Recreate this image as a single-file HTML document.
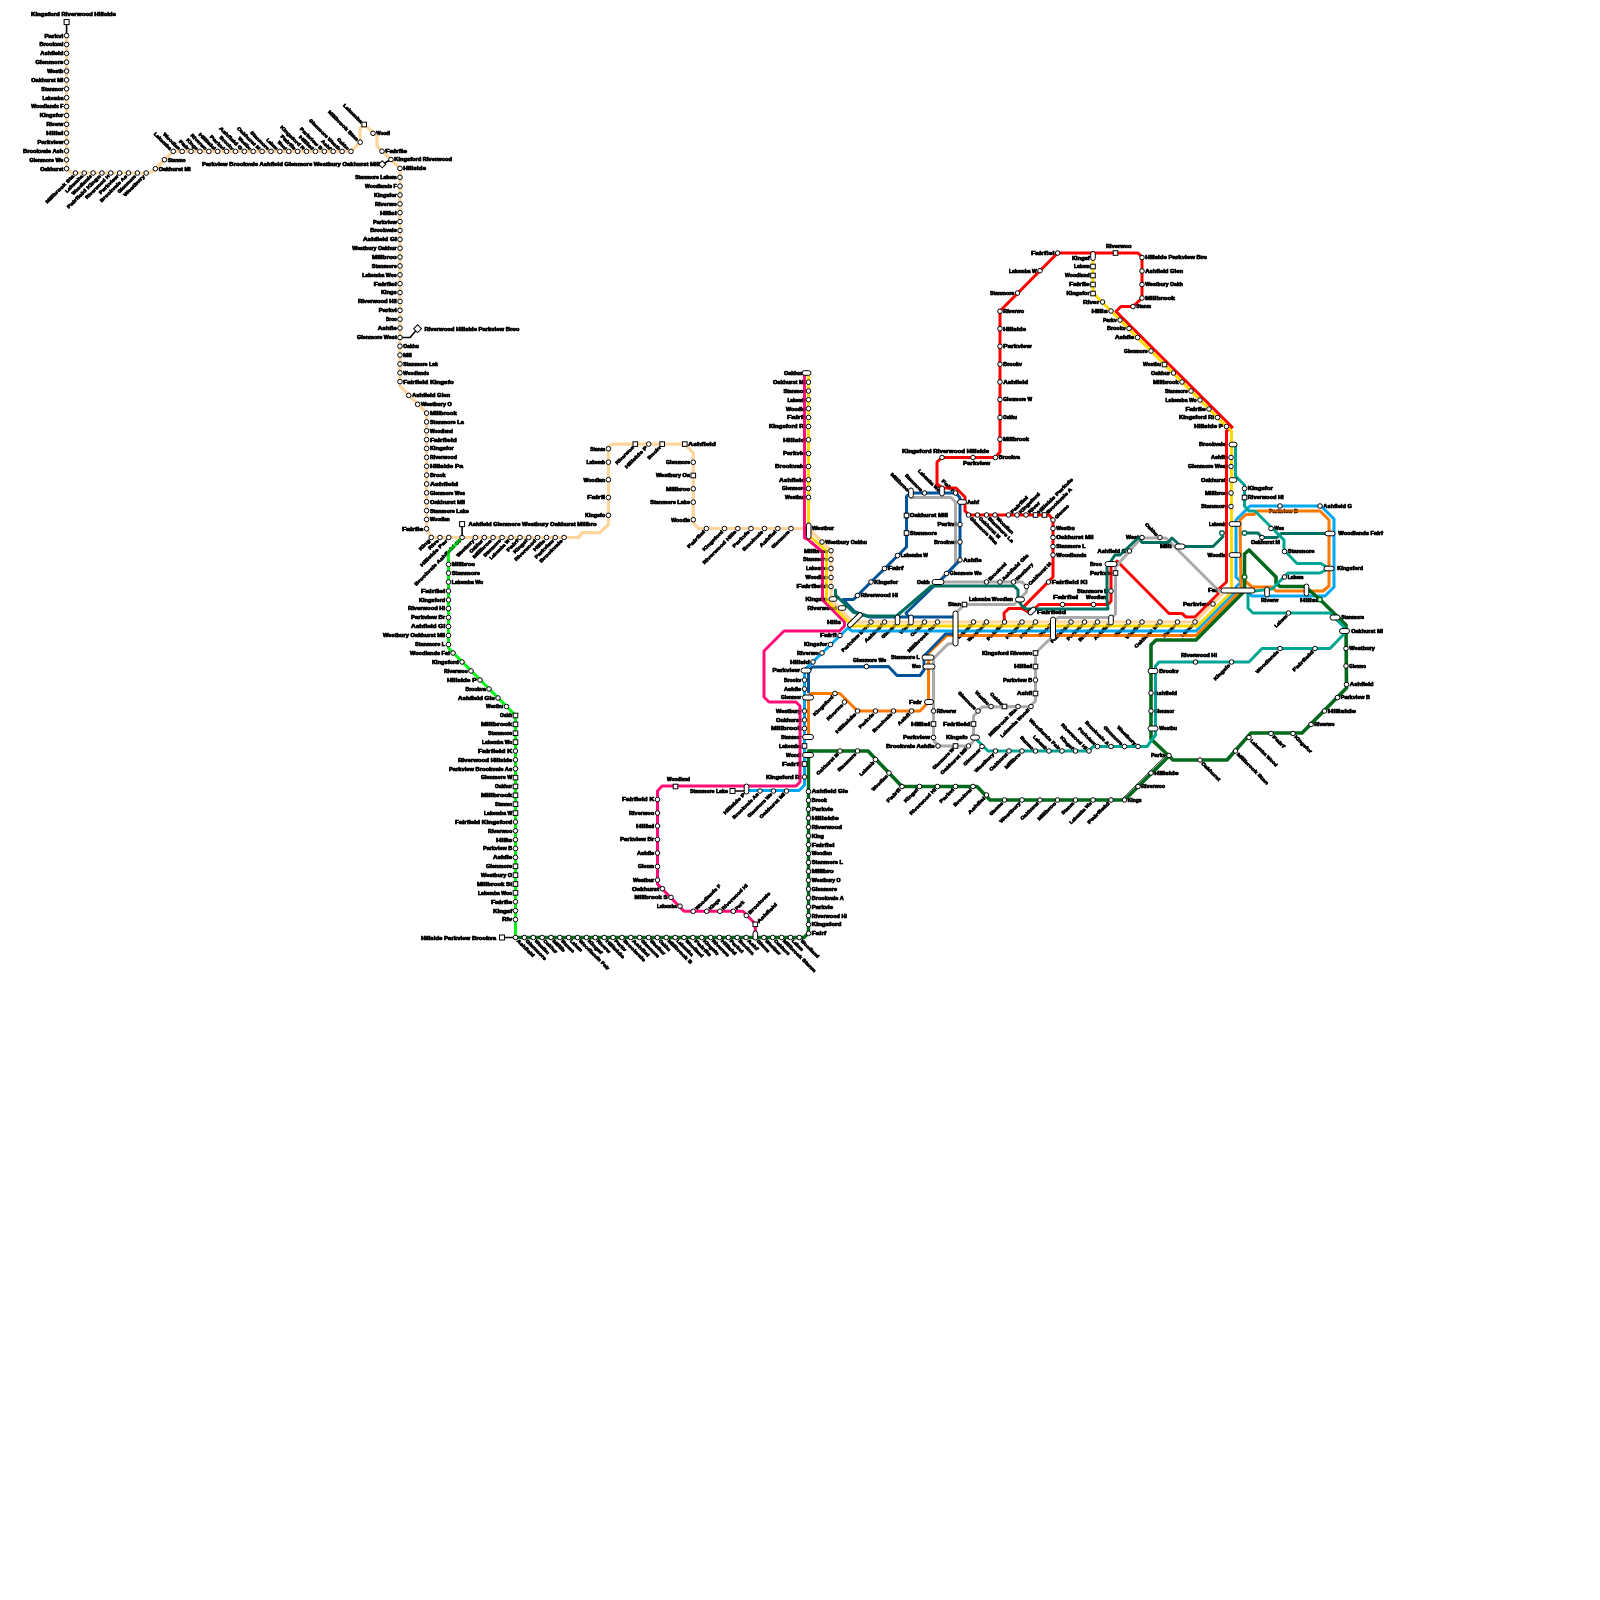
<!DOCTYPE html>
<html><head><meta charset="utf-8"><style>
html,body{margin:0;padding:0;background:#fff;width:1600px;height:1600px;overflow:hidden}
svg{display:block;will-change:transform}
text{font-family:"Liberation Sans",sans-serif;font-weight:bold;font-size:4.6px;fill:#000;stroke:#000;stroke-width:0.6px;stroke-linejoin:round}
.s{fill:#fff;stroke:#000;stroke-width:1.0}
</style></head><body>
<svg width="1600" height="1600" viewBox="0 0 1600 1600">
<text x="31.00" y="16.00" text-anchor="start" textLength="85.0" lengthAdjust="spacingAndGlyphs">Kingsford Riverwood Hillside</text>
<text x="63.30" y="37.50" text-anchor="end" textLength="18.9" lengthAdjust="spacingAndGlyphs">Parkvi</text>
<text x="63.30" y="46.37" text-anchor="end" textLength="23.9" lengthAdjust="spacingAndGlyphs">Brookval</text>
<text x="63.30" y="55.24" text-anchor="end" textLength="23.0" lengthAdjust="spacingAndGlyphs">Ashfield</text>
<text x="63.30" y="64.11" text-anchor="end" textLength="27.9" lengthAdjust="spacingAndGlyphs">Glenmore</text>
<text x="63.30" y="72.98" text-anchor="end" textLength="16.0" lengthAdjust="spacingAndGlyphs">Westb</text>
<text x="63.30" y="81.85" text-anchor="end" textLength="32.0" lengthAdjust="spacingAndGlyphs">Oakhurst Mi</text>
<text x="63.30" y="90.72" text-anchor="end" textLength="22.0" lengthAdjust="spacingAndGlyphs">Stanmor</text>
<text x="63.30" y="99.59" text-anchor="end" textLength="20.8" lengthAdjust="spacingAndGlyphs">Lakemba</text>
<text x="63.30" y="108.46" text-anchor="end" textLength="32.0" lengthAdjust="spacingAndGlyphs">Woodlands F</text>
<text x="63.30" y="117.33" text-anchor="end" textLength="23.5" lengthAdjust="spacingAndGlyphs">Kingsfor</text>
<text x="63.30" y="126.20" text-anchor="end" textLength="16.8" lengthAdjust="spacingAndGlyphs">Riverw</text>
<text x="63.30" y="135.07" text-anchor="end" textLength="17.0" lengthAdjust="spacingAndGlyphs">Hillsi</text>
<text x="63.30" y="143.94" text-anchor="end" textLength="25.8" lengthAdjust="spacingAndGlyphs">Parkview</text>
<text x="63.30" y="152.81" text-anchor="end" textLength="40.2" lengthAdjust="spacingAndGlyphs">Brookvale Ash</text>
<text x="63.30" y="161.68" text-anchor="end" textLength="33.9" lengthAdjust="spacingAndGlyphs">Glenmore We</text>
<text x="63.30" y="170.55" text-anchor="end" textLength="23.0" lengthAdjust="spacingAndGlyphs">Oakhurst</text>
<text transform="translate(75.40,173.00) rotate(-45)" x="-3.3" y="1.9" text-anchor="end" textLength="38.4" lengthAdjust="spacingAndGlyphs">Millbrook Sta</text>
<text transform="translate(84.25,173.00) rotate(-45)" x="-3.3" y="1.9" text-anchor="end" textLength="23.1" lengthAdjust="spacingAndGlyphs">Lakemba</text>
<text transform="translate(93.10,173.00) rotate(-45)" x="-3.3" y="1.9" text-anchor="end" textLength="26.3" lengthAdjust="spacingAndGlyphs">Woodlands</text>
<text transform="translate(101.95,173.00) rotate(-45)" x="-3.3" y="1.9" text-anchor="end" textLength="45.4" lengthAdjust="spacingAndGlyphs">Fairfield Kings</text>
<text transform="translate(110.80,173.00) rotate(-45)" x="-3.3" y="1.9" text-anchor="end" textLength="32.1" lengthAdjust="spacingAndGlyphs">Riverwood H</text>
<text transform="translate(119.65,173.00) rotate(-45)" x="-3.3" y="1.9" text-anchor="end" textLength="25.3" lengthAdjust="spacingAndGlyphs">Parkview</text>
<text transform="translate(128.50,173.00) rotate(-45)" x="-3.3" y="1.9" text-anchor="end" textLength="36.6" lengthAdjust="spacingAndGlyphs">Brookvale As</text>
<text transform="translate(137.35,173.00) rotate(-45)" x="-3.3" y="1.9" text-anchor="end" textLength="23.9" lengthAdjust="spacingAndGlyphs">Glenmore</text>
<text transform="translate(146.20,173.00) rotate(-45)" x="-3.3" y="1.9" text-anchor="end" textLength="28.4" lengthAdjust="spacingAndGlyphs">Westbury</text>
<text x="158.70" y="170.65" textLength="31.9" lengthAdjust="spacingAndGlyphs">Oakhurst Mi</text>
<text x="167.70" y="161.65" textLength="17.9" lengthAdjust="spacingAndGlyphs">Stanmo</text>
<text transform="translate(173.25,151.40) rotate(45)" x="-3.3" y="1.9" text-anchor="end" textLength="22.9" lengthAdjust="spacingAndGlyphs">Lakemba</text>
<text transform="translate(182.14,151.40) rotate(45)" x="-3.3" y="1.9" text-anchor="end" textLength="22.4" lengthAdjust="spacingAndGlyphs">Woodlan</text>
<text transform="translate(191.02,151.40) rotate(45)" x="-3.3" y="1.9" text-anchor="end" textLength="12.4" lengthAdjust="spacingAndGlyphs">Fair</text>
<text transform="translate(199.91,151.40) rotate(45)" x="-3.3" y="1.9" text-anchor="end" textLength="14.4" lengthAdjust="spacingAndGlyphs">Kings</text>
<text transform="translate(208.80,151.40) rotate(45)" x="-3.3" y="1.9" text-anchor="end" textLength="20.9" lengthAdjust="spacingAndGlyphs">Riverwo</text>
<text transform="translate(217.69,151.40) rotate(45)" x="-3.3" y="1.9" text-anchor="end" textLength="22.2" lengthAdjust="spacingAndGlyphs">Hillsid</text>
<text transform="translate(226.57,151.40) rotate(45)" x="-3.3" y="1.9" text-anchor="end" textLength="18.9" lengthAdjust="spacingAndGlyphs">Parkvi</text>
<text transform="translate(235.46,151.40) rotate(45)" x="-3.3" y="1.9" text-anchor="end" textLength="17.9" lengthAdjust="spacingAndGlyphs">Brookv</text>
<text transform="translate(244.35,151.40) rotate(45)" x="-3.3" y="1.9" text-anchor="end" textLength="30.5" lengthAdjust="spacingAndGlyphs">Ashfield G</text>
<text transform="translate(253.23,151.40) rotate(45)" x="-3.3" y="1.9" text-anchor="end" textLength="16.6" lengthAdjust="spacingAndGlyphs">Westbu</text>
<text transform="translate(262.12,151.40) rotate(45)" x="-3.3" y="1.9" text-anchor="end" textLength="30.8" lengthAdjust="spacingAndGlyphs">Oakhurst M</text>
<text transform="translate(271.01,151.40) rotate(45)" x="-3.3" y="1.9" text-anchor="end" textLength="24.5" lengthAdjust="spacingAndGlyphs">Stanmore</text>
<text transform="translate(279.89,151.40) rotate(45)" x="-3.3" y="1.9" text-anchor="end" textLength="14.5" lengthAdjust="spacingAndGlyphs">Lakem</text>
<text transform="translate(288.78,151.40) rotate(45)" x="-3.3" y="1.9" text-anchor="end" textLength="11.1" lengthAdjust="spacingAndGlyphs">Wood</text>
<text transform="translate(297.67,151.40) rotate(45)" x="-3.3" y="1.9" text-anchor="end" textLength="19.5" lengthAdjust="spacingAndGlyphs">Fairfie</text>
<text transform="translate(306.56,151.40) rotate(45)" x="-3.3" y="1.9" text-anchor="end" textLength="32.4" lengthAdjust="spacingAndGlyphs">Kingsford R</text>
<text transform="translate(315.44,151.40) rotate(45)" x="-3.3" y="1.9" text-anchor="end" textLength="18.6" lengthAdjust="spacingAndGlyphs">Hillsi</text>
<text transform="translate(324.33,151.40) rotate(45)" x="-3.3" y="1.9" text-anchor="end" textLength="29.9" lengthAdjust="spacingAndGlyphs">Parkview B</text>
<text transform="translate(333.22,151.40) rotate(45)" x="-3.3" y="1.9" text-anchor="end" textLength="12.5" lengthAdjust="spacingAndGlyphs">Ashf</text>
<text transform="translate(342.10,151.40) rotate(45)" x="-3.3" y="1.9" text-anchor="end" textLength="41.9" lengthAdjust="spacingAndGlyphs">Glenmore Westb</text>
<text transform="translate(350.99,151.40) rotate(45)" x="-3.3" y="1.9" text-anchor="end" textLength="15.1" lengthAdjust="spacingAndGlyphs">Oakhu</text>
<text transform="translate(360.20,142.20) rotate(45)" x="-3.3" y="1.9" text-anchor="end" textLength="40.8" lengthAdjust="spacingAndGlyphs">Millbrook Stan</text>
<text transform="translate(364.20,124.50) rotate(45)" x="-3.3" y="1.9" text-anchor="end" textLength="25.3" lengthAdjust="spacingAndGlyphs">Lakemba</text>
<text x="376.30" y="135.20" textLength="13.7" lengthAdjust="spacingAndGlyphs">Woodl</text>
<text x="385.30" y="153.10" textLength="21.7" lengthAdjust="spacingAndGlyphs">Fairfie</text>
<text x="394.30" y="161.40" textLength="57.7" lengthAdjust="spacingAndGlyphs">Kingsford Riverwood</text>
<text x="403.30" y="170.30" textLength="22.7" lengthAdjust="spacingAndGlyphs">Hillside</text>
<text x="202.00" y="166.00" text-anchor="start" textLength="178.0" lengthAdjust="spacingAndGlyphs">Parkview Brookvale Ashfield Glenmore Westbury Oakhurst Mill</text>
<text x="396.70" y="179.17" text-anchor="end" textLength="41.5" lengthAdjust="spacingAndGlyphs">Stanmore Lakem</text>
<text x="396.70" y="188.04" text-anchor="end" textLength="31.7" lengthAdjust="spacingAndGlyphs">Woodlands F</text>
<text x="396.70" y="196.91" text-anchor="end" textLength="22.6" lengthAdjust="spacingAndGlyphs">Kingsfor</text>
<text x="396.70" y="205.78" text-anchor="end" textLength="21.8" lengthAdjust="spacingAndGlyphs">Riverwo</text>
<text x="396.70" y="214.65" text-anchor="end" textLength="16.7" lengthAdjust="spacingAndGlyphs">Hillsi</text>
<text x="396.70" y="223.52" text-anchor="end" textLength="23.7" lengthAdjust="spacingAndGlyphs">Parkview</text>
<text x="396.70" y="232.39" text-anchor="end" textLength="26.5" lengthAdjust="spacingAndGlyphs">Brookvale</text>
<text x="396.70" y="241.26" text-anchor="end" textLength="33.7" lengthAdjust="spacingAndGlyphs">Ashfield Gl</text>
<text x="396.70" y="250.13" text-anchor="end" textLength="44.5" lengthAdjust="spacingAndGlyphs">Westbury Oakhur</text>
<text x="396.70" y="259.00" text-anchor="end" textLength="24.7" lengthAdjust="spacingAndGlyphs">Millbroo</text>
<text x="396.70" y="267.87" text-anchor="end" textLength="24.9" lengthAdjust="spacingAndGlyphs">Stanmore</text>
<text x="396.70" y="276.74" text-anchor="end" textLength="34.4" lengthAdjust="spacingAndGlyphs">Lakemba Woo</text>
<text x="396.70" y="285.61" text-anchor="end" textLength="22.9" lengthAdjust="spacingAndGlyphs">Fairfiel</text>
<text x="396.70" y="294.48" text-anchor="end" textLength="15.7" lengthAdjust="spacingAndGlyphs">Kings</text>
<text x="396.70" y="303.35" text-anchor="end" textLength="38.7" lengthAdjust="spacingAndGlyphs">Riverwood Hil</text>
<text x="396.70" y="312.22" text-anchor="end" textLength="17.9" lengthAdjust="spacingAndGlyphs">Parkvi</text>
<text x="396.70" y="321.09" text-anchor="end" textLength="10.6" lengthAdjust="spacingAndGlyphs">Broo</text>
<text x="396.70" y="329.96" text-anchor="end" textLength="19.0" lengthAdjust="spacingAndGlyphs">Ashfie</text>
<text x="396.70" y="339.40" text-anchor="end" textLength="39.7" lengthAdjust="spacingAndGlyphs">Glenmore West</text>
<text x="403.30" y="348.10" textLength="15.4" lengthAdjust="spacingAndGlyphs">Oakhu</text>
<text x="403.30" y="356.97" textLength="8.4" lengthAdjust="spacingAndGlyphs">Mil</text>
<text x="403.30" y="365.84" textLength="34.7" lengthAdjust="spacingAndGlyphs">Stanmore Lak</text>
<text x="403.30" y="374.71" textLength="25.5" lengthAdjust="spacingAndGlyphs">Woodlands</text>
<text x="403.30" y="383.58" textLength="50.4" lengthAdjust="spacingAndGlyphs">Fairfield Kingsfo</text>
<text x="424.40" y="330.60" text-anchor="start" textLength="95.0" lengthAdjust="spacingAndGlyphs">Riverwood Hillside Parkview Broo</text>
<text x="412.00" y="397.30" textLength="38.2" lengthAdjust="spacingAndGlyphs">Ashfield Glen</text>
<text x="420.90" y="406.20" textLength="30.9" lengthAdjust="spacingAndGlyphs">Westbury O</text>
<text x="429.90" y="415.00" textLength="26.9" lengthAdjust="spacingAndGlyphs">Millbrook</text>
<text x="429.90" y="423.80" textLength="33.9" lengthAdjust="spacingAndGlyphs">Stanmore La</text>
<text x="429.90" y="432.67" textLength="23.0" lengthAdjust="spacingAndGlyphs">Woodland</text>
<text x="429.90" y="441.54" textLength="26.9" lengthAdjust="spacingAndGlyphs">Fairfield</text>
<text x="429.90" y="450.41" textLength="23.8" lengthAdjust="spacingAndGlyphs">Kingsfor</text>
<text x="429.90" y="459.28" textLength="27.0" lengthAdjust="spacingAndGlyphs">Riverwood</text>
<text x="429.90" y="468.15" textLength="33.2" lengthAdjust="spacingAndGlyphs">Hillside Pa</text>
<text x="429.90" y="477.02" textLength="15.7" lengthAdjust="spacingAndGlyphs">Brook</text>
<text x="429.90" y="485.89" textLength="28.2" lengthAdjust="spacingAndGlyphs">Ashfield</text>
<text x="429.90" y="494.76" textLength="35.1" lengthAdjust="spacingAndGlyphs">Glenmore Wes</text>
<text x="429.90" y="503.63" textLength="35.1" lengthAdjust="spacingAndGlyphs">Oakhurst Mil</text>
<text x="429.90" y="512.50" textLength="38.8" lengthAdjust="spacingAndGlyphs">Stanmore Lake</text>
<text x="429.90" y="521.37" textLength="19.8" lengthAdjust="spacingAndGlyphs">Woodlan</text>
<text x="423.30" y="530.65" text-anchor="end" textLength="21.4" lengthAdjust="spacingAndGlyphs">Fairfie</text>
<text transform="translate(431.25,537.50) rotate(-45)" x="-3.3" y="1.9" text-anchor="end" textLength="13.5" lengthAdjust="spacingAndGlyphs">King</text>
<text transform="translate(440.00,537.50) rotate(-45)" x="-3.3" y="1.9" text-anchor="end" textLength="12.6" lengthAdjust="spacingAndGlyphs">Rive</text>
<text transform="translate(448.75,537.50) rotate(-45)" x="-3.3" y="1.9" text-anchor="end" textLength="36.5" lengthAdjust="spacingAndGlyphs">Hillside Par</text>
<text transform="translate(462.10,537.50) rotate(-45)" x="-3.3" y="1.9" text-anchor="end" textLength="63.3" lengthAdjust="spacingAndGlyphs">Brookvale Ashfield Gl</text>
<text transform="translate(475.40,537.50) rotate(-45)" x="-3.3" y="1.9" text-anchor="end" textLength="22.9" lengthAdjust="spacingAndGlyphs">Westbury</text>
<text transform="translate(484.40,537.50) rotate(-45)" x="-3.3" y="1.9" text-anchor="end" textLength="17.1" lengthAdjust="spacingAndGlyphs">Oakhur</text>
<text transform="translate(493.10,537.50) rotate(-45)" x="-3.3" y="1.9" text-anchor="end" textLength="25.0" lengthAdjust="spacingAndGlyphs">Millbroo</text>
<text transform="translate(502.10,537.50) rotate(-45)" x="-3.3" y="1.9" text-anchor="end" textLength="22.6" lengthAdjust="spacingAndGlyphs">Stanmore</text>
<text transform="translate(511.00,537.50) rotate(-45)" x="-3.3" y="1.9" text-anchor="end" textLength="26.4" lengthAdjust="spacingAndGlyphs">Lakemba W</text>
<text transform="translate(520.00,537.50) rotate(-45)" x="-3.3" y="1.9" text-anchor="end" textLength="15.2" lengthAdjust="spacingAndGlyphs">Fairf</text>
<text transform="translate(528.75,537.50) rotate(-45)" x="-3.3" y="1.9" text-anchor="end" textLength="17.9" lengthAdjust="spacingAndGlyphs">Kingsf</text>
<text transform="translate(537.50,537.50) rotate(-45)" x="-3.3" y="1.9" text-anchor="end" textLength="28.5" lengthAdjust="spacingAndGlyphs">Riverwood</text>
<text transform="translate(546.50,537.50) rotate(-45)" x="-3.3" y="1.9" text-anchor="end" textLength="14.7" lengthAdjust="spacingAndGlyphs">Hills</text>
<text transform="translate(555.25,537.50) rotate(-45)" x="-3.3" y="1.9" text-anchor="end" textLength="25.3" lengthAdjust="spacingAndGlyphs">Parkview</text>
<text transform="translate(564.10,537.50) rotate(-45)" x="-3.3" y="1.9" text-anchor="end" textLength="30.8" lengthAdjust="spacingAndGlyphs">Brookvale</text>
<text x="468.50" y="526.00" text-anchor="start" textLength="128.0" lengthAdjust="spacingAndGlyphs">Ashfield Glenmore Westbury Oakhurst Millbro</text>
<text x="605.10" y="450.65" text-anchor="end" textLength="14.9" lengthAdjust="spacingAndGlyphs">Stanm</text>
<text x="605.10" y="464.10" text-anchor="end" textLength="18.7" lengthAdjust="spacingAndGlyphs">Lakemb</text>
<text x="605.10" y="481.60" text-anchor="end" textLength="21.7" lengthAdjust="spacingAndGlyphs">Woodlan</text>
<text x="605.10" y="499.40" text-anchor="end" textLength="17.8" lengthAdjust="spacingAndGlyphs">Fairfi</text>
<text x="605.10" y="517.20" text-anchor="end" textLength="20.1" lengthAdjust="spacingAndGlyphs">Kingsfo</text>
<text transform="translate(635.30,444.10) rotate(-45)" x="-3.3" y="1.9" text-anchor="end" textLength="24.1" lengthAdjust="spacingAndGlyphs">Riverwoo</text>
<text transform="translate(648.70,444.10) rotate(-45)" x="-3.3" y="1.9" text-anchor="end" textLength="29.8" lengthAdjust="spacingAndGlyphs">Hillside P</text>
<text transform="translate(662.20,444.10) rotate(-45)" x="-3.3" y="1.9" text-anchor="end" textLength="17.1" lengthAdjust="spacingAndGlyphs">Brookv</text>
<text x="688.10" y="446.00" textLength="27.7" lengthAdjust="spacingAndGlyphs">Ashfield</text>
<text x="690.00" y="464.20" text-anchor="end" textLength="23.9" lengthAdjust="spacingAndGlyphs">Glenmore</text>
<text x="690.00" y="477.40" text-anchor="end" textLength="34.0" lengthAdjust="spacingAndGlyphs">Westbury Oa</text>
<text x="690.00" y="490.70" text-anchor="end" textLength="23.9" lengthAdjust="spacingAndGlyphs">Millbroo</text>
<text x="690.00" y="504.10" text-anchor="end" textLength="39.8" lengthAdjust="spacingAndGlyphs">Stanmore Lake</text>
<text x="690.00" y="521.60" text-anchor="end" textLength="18.7" lengthAdjust="spacingAndGlyphs">Woodla</text>
<text transform="translate(706.40,528.50) rotate(-45)" x="-3.3" y="1.9" text-anchor="end" textLength="23.1" lengthAdjust="spacingAndGlyphs">Fairfiel</text>
<text transform="translate(724.50,528.50) rotate(-45)" x="-3.3" y="1.9" text-anchor="end" textLength="27.1" lengthAdjust="spacingAndGlyphs">Kingsford</text>
<text transform="translate(737.75,528.50) rotate(-45)" x="-3.3" y="1.9" text-anchor="end" textLength="45.8" lengthAdjust="spacingAndGlyphs">Riverwood Hills</text>
<text transform="translate(751.00,528.50) rotate(-45)" x="-3.3" y="1.9" text-anchor="end" textLength="22.2" lengthAdjust="spacingAndGlyphs">Parkvie</text>
<text transform="translate(764.50,528.50) rotate(-45)" x="-3.3" y="1.9" text-anchor="end" textLength="27.1" lengthAdjust="spacingAndGlyphs">Brookvale</text>
<text transform="translate(777.75,528.50) rotate(-45)" x="-3.3" y="1.9" text-anchor="end" textLength="21.8" lengthAdjust="spacingAndGlyphs">Ashfiel</text>
<text transform="translate(791.00,528.50) rotate(-45)" x="-3.3" y="1.9" text-anchor="end" textLength="23.6" lengthAdjust="spacingAndGlyphs">Glenmore</text>
<text x="812.00" y="530.40" text-anchor="start" textLength="22.0" lengthAdjust="spacingAndGlyphs">Westbur</text>
<text x="805.20" y="384.10" text-anchor="end" textLength="32.2" lengthAdjust="spacingAndGlyphs">Oakhurst Mi</text>
<text x="805.20" y="392.90" text-anchor="end" textLength="21.7" lengthAdjust="spacingAndGlyphs">Stanmor</text>
<text x="805.20" y="401.65" text-anchor="end" textLength="17.7" lengthAdjust="spacingAndGlyphs">Lakemb</text>
<text x="805.20" y="410.50" text-anchor="end" textLength="19.2" lengthAdjust="spacingAndGlyphs">Woodla</text>
<text x="805.20" y="419.40" text-anchor="end" textLength="18.2" lengthAdjust="spacingAndGlyphs">Fairfi</text>
<text x="805.20" y="428.40" text-anchor="end" textLength="36.2" lengthAdjust="spacingAndGlyphs">Kingsford Ri</text>
<text x="805.20" y="441.65" text-anchor="end" textLength="22.2" lengthAdjust="spacingAndGlyphs">Hillsid</text>
<text x="805.20" y="455.40" text-anchor="end" textLength="22.2" lengthAdjust="spacingAndGlyphs">Parkvie</text>
<text x="805.20" y="468.40" text-anchor="end" textLength="30.2" lengthAdjust="spacingAndGlyphs">Brookvale</text>
<text x="805.20" y="481.65" text-anchor="end" textLength="26.2" lengthAdjust="spacingAndGlyphs">Ashfield</text>
<text x="805.20" y="490.40" text-anchor="end" textLength="23.2" lengthAdjust="spacingAndGlyphs">Glenmore</text>
<text x="805.20" y="499.20" text-anchor="end" textLength="20.2" lengthAdjust="spacingAndGlyphs">Westbur</text>
<text x="784.00" y="375.00" text-anchor="start" textLength="19.0" lengthAdjust="spacingAndGlyphs">Oakhur</text>
<text x="451.80" y="566.30" textLength="23.2" lengthAdjust="spacingAndGlyphs">Millbroo</text>
<text x="451.80" y="575.00" textLength="28.2" lengthAdjust="spacingAndGlyphs">Stanmore</text>
<text x="451.80" y="583.90" textLength="31.2" lengthAdjust="spacingAndGlyphs">Lakemba Wo</text>
<text x="445.20" y="592.90" text-anchor="end" textLength="24.2" lengthAdjust="spacingAndGlyphs">Fairfiel</text>
<text x="445.20" y="601.90" text-anchor="end" textLength="26.2" lengthAdjust="spacingAndGlyphs">Kingsford</text>
<text x="445.20" y="610.40" text-anchor="end" textLength="37.2" lengthAdjust="spacingAndGlyphs">Riverwood Hi</text>
<text x="445.20" y="619.40" text-anchor="end" textLength="34.2" lengthAdjust="spacingAndGlyphs">Parkview Br</text>
<text x="445.20" y="628.40" text-anchor="end" textLength="34.2" lengthAdjust="spacingAndGlyphs">Ashfield Gl</text>
<text x="445.20" y="637.40" text-anchor="end" textLength="62.2" lengthAdjust="spacingAndGlyphs">Westbury Oakhurst Mil</text>
<text x="445.20" y="646.40" text-anchor="end" textLength="30.2" lengthAdjust="spacingAndGlyphs">Stanmore L</text>
<text x="449.70" y="654.90" text-anchor="end" textLength="39.7" lengthAdjust="spacingAndGlyphs">Woodlands Fai</text>
<text x="458.70" y="663.90" text-anchor="end" textLength="26.7" lengthAdjust="spacingAndGlyphs">Kingsford</text>
<text x="467.70" y="672.90" text-anchor="end" textLength="23.7" lengthAdjust="spacingAndGlyphs">Riverwoo</text>
<text x="476.70" y="681.90" text-anchor="end" textLength="29.7" lengthAdjust="spacingAndGlyphs">Hillside P</text>
<text x="485.70" y="690.90" text-anchor="end" textLength="20.2" lengthAdjust="spacingAndGlyphs">Brookva</text>
<text x="494.70" y="699.90" text-anchor="end" textLength="36.7" lengthAdjust="spacingAndGlyphs">Ashfield Gle</text>
<text x="503.20" y="708.40" text-anchor="end" textLength="17.2" lengthAdjust="spacingAndGlyphs">Westbu</text>
<text x="512.20" y="717.40" text-anchor="end" textLength="12.2" lengthAdjust="spacingAndGlyphs">Oakh</text>
<text x="512.20" y="726.27" text-anchor="end" textLength="31.2" lengthAdjust="spacingAndGlyphs">Millbrook</text>
<text x="512.20" y="735.14" text-anchor="end" textLength="24.2" lengthAdjust="spacingAndGlyphs">Stanmore</text>
<text x="512.20" y="744.01" text-anchor="end" textLength="30.2" lengthAdjust="spacingAndGlyphs">Lakemba Wo</text>
<text x="512.20" y="752.88" text-anchor="end" textLength="34.2" lengthAdjust="spacingAndGlyphs">Fairfield K</text>
<text x="512.20" y="761.75" text-anchor="end" textLength="54.2" lengthAdjust="spacingAndGlyphs">Riverwood Hillside</text>
<text x="512.20" y="770.62" text-anchor="end" textLength="63.2" lengthAdjust="spacingAndGlyphs">Parkview Brookvale As</text>
<text x="512.20" y="779.49" text-anchor="end" textLength="31.2" lengthAdjust="spacingAndGlyphs">Glenmore W</text>
<text x="512.20" y="788.36" text-anchor="end" textLength="17.2" lengthAdjust="spacingAndGlyphs">Oakhur</text>
<text x="512.20" y="797.23" text-anchor="end" textLength="31.2" lengthAdjust="spacingAndGlyphs">Millbrook</text>
<text x="512.20" y="806.10" text-anchor="end" textLength="17.2" lengthAdjust="spacingAndGlyphs">Stanmo</text>
<text x="512.20" y="814.97" text-anchor="end" textLength="28.2" lengthAdjust="spacingAndGlyphs">Lakemba W</text>
<text x="512.20" y="823.84" text-anchor="end" textLength="57.2" lengthAdjust="spacingAndGlyphs">Fairfield Kingsford</text>
<text x="512.20" y="832.71" text-anchor="end" textLength="24.2" lengthAdjust="spacingAndGlyphs">Riverwoo</text>
<text x="512.20" y="841.58" text-anchor="end" textLength="16.2" lengthAdjust="spacingAndGlyphs">Hills</text>
<text x="512.20" y="850.45" text-anchor="end" textLength="29.2" lengthAdjust="spacingAndGlyphs">Parkview B</text>
<text x="512.20" y="859.32" text-anchor="end" textLength="19.2" lengthAdjust="spacingAndGlyphs">Ashfie</text>
<text x="512.20" y="868.19" text-anchor="end" textLength="26.2" lengthAdjust="spacingAndGlyphs">Glenmore</text>
<text x="512.20" y="877.06" text-anchor="end" textLength="31.2" lengthAdjust="spacingAndGlyphs">Westbury O</text>
<text x="512.20" y="885.93" text-anchor="end" textLength="35.2" lengthAdjust="spacingAndGlyphs">Millbrook St</text>
<text x="512.20" y="894.80" text-anchor="end" textLength="34.2" lengthAdjust="spacingAndGlyphs">Lakemba Woo</text>
<text x="512.20" y="903.67" text-anchor="end" textLength="21.2" lengthAdjust="spacingAndGlyphs">Fairfie</text>
<text x="512.20" y="912.54" text-anchor="end" textLength="19.2" lengthAdjust="spacingAndGlyphs">Kingsf</text>
<text x="512.20" y="921.41" text-anchor="end" textLength="10.2" lengthAdjust="spacingAndGlyphs">Riv</text>
<text x="496.00" y="939.50" text-anchor="end" textLength="75.0" lengthAdjust="spacingAndGlyphs">Hillside Parkview Brookva</text>
<text transform="translate(515.50,937.50) rotate(45)" x="3.3" y="1.9" textLength="22.9" lengthAdjust="spacingAndGlyphs">Ashfield</text>
<text transform="translate(524.37,937.50) rotate(45)" x="3.3" y="1.9" textLength="27.3" lengthAdjust="spacingAndGlyphs">Glenmore</text>
<text transform="translate(533.24,937.50) rotate(45)" x="3.3" y="1.9" textLength="19.0" lengthAdjust="spacingAndGlyphs">Westbu</text>
<text transform="translate(542.11,937.50) rotate(45)" x="3.3" y="1.9" textLength="17.8" lengthAdjust="spacingAndGlyphs">Oakhur</text>
<text transform="translate(550.98,937.50) rotate(45)" x="3.3" y="1.9" textLength="15.8" lengthAdjust="spacingAndGlyphs">Millb</text>
<text transform="translate(559.85,937.50) rotate(45)" x="3.3" y="1.9" textLength="16.7" lengthAdjust="spacingAndGlyphs">Stanmo</text>
<text transform="translate(568.72,937.50) rotate(45)" x="3.3" y="1.9" textLength="15.5" lengthAdjust="spacingAndGlyphs">Lakem</text>
<text transform="translate(577.59,937.50) rotate(45)" x="3.3" y="1.9" textLength="41.1" lengthAdjust="spacingAndGlyphs">Woodlands Fair</text>
<text transform="translate(586.46,937.50) rotate(45)" x="3.3" y="1.9" textLength="18.7" lengthAdjust="spacingAndGlyphs">Kingsf</text>
<text transform="translate(595.33,937.50) rotate(45)" x="3.3" y="1.9" textLength="17.4" lengthAdjust="spacingAndGlyphs">Riverw</text>
<text transform="translate(604.20,937.50) rotate(45)" x="3.3" y="1.9" textLength="24.7" lengthAdjust="spacingAndGlyphs">Hillside</text>
<text transform="translate(613.07,937.50) rotate(45)" x="3.3" y="1.9" textLength="15.0" lengthAdjust="spacingAndGlyphs">Parkv</text>
<text transform="translate(621.94,937.50) rotate(45)" x="3.3" y="1.9" textLength="29.3" lengthAdjust="spacingAndGlyphs">Brookvale</text>
<text transform="translate(630.81,937.50) rotate(45)" x="3.3" y="1.9" textLength="22.4" lengthAdjust="spacingAndGlyphs">Ashfiel</text>
<text transform="translate(639.68,937.50) rotate(45)" x="3.3" y="1.9" textLength="24.0" lengthAdjust="spacingAndGlyphs">Glenmore</text>
<text transform="translate(648.55,937.50) rotate(45)" x="3.3" y="1.9" textLength="20.0" lengthAdjust="spacingAndGlyphs">Westbur</text>
<text transform="translate(657.42,937.50) rotate(45)" x="3.3" y="1.9" textLength="14.8" lengthAdjust="spacingAndGlyphs">Oakhu</text>
<text transform="translate(666.29,937.50) rotate(45)" x="3.3" y="1.9" textLength="32.5" lengthAdjust="spacingAndGlyphs">Millbrook S</text>
<text transform="translate(675.16,937.50) rotate(45)" x="3.3" y="1.9" textLength="21.5" lengthAdjust="spacingAndGlyphs">Lakemba</text>
<text transform="translate(684.03,937.50) rotate(45)" x="3.3" y="1.9" textLength="23.4" lengthAdjust="spacingAndGlyphs">Woodland</text>
<text transform="translate(692.90,937.50) rotate(45)" x="3.3" y="1.9" textLength="21.9" lengthAdjust="spacingAndGlyphs">Fairfie</text>
<text transform="translate(701.77,937.50) rotate(45)" x="3.3" y="1.9" textLength="20.5" lengthAdjust="spacingAndGlyphs">Kingsfo</text>
<text transform="translate(710.64,937.50) rotate(45)" x="3.3" y="1.9" textLength="22.4" lengthAdjust="spacingAndGlyphs">Riverwo</text>
<text transform="translate(719.51,937.50) rotate(45)" x="3.3" y="1.9" textLength="20.0" lengthAdjust="spacingAndGlyphs">Hillsid</text>
<text transform="translate(728.38,937.50) rotate(45)" x="3.3" y="1.9" textLength="17.4" lengthAdjust="spacingAndGlyphs">Parkvi</text>
<text transform="translate(737.25,937.50) rotate(45)" x="3.3" y="1.9" textLength="19.7" lengthAdjust="spacingAndGlyphs">Brookva</text>
<text transform="translate(746.12,937.50) rotate(45)" x="3.3" y="1.9" textLength="13.5" lengthAdjust="spacingAndGlyphs">Ashf</text>
<text transform="translate(755.30,937.50) rotate(45)" x="3.3" y="1.9" textLength="16.4" lengthAdjust="spacingAndGlyphs">Glenm</text>
<text transform="translate(763.86,937.50) rotate(45)" x="3.3" y="1.9" textLength="20.2" lengthAdjust="spacingAndGlyphs">Westbur</text>
<text transform="translate(772.73,937.50) rotate(45)" x="3.3" y="1.9" textLength="20.4" lengthAdjust="spacingAndGlyphs">Oakhurs</text>
<text transform="translate(781.60,937.50) rotate(45)" x="3.3" y="1.9" textLength="44.5" lengthAdjust="spacingAndGlyphs">Millbrook Stanm</text>
<text transform="translate(790.47,937.50) rotate(45)" x="3.3" y="1.9" textLength="14.4" lengthAdjust="spacingAndGlyphs">Lakem</text>
<text transform="translate(799.34,937.50) rotate(45)" x="3.3" y="1.9" textLength="24.2" lengthAdjust="spacingAndGlyphs">Woodland</text>
<text x="811.80" y="935.30" textLength="14.4" lengthAdjust="spacingAndGlyphs">Fairf</text>
<text x="811.80" y="926.43" textLength="29.4" lengthAdjust="spacingAndGlyphs">Kingsford</text>
<text x="811.80" y="917.56" textLength="35.1" lengthAdjust="spacingAndGlyphs">Riverwood Hi</text>
<text x="811.80" y="908.69" textLength="21.3" lengthAdjust="spacingAndGlyphs">Parkvie</text>
<text x="811.80" y="899.82" textLength="31.9" lengthAdjust="spacingAndGlyphs">Brookvale A</text>
<text x="811.80" y="890.95" textLength="25.1" lengthAdjust="spacingAndGlyphs">Glenmore</text>
<text x="811.80" y="882.08" textLength="28.8" lengthAdjust="spacingAndGlyphs">Westbury O</text>
<text x="811.80" y="873.21" textLength="21.9" lengthAdjust="spacingAndGlyphs">Millbro</text>
<text x="811.80" y="864.34" textLength="31.3" lengthAdjust="spacingAndGlyphs">Stanmore L</text>
<text x="811.80" y="855.47" textLength="20.1" lengthAdjust="spacingAndGlyphs">Woodlan</text>
<text x="811.80" y="846.60" textLength="22.6" lengthAdjust="spacingAndGlyphs">Fairfiel</text>
<text x="811.80" y="837.73" textLength="11.9" lengthAdjust="spacingAndGlyphs">King</text>
<text x="811.80" y="828.86" textLength="30.1" lengthAdjust="spacingAndGlyphs">Riverwood</text>
<text x="811.80" y="819.99" textLength="26.9" lengthAdjust="spacingAndGlyphs">Hillside</text>
<text x="811.80" y="811.12" textLength="21.3" lengthAdjust="spacingAndGlyphs">Parkvie</text>
<text x="811.80" y="802.25" textLength="15.1" lengthAdjust="spacingAndGlyphs">Brook</text>
<text x="811.80" y="793.38" textLength="36.2" lengthAdjust="spacingAndGlyphs">Ashfield Gle</text>
<text x="825.30" y="543.90" textLength="41.7" lengthAdjust="spacingAndGlyphs">Westbury Oakhu</text>
<text x="827.70" y="552.60" text-anchor="end" textLength="23.7" lengthAdjust="spacingAndGlyphs">Millbroo</text>
<text x="827.70" y="561.40" text-anchor="end" textLength="24.7" lengthAdjust="spacingAndGlyphs">Stanmore</text>
<text x="827.70" y="570.40" text-anchor="end" textLength="21.7" lengthAdjust="spacingAndGlyphs">Lakemba</text>
<text x="827.70" y="579.40" text-anchor="end" textLength="22.2" lengthAdjust="spacingAndGlyphs">Woodlan</text>
<text x="827.70" y="588.40" text-anchor="end" textLength="31.2" lengthAdjust="spacingAndGlyphs">Fairfield</text>
<text x="827.70" y="600.90" text-anchor="end" textLength="22.2" lengthAdjust="spacingAndGlyphs">Kingsfo</text>
<text x="836.70" y="609.90" text-anchor="end" textLength="29.2" lengthAdjust="spacingAndGlyphs">Riverwood</text>
<text x="841.00" y="624.00" text-anchor="end" textLength="14.0" lengthAdjust="spacingAndGlyphs">Hills</text>
<text transform="translate(871.00,622.00) rotate(-45)" x="-3.3" y="1.9" text-anchor="end" textLength="37.7" lengthAdjust="spacingAndGlyphs">Parkview Broo</text>
<text transform="translate(884.50,622.00) rotate(-45)" x="-3.3" y="1.9" text-anchor="end" textLength="24.3" lengthAdjust="spacingAndGlyphs">Ashfield</text>
<text transform="translate(897.50,622.00) rotate(-45)" x="-3.3" y="1.9" text-anchor="end" textLength="18.6" lengthAdjust="spacingAndGlyphs">Glenmo</text>
<text transform="translate(911.00,622.00) rotate(-45)" x="-3.3" y="1.9" text-anchor="end" textLength="12.3" lengthAdjust="spacingAndGlyphs">West</text>
<text transform="translate(924.50,622.00) rotate(-45)" x="-3.3" y="1.9" text-anchor="end" textLength="15.8" lengthAdjust="spacingAndGlyphs">Oakhu</text>
<text transform="translate(937.50,622.00) rotate(-45)" x="-3.3" y="1.9" text-anchor="end" textLength="38.4" lengthAdjust="spacingAndGlyphs">Millbrook Sta</text>
<text transform="translate(973.50,622.00) rotate(-45)" x="-3.3" y="1.9" text-anchor="end" textLength="18.6" lengthAdjust="spacingAndGlyphs">Lakemb</text>
<text transform="translate(986.50,622.00) rotate(-45)" x="-3.3" y="1.9" text-anchor="end" textLength="22.9" lengthAdjust="spacingAndGlyphs">Woodland</text>
<text transform="translate(1004.50,622.00) rotate(-45)" x="-3.3" y="1.9" text-anchor="end" textLength="21.4" lengthAdjust="spacingAndGlyphs">Fairfie</text>
<text transform="translate(1022.00,622.00) rotate(-45)" x="-3.3" y="1.9" text-anchor="end" textLength="19.3" lengthAdjust="spacingAndGlyphs">Kingsf</text>
<text transform="translate(1035.50,622.00) rotate(-45)" x="-3.3" y="1.9" text-anchor="end" textLength="18.6" lengthAdjust="spacingAndGlyphs">Riverw</text>
<text transform="translate(1071.00,622.00) rotate(-45)" x="-3.3" y="1.9" text-anchor="end" textLength="25.0" lengthAdjust="spacingAndGlyphs">Hillside</text>
<text transform="translate(1084.50,622.00) rotate(-45)" x="-3.3" y="1.9" text-anchor="end" textLength="21.4" lengthAdjust="spacingAndGlyphs">Parkvie</text>
<text transform="translate(1097.50,622.00) rotate(-45)" x="-3.3" y="1.9" text-anchor="end" textLength="22.9" lengthAdjust="spacingAndGlyphs">Brookval</text>
<text transform="translate(1111.00,622.00) rotate(-45)" x="-3.3" y="1.9" text-anchor="end" textLength="20.7" lengthAdjust="spacingAndGlyphs">Ashfiel</text>
<text transform="translate(1128.50,622.00) rotate(-45)" x="-3.3" y="1.9" text-anchor="end" textLength="15.8" lengthAdjust="spacingAndGlyphs">Glenm</text>
<text transform="translate(1142.00,622.00) rotate(-45)" x="-3.3" y="1.9" text-anchor="end" textLength="19.3" lengthAdjust="spacingAndGlyphs">Westbu</text>
<text transform="translate(1160.00,622.00) rotate(-45)" x="-3.3" y="1.9" text-anchor="end" textLength="32.1" lengthAdjust="spacingAndGlyphs">Oakhurst Mi</text>
<text transform="translate(1177.50,622.00) rotate(-45)" x="-3.3" y="1.9" text-anchor="end" textLength="17.2" lengthAdjust="spacingAndGlyphs">Stanmo</text>
<text transform="translate(1195.00,622.00) rotate(-45)" x="-3.3" y="1.9" text-anchor="end" textLength="16.5" lengthAdjust="spacingAndGlyphs">Lakem</text>
<text transform="translate(1053.00,622.00) rotate(-45)" x="-3.3" y="1.9" text-anchor="end" textLength="16.5" lengthAdjust="spacingAndGlyphs">Woodl</text>
<text x="836.70" y="637.40" text-anchor="end" textLength="16.7" lengthAdjust="spacingAndGlyphs">Fairfi</text>
<text x="827.20" y="646.40" text-anchor="end" textLength="23.2" lengthAdjust="spacingAndGlyphs">Kingsfor</text>
<text x="818.70" y="654.90" text-anchor="end" textLength="21.7" lengthAdjust="spacingAndGlyphs">Riverwo</text>
<text x="809.70" y="663.90" text-anchor="end" textLength="19.7" lengthAdjust="spacingAndGlyphs">Hillsid</text>
<text x="799.70" y="672.40" text-anchor="end" textLength="27.2" lengthAdjust="spacingAndGlyphs">Parkview</text>
<text x="801.20" y="681.90" text-anchor="end" textLength="17.2" lengthAdjust="spacingAndGlyphs">Brookv</text>
<text x="801.20" y="690.90" text-anchor="end" textLength="17.2" lengthAdjust="spacingAndGlyphs">Ashfie</text>
<text x="801.20" y="699.40" text-anchor="end" textLength="20.2" lengthAdjust="spacingAndGlyphs">Glenmor</text>
<text x="801.20" y="712.90" text-anchor="end" textLength="25.2" lengthAdjust="spacingAndGlyphs">Westbury</text>
<text x="801.20" y="721.90" text-anchor="end" textLength="25.2" lengthAdjust="spacingAndGlyphs">Oakhurst</text>
<text x="801.20" y="730.40" text-anchor="end" textLength="30.2" lengthAdjust="spacingAndGlyphs">Millbrook</text>
<text x="801.20" y="738.90" text-anchor="end" textLength="20.2" lengthAdjust="spacingAndGlyphs">Stanmor</text>
<text x="801.20" y="747.90" text-anchor="end" textLength="22.2" lengthAdjust="spacingAndGlyphs">Lakemba</text>
<text x="801.20" y="756.90" text-anchor="end" textLength="15.2" lengthAdjust="spacingAndGlyphs">Woodl</text>
<text x="801.20" y="765.90" text-anchor="end" textLength="19.2" lengthAdjust="spacingAndGlyphs">Fairfi</text>
<text x="801.20" y="778.90" text-anchor="end" textLength="35.2" lengthAdjust="spacingAndGlyphs">Kingsford Ri</text>
<text transform="translate(746.50,791.00) rotate(-45)" x="-3.3" y="1.9" text-anchor="end" textLength="28.5" lengthAdjust="spacingAndGlyphs">Hillside P</text>
<text transform="translate(760.00,791.00) rotate(-45)" x="-3.3" y="1.9" text-anchor="end" textLength="34.9" lengthAdjust="spacingAndGlyphs">Brookvale As</text>
<text transform="translate(773.50,791.00) rotate(-45)" x="-3.3" y="1.9" text-anchor="end" textLength="32.8" lengthAdjust="spacingAndGlyphs">Glenmore We</text>
<text transform="translate(786.50,791.00) rotate(-45)" x="-3.3" y="1.9" text-anchor="end" textLength="34.2" lengthAdjust="spacingAndGlyphs">Oakhurst Mi</text>
<text x="728.00" y="793.00" text-anchor="end" textLength="38.0" lengthAdjust="spacingAndGlyphs">Stanmore Lake</text>
<text x="667.00" y="781.00" text-anchor="start" textLength="23.0" lengthAdjust="spacingAndGlyphs">Woodland</text>
<text x="654.20" y="801.40" text-anchor="end" textLength="32.2" lengthAdjust="spacingAndGlyphs">Fairfield K</text>
<text x="654.20" y="814.90" text-anchor="end" textLength="25.2" lengthAdjust="spacingAndGlyphs">Riverwoo</text>
<text x="654.20" y="827.90" text-anchor="end" textLength="18.2" lengthAdjust="spacingAndGlyphs">Hillsi</text>
<text x="654.20" y="841.40" text-anchor="end" textLength="34.2" lengthAdjust="spacingAndGlyphs">Parkview Br</text>
<text x="654.20" y="854.90" text-anchor="end" textLength="17.2" lengthAdjust="spacingAndGlyphs">Ashfie</text>
<text x="654.20" y="868.40" text-anchor="end" textLength="16.2" lengthAdjust="spacingAndGlyphs">Glenm</text>
<text x="654.20" y="881.90" text-anchor="end" textLength="21.2" lengthAdjust="spacingAndGlyphs">Westbur</text>
<text x="659.10" y="890.60" text-anchor="end" textLength="27.1" lengthAdjust="spacingAndGlyphs">Oakhurst</text>
<text x="667.70" y="899.30" text-anchor="end" textLength="33.1" lengthAdjust="spacingAndGlyphs">Millbrook S</text>
<text x="676.70" y="908.10" text-anchor="end" textLength="19.7" lengthAdjust="spacingAndGlyphs">Lakemba</text>
<text transform="translate(693.20,911.30) rotate(-45)" x="3.3" y="1.9" textLength="34.2" lengthAdjust="spacingAndGlyphs">Woodlands F</text>
<text transform="translate(706.70,911.30) rotate(-45)" x="3.3" y="1.9" textLength="14.4" lengthAdjust="spacingAndGlyphs">Kings</text>
<text transform="translate(719.90,911.30) rotate(-45)" x="3.3" y="1.9" textLength="34.6" lengthAdjust="spacingAndGlyphs">Riverwood Hi</text>
<text transform="translate(733.30,911.30) rotate(-45)" x="3.3" y="1.9" textLength="11.0" lengthAdjust="spacingAndGlyphs">Park</text>
<text transform="translate(746.30,915.50) rotate(-45)" x="3.3" y="1.9" textLength="29.1" lengthAdjust="spacingAndGlyphs">Brookvale</text>
<text transform="translate(755.30,924.30) rotate(-45)" x="3.3" y="1.9" textLength="26.0" lengthAdjust="spacingAndGlyphs">Ashfield</text>
<text x="853.00" y="662.00" text-anchor="start" textLength="33.0" lengthAdjust="spacingAndGlyphs">Glenmore We</text>
<text x="909.80" y="517.40" textLength="38.2" lengthAdjust="spacingAndGlyphs">Oakhurst Mill</text>
<text x="909.80" y="534.90" textLength="27.2" lengthAdjust="spacingAndGlyphs">Stanmore</text>
<text x="900.80" y="557.40" textLength="27.2" lengthAdjust="spacingAndGlyphs">Lakemba W</text>
<text x="887.80" y="570.40" textLength="15.7" lengthAdjust="spacingAndGlyphs">Fairf</text>
<text x="874.30" y="583.90" textLength="23.7" lengthAdjust="spacingAndGlyphs">Kingsfor</text>
<text x="860.80" y="597.40" textLength="37.2" lengthAdjust="spacingAndGlyphs">Riverwood Hi</text>
<text x="956.70" y="526.40" text-anchor="end" textLength="19.2" lengthAdjust="spacingAndGlyphs">Parkvi</text>
<text x="956.70" y="543.90" text-anchor="end" textLength="22.7" lengthAdjust="spacingAndGlyphs">Brookval</text>
<text x="963.30" y="561.90" textLength="18.2" lengthAdjust="spacingAndGlyphs">Ashfie</text>
<text x="949.80" y="575.40" textLength="31.7" lengthAdjust="spacingAndGlyphs">Glenmore We</text>
<text x="929.70" y="583.90" text-anchor="end" textLength="12.7" lengthAdjust="spacingAndGlyphs">Oakh</text>
<text transform="translate(911.00,493.00) rotate(45)" x="-3.3" y="1.9" text-anchor="end" textLength="24.3" lengthAdjust="spacingAndGlyphs">Millbroo</text>
<text transform="translate(924.50,493.00) rotate(45)" x="-3.3" y="1.9" text-anchor="end" textLength="22.9" lengthAdjust="spacingAndGlyphs">Stanmore</text>
<text transform="translate(942.00,493.00) rotate(45)" x="-3.3" y="1.9" text-anchor="end" textLength="29.2" lengthAdjust="spacingAndGlyphs">Lakemba Wo</text>
<text transform="translate(955.50,493.00) rotate(45)" x="-3.3" y="1.9" text-anchor="end" textLength="15.1" lengthAdjust="spacingAndGlyphs">Fairf</text>
<text x="902.00" y="453.00" text-anchor="start" textLength="87.0" lengthAdjust="spacingAndGlyphs">Kingsford Riverwood Hillside</text>
<text x="963.00" y="465.00" text-anchor="start" textLength="27.0" lengthAdjust="spacingAndGlyphs">Parkview</text>
<text x="998.80" y="459.40" textLength="21.2" lengthAdjust="spacingAndGlyphs">Brookva</text>
<text x="967.30" y="503.90" textLength="11.7" lengthAdjust="spacingAndGlyphs">Ashf</text>
<text transform="translate(968.50,515.00) rotate(45)" x="3.3" y="1.9" textLength="37.0" lengthAdjust="spacingAndGlyphs">Glenmore Wes</text>
<text transform="translate(977.50,515.00) rotate(45)" x="3.3" y="1.9" textLength="28.5" lengthAdjust="spacingAndGlyphs">Oakhurst M</text>
<text transform="translate(986.50,515.00) rotate(45)" x="3.3" y="1.9" textLength="34.2" lengthAdjust="spacingAndGlyphs">Stanmore La</text>
<text transform="translate(995.00,515.00) rotate(45)" x="3.3" y="1.9" textLength="22.2" lengthAdjust="spacingAndGlyphs">Woodlan</text>
<text transform="translate(1008.50,515.00) rotate(-45)" x="3.3" y="1.9" textLength="22.9" lengthAdjust="spacingAndGlyphs">Fairfiel</text>
<text transform="translate(1017.00,515.00) rotate(-45)" x="3.3" y="1.9" textLength="27.8" lengthAdjust="spacingAndGlyphs">Kingsford</text>
<text transform="translate(1026.00,515.00) rotate(-45)" x="3.3" y="1.9" textLength="15.1" lengthAdjust="spacingAndGlyphs">River</text>
<text transform="translate(1035.50,515.00) rotate(-45)" x="3.3" y="1.9" textLength="48.3" lengthAdjust="spacingAndGlyphs">Hillside Parkvie</text>
<text transform="translate(1044.50,515.00) rotate(-45)" x="3.3" y="1.9" textLength="34.2" lengthAdjust="spacingAndGlyphs">Brookvale A</text>
<text transform="translate(1053.00,520.00) rotate(-45)" x="3.3" y="1.9" textLength="17.9" lengthAdjust="spacingAndGlyphs">Glenmo</text>
<text x="1056.30" y="530.40" textLength="18.2" lengthAdjust="spacingAndGlyphs">Westbu</text>
<text x="1056.30" y="539.40" textLength="37.2" lengthAdjust="spacingAndGlyphs">Oakhurst Mil</text>
<text x="1056.30" y="548.40" textLength="29.2" lengthAdjust="spacingAndGlyphs">Stanmore L</text>
<text x="1056.30" y="556.90" textLength="30.2" lengthAdjust="spacingAndGlyphs">Woodlands</text>
<text x="1051.80" y="583.90" textLength="35.7" lengthAdjust="spacingAndGlyphs">Fairfield Ki</text>
<text x="1003.30" y="313.15" textLength="20.7" lengthAdjust="spacingAndGlyphs">Riverwo</text>
<text x="1003.30" y="330.65" textLength="22.7" lengthAdjust="spacingAndGlyphs">Hillside</text>
<text x="1003.30" y="348.15" textLength="28.2" lengthAdjust="spacingAndGlyphs">Parkview</text>
<text x="1003.30" y="366.15" textLength="18.7" lengthAdjust="spacingAndGlyphs">Brookv</text>
<text x="1003.30" y="383.90" textLength="24.7" lengthAdjust="spacingAndGlyphs">Ashfield</text>
<text x="1003.30" y="401.40" textLength="28.7" lengthAdjust="spacingAndGlyphs">Glenmore W</text>
<text x="1003.30" y="419.40" textLength="13.7" lengthAdjust="spacingAndGlyphs">Oakhu</text>
<text x="1003.30" y="441.15" textLength="25.7" lengthAdjust="spacingAndGlyphs">Millbrook</text>
<text x="1014.20" y="294.90" text-anchor="end" textLength="24.2" lengthAdjust="spacingAndGlyphs">Stanmore</text>
<text x="1036.70" y="272.60" text-anchor="end" textLength="27.7" lengthAdjust="spacingAndGlyphs">Lakemba W</text>
<text x="1054.40" y="254.90" text-anchor="end" textLength="23.4" lengthAdjust="spacingAndGlyphs">Fairfiel</text>
<text x="1089.70" y="259.90" text-anchor="end" textLength="17.7" lengthAdjust="spacingAndGlyphs">Kingsf</text>
<text x="1106.00" y="248.00" text-anchor="start" textLength="25.5" lengthAdjust="spacingAndGlyphs">Riverwoo</text>
<text x="1145.30" y="259.40" textLength="61.7" lengthAdjust="spacingAndGlyphs">Hillside Parkview Bro</text>
<text x="1145.30" y="272.90" textLength="37.7" lengthAdjust="spacingAndGlyphs">Ashfield Glen</text>
<text x="1145.30" y="286.40" textLength="37.7" lengthAdjust="spacingAndGlyphs">Westbury Oakh</text>
<text x="1145.30" y="299.90" textLength="29.7" lengthAdjust="spacingAndGlyphs">Millbrook</text>
<text x="1136.30" y="308.40" textLength="14.7" lengthAdjust="spacingAndGlyphs">Stanm</text>
<text x="1089.70" y="268.40" text-anchor="end" textLength="15.7" lengthAdjust="spacingAndGlyphs">Lakem</text>
<text x="1089.70" y="277.40" text-anchor="end" textLength="24.7" lengthAdjust="spacingAndGlyphs">Woodland</text>
<text x="1089.70" y="286.40" text-anchor="end" textLength="20.7" lengthAdjust="spacingAndGlyphs">Fairfie</text>
<text x="1089.70" y="295.40" text-anchor="end" textLength="23.2" lengthAdjust="spacingAndGlyphs">Kingsfor</text>
<text x="1099.20" y="303.90" text-anchor="end" textLength="16.2" lengthAdjust="spacingAndGlyphs">River</text>
<text x="1107.70" y="312.90" text-anchor="end" textLength="16.2" lengthAdjust="spacingAndGlyphs">Hills</text>
<text x="1116.70" y="321.90" text-anchor="end" textLength="13.7" lengthAdjust="spacingAndGlyphs">Parkv</text>
<text x="1125.70" y="330.40" text-anchor="end" textLength="18.7" lengthAdjust="spacingAndGlyphs">Brookv</text>
<text x="1134.20" y="339.40" text-anchor="end" textLength="19.2" lengthAdjust="spacingAndGlyphs">Ashfie</text>
<text x="1147.70" y="352.90" text-anchor="end" textLength="23.7" lengthAdjust="spacingAndGlyphs">Glenmore</text>
<text x="1161.20" y="366.40" text-anchor="end" textLength="18.2" lengthAdjust="spacingAndGlyphs">Westbu</text>
<text x="1170.20" y="374.90" text-anchor="end" textLength="19.2" lengthAdjust="spacingAndGlyphs">Oakhur</text>
<text x="1178.70" y="383.90" text-anchor="end" textLength="25.7" lengthAdjust="spacingAndGlyphs">Millbrook</text>
<text x="1187.70" y="392.90" text-anchor="end" textLength="22.7" lengthAdjust="spacingAndGlyphs">Stanmore</text>
<text x="1196.70" y="401.90" text-anchor="end" textLength="31.2" lengthAdjust="spacingAndGlyphs">Lakemba Wo</text>
<text x="1205.70" y="410.90" text-anchor="end" textLength="20.2" lengthAdjust="spacingAndGlyphs">Fairfie</text>
<text x="1214.20" y="419.40" text-anchor="end" textLength="35.2" lengthAdjust="spacingAndGlyphs">Kingsford Ri</text>
<text x="1223.20" y="428.40" text-anchor="end" textLength="29.2" lengthAdjust="spacingAndGlyphs">Hillside P</text>
<text x="1225.70" y="446.40" text-anchor="end" textLength="26.7" lengthAdjust="spacingAndGlyphs">Brookvale</text>
<text x="1227.70" y="459.40" text-anchor="end" textLength="16.7" lengthAdjust="spacingAndGlyphs">Ashfie</text>
<text x="1227.70" y="468.40" text-anchor="end" textLength="39.7" lengthAdjust="spacingAndGlyphs">Glenmore West</text>
<text x="1225.70" y="481.90" text-anchor="end" textLength="24.7" lengthAdjust="spacingAndGlyphs">Oakhurst</text>
<text x="1227.70" y="494.90" text-anchor="end" textLength="22.7" lengthAdjust="spacingAndGlyphs">Millbroo</text>
<text x="1227.70" y="508.40" text-anchor="end" textLength="26.7" lengthAdjust="spacingAndGlyphs">Stanmore</text>
<text x="1225.70" y="525.90" text-anchor="end" textLength="16.7" lengthAdjust="spacingAndGlyphs">Lakemb</text>
<text x="1225.70" y="556.90" text-anchor="end" textLength="18.2" lengthAdjust="spacingAndGlyphs">Woodla</text>
<text x="1217.70" y="592.40" text-anchor="end" textLength="9.7" lengthAdjust="spacingAndGlyphs">Fai</text>
<text x="1247.80" y="490.40" textLength="25.2" lengthAdjust="spacingAndGlyphs">Kingsfor</text>
<text x="1247.80" y="499.40" textLength="35.7" lengthAdjust="spacingAndGlyphs">Riverwood Hi</text>
<text x="1269.00" y="513.00" text-anchor="start" textLength="29.0" lengthAdjust="spacingAndGlyphs">Parkview B</text>
<text x="1323.30" y="507.90" textLength="28.7" lengthAdjust="spacingAndGlyphs">Ashfield G</text>
<text x="1274.30" y="530.40" textLength="9.7" lengthAdjust="spacingAndGlyphs">Wes</text>
<text x="1251.00" y="544.00" text-anchor="start" textLength="29.0" lengthAdjust="spacingAndGlyphs">Oakhurst M</text>
<text x="1287.80" y="553.40" textLength="26.7" lengthAdjust="spacingAndGlyphs">Stanmore</text>
<text x="1287.80" y="578.90" textLength="15.7" lengthAdjust="spacingAndGlyphs">Lakem</text>
<text x="1338.30" y="535.40" textLength="44.7" lengthAdjust="spacingAndGlyphs">Woodlands Fairf</text>
<text x="1337.30" y="570.40" textLength="25.7" lengthAdjust="spacingAndGlyphs">Kingsford</text>
<text x="1261.00" y="602.00" text-anchor="start" textLength="17.5" lengthAdjust="spacingAndGlyphs">Riverw</text>
<text x="1300.00" y="602.00" text-anchor="start" textLength="18.0" lengthAdjust="spacingAndGlyphs">Hillsi</text>
<text x="1209.70" y="605.90" text-anchor="end" textLength="26.7" lengthAdjust="spacingAndGlyphs">Parkview</text>
<text transform="translate(986.50,582.00) rotate(-45)" x="3.3" y="1.9" textLength="23.6" lengthAdjust="spacingAndGlyphs">Brookval</text>
<text transform="translate(1000.00,582.00) rotate(-45)" x="3.3" y="1.9" textLength="35.6" lengthAdjust="spacingAndGlyphs">Ashfield Gle</text>
<text transform="translate(1013.50,582.00) rotate(-45)" x="3.3" y="1.9" textLength="22.9" lengthAdjust="spacingAndGlyphs">Westbury</text>
<text transform="translate(1026.50,586.50) rotate(-45)" x="3.3" y="1.9" textLength="30.6" lengthAdjust="spacingAndGlyphs">Oakhurst M</text>
<text x="961.20" y="606.40" text-anchor="end" textLength="13.2" lengthAdjust="spacingAndGlyphs">Stan</text>
<text x="1012.70" y="601.40" text-anchor="end" textLength="43.7" lengthAdjust="spacingAndGlyphs">Lakemba Woodlan</text>
<text x="1037.00" y="614.00" text-anchor="start" textLength="29.0" lengthAdjust="spacingAndGlyphs">Fairfield</text>
<text x="1032.20" y="654.90" text-anchor="end" textLength="50.2" lengthAdjust="spacingAndGlyphs">Kingsford Riverwo</text>
<text x="1032.20" y="668.40" text-anchor="end" textLength="18.2" lengthAdjust="spacingAndGlyphs">Hillsi</text>
<text x="1032.20" y="681.90" text-anchor="end" textLength="29.2" lengthAdjust="spacingAndGlyphs">Parkview B</text>
<text x="1032.20" y="695.40" text-anchor="end" textLength="15.2" lengthAdjust="spacingAndGlyphs">Ashfi</text>
<text transform="translate(978.00,711.00) rotate(45)" x="-3.3" y="1.9" text-anchor="end" textLength="23.6" lengthAdjust="spacingAndGlyphs">Glenmore</text>
<text transform="translate(991.00,706.50) rotate(45)" x="-3.3" y="1.9" text-anchor="end" textLength="17.9" lengthAdjust="spacingAndGlyphs">Westbu</text>
<text transform="translate(1004.50,706.50) rotate(45)" x="-3.3" y="1.9" text-anchor="end" textLength="15.8" lengthAdjust="spacingAndGlyphs">Oakhu</text>
<text transform="translate(1018.00,706.50) rotate(-45)" x="-3.3" y="1.9" text-anchor="end" textLength="37.7" lengthAdjust="spacingAndGlyphs">Millbrook Sta</text>
<text transform="translate(1031.00,706.50) rotate(-45)" x="-3.3" y="1.9" text-anchor="end" textLength="39.1" lengthAdjust="spacingAndGlyphs">Lakemba Woodl</text>
<text x="970.20" y="725.90" text-anchor="end" textLength="27.2" lengthAdjust="spacingAndGlyphs">Fairfield</text>
<text x="967.70" y="739.40" text-anchor="end" textLength="21.7" lengthAdjust="spacingAndGlyphs">Kingsfo</text>
<text x="936.80" y="712.90" textLength="19.2" lengthAdjust="spacingAndGlyphs">Riverw</text>
<text x="930.20" y="725.90" text-anchor="end" textLength="19.2" lengthAdjust="spacingAndGlyphs">Hillsi</text>
<text x="930.20" y="739.40" text-anchor="end" textLength="27.2" lengthAdjust="spacingAndGlyphs">Parkview</text>
<text x="934.70" y="747.90" text-anchor="end" textLength="48.7" lengthAdjust="spacingAndGlyphs">Brookvale Ashfie</text>
<text transform="translate(955.50,746.00) rotate(-45)" x="-3.3" y="1.9" text-anchor="end" textLength="28.5" lengthAdjust="spacingAndGlyphs">Glenmore W</text>
<text transform="translate(968.50,746.00) rotate(-45)" x="-3.3" y="1.9" text-anchor="end" textLength="35.6" lengthAdjust="spacingAndGlyphs">Oakhurst Mil</text>
<text x="919.70" y="659.40" text-anchor="end" textLength="28.7" lengthAdjust="spacingAndGlyphs">Stanmore L</text>
<text x="920.70" y="668.40" text-anchor="end" textLength="8.7" lengthAdjust="spacingAndGlyphs">Woo</text>
<text x="921.70" y="703.90" text-anchor="end" textLength="12.7" lengthAdjust="spacingAndGlyphs">Fair</text>
<text transform="translate(835.00,693.50) rotate(-45)" x="-3.3" y="1.9" text-anchor="end" textLength="27.1" lengthAdjust="spacingAndGlyphs">Kingsford</text>
<text transform="translate(844.50,702.00) rotate(-45)" x="-3.3" y="1.9" text-anchor="end" textLength="21.4" lengthAdjust="spacingAndGlyphs">Riverwo</text>
<text transform="translate(857.50,711.00) rotate(-45)" x="-3.3" y="1.9" text-anchor="end" textLength="27.1" lengthAdjust="spacingAndGlyphs">Hillside</text>
<text transform="translate(875.50,711.00) rotate(-45)" x="-3.3" y="1.9" text-anchor="end" textLength="20.0" lengthAdjust="spacingAndGlyphs">Parkvie</text>
<text transform="translate(893.50,711.00) rotate(-45)" x="-3.3" y="1.9" text-anchor="end" textLength="25.7" lengthAdjust="spacingAndGlyphs">Brookvale</text>
<text transform="translate(911.50,711.00) rotate(-45)" x="-3.3" y="1.9" text-anchor="end" textLength="15.8" lengthAdjust="spacingAndGlyphs">Ashfi</text>
<text transform="translate(982.00,746.50) rotate(-45)" x="-3.3" y="1.9" text-anchor="end" textLength="22.2" lengthAdjust="spacingAndGlyphs">Glenmor</text>
<text transform="translate(995.50,751.00) rotate(-45)" x="-3.3" y="1.9" text-anchor="end" textLength="25.7" lengthAdjust="spacingAndGlyphs">Westbury</text>
<text transform="translate(1009.00,751.00) rotate(-45)" x="-3.3" y="1.9" text-anchor="end" textLength="23.6" lengthAdjust="spacingAndGlyphs">Oakhurst</text>
<text transform="translate(1022.00,751.00) rotate(-45)" x="-3.3" y="1.9" text-anchor="end" textLength="20.7" lengthAdjust="spacingAndGlyphs">Millbro</text>
<text transform="translate(1035.50,751.00) rotate(45)" x="-3.3" y="1.9" text-anchor="end" textLength="17.2" lengthAdjust="spacingAndGlyphs">Stanmo</text>
<text transform="translate(1049.00,751.00) rotate(45)" x="-3.3" y="1.9" text-anchor="end" textLength="17.9" lengthAdjust="spacingAndGlyphs">Lakemb</text>
<text transform="translate(1062.00,751.00) rotate(45)" x="-3.3" y="1.9" text-anchor="end" textLength="41.9" lengthAdjust="spacingAndGlyphs">Woodlands Fair</text>
<text transform="translate(1075.50,751.00) rotate(45)" x="-3.3" y="1.9" text-anchor="end" textLength="17.2" lengthAdjust="spacingAndGlyphs">Kingsf</text>
<text transform="translate(1089.00,751.00) rotate(45)" x="-3.3" y="1.9" text-anchor="end" textLength="34.9" lengthAdjust="spacingAndGlyphs">Riverwood Hi</text>
<text transform="translate(1097.50,746.50) rotate(45)" x="-3.3" y="1.9" text-anchor="end" textLength="22.9" lengthAdjust="spacingAndGlyphs">Parkview</text>
<text transform="translate(1111.00,746.50) rotate(45)" x="-3.3" y="1.9" text-anchor="end" textLength="32.1" lengthAdjust="spacingAndGlyphs">Brookvale A</text>
<text transform="translate(1124.50,746.50) rotate(45)" x="-3.3" y="1.9" text-anchor="end" textLength="25.0" lengthAdjust="spacingAndGlyphs">Glenmore</text>
<text transform="translate(1138.00,746.50) rotate(45)" x="-3.3" y="1.9" text-anchor="end" textLength="25.0" lengthAdjust="spacingAndGlyphs">Westbury</text>
<text transform="translate(840.00,751.00) rotate(-45)" x="-3.3" y="1.9" text-anchor="end" textLength="29.2" lengthAdjust="spacingAndGlyphs">Oakhurst M</text>
<text transform="translate(857.50,751.00) rotate(-45)" x="-3.3" y="1.9" text-anchor="end" textLength="24.3" lengthAdjust="spacingAndGlyphs">Stanmore</text>
<text transform="translate(875.50,759.50) rotate(-45)" x="-3.3" y="1.9" text-anchor="end" textLength="18.6" lengthAdjust="spacingAndGlyphs">Lakemb</text>
<text transform="translate(889.00,773.00) rotate(-45)" x="-3.3" y="1.9" text-anchor="end" textLength="20.7" lengthAdjust="spacingAndGlyphs">Woodlan</text>
<text transform="translate(902.00,786.50) rotate(-45)" x="-3.3" y="1.9" text-anchor="end" textLength="17.9" lengthAdjust="spacingAndGlyphs">Fairfi</text>
<text transform="translate(919.50,786.50) rotate(-45)" x="-3.3" y="1.9" text-anchor="end" textLength="17.9" lengthAdjust="spacingAndGlyphs">Kingsf</text>
<text transform="translate(937.50,786.50) rotate(-45)" x="-3.3" y="1.9" text-anchor="end" textLength="35.6" lengthAdjust="spacingAndGlyphs">Riverwood Hi</text>
<text transform="translate(955.50,786.50) rotate(-45)" x="-3.3" y="1.9" text-anchor="end" textLength="18.6" lengthAdjust="spacingAndGlyphs">Parkvi</text>
<text transform="translate(973.00,786.50) rotate(-45)" x="-3.3" y="1.9" text-anchor="end" textLength="23.6" lengthAdjust="spacingAndGlyphs">Brookval</text>
<text transform="translate(986.50,795.00) rotate(-45)" x="-3.3" y="1.9" text-anchor="end" textLength="22.2" lengthAdjust="spacingAndGlyphs">Ashfiel</text>
<text transform="translate(1004.50,800.00) rotate(-45)" x="-3.3" y="1.9" text-anchor="end" textLength="17.2" lengthAdjust="spacingAndGlyphs">Glenmo</text>
<text transform="translate(1022.00,800.00) rotate(-45)" x="-3.3" y="1.9" text-anchor="end" textLength="27.8" lengthAdjust="spacingAndGlyphs">Westbury</text>
<text transform="translate(1040.00,800.00) rotate(-45)" x="-3.3" y="1.9" text-anchor="end" textLength="23.6" lengthAdjust="spacingAndGlyphs">Oakhurst</text>
<text transform="translate(1057.50,800.00) rotate(-45)" x="-3.3" y="1.9" text-anchor="end" textLength="24.3" lengthAdjust="spacingAndGlyphs">Millbroo</text>
<text transform="translate(1075.50,800.00) rotate(-45)" x="-3.3" y="1.9" text-anchor="end" textLength="15.8" lengthAdjust="spacingAndGlyphs">Stanm</text>
<text transform="translate(1093.00,800.00) rotate(-45)" x="-3.3" y="1.9" text-anchor="end" textLength="29.2" lengthAdjust="spacingAndGlyphs">Lakemba Wo</text>
<text transform="translate(1111.00,800.00) rotate(-45)" x="-3.3" y="1.9" text-anchor="end" textLength="29.2" lengthAdjust="spacingAndGlyphs">Fairfield</text>
<text x="1127.80" y="801.90" textLength="13.7" lengthAdjust="spacingAndGlyphs">Kings</text>
<text x="1141.30" y="788.40" textLength="23.7" lengthAdjust="spacingAndGlyphs">Riverwoo</text>
<text x="1154.30" y="774.90" textLength="24.2" lengthAdjust="spacingAndGlyphs">Hillside</text>
<text x="1165.70" y="757.40" text-anchor="end" textLength="14.7" lengthAdjust="spacingAndGlyphs">Parkv</text>
<text x="1159.30" y="672.90" textLength="19.2" lengthAdjust="spacingAndGlyphs">Brookv</text>
<text x="1154.30" y="694.90" textLength="22.7" lengthAdjust="spacingAndGlyphs">Ashfield</text>
<text x="1154.30" y="712.90" textLength="19.7" lengthAdjust="spacingAndGlyphs">Glenmor</text>
<text x="1159.30" y="730.40" textLength="17.7" lengthAdjust="spacingAndGlyphs">Westbu</text>
<text transform="translate(1200.00,760.00) rotate(45)" x="3.3" y="1.9" textLength="25.0" lengthAdjust="spacingAndGlyphs">Oakhurst</text>
<text transform="translate(1235.50,751.00) rotate(45)" x="3.3" y="1.9" textLength="42.7" lengthAdjust="spacingAndGlyphs">Millbrook Stan</text>
<text transform="translate(1249.00,737.50) rotate(45)" x="3.3" y="1.9" textLength="36.3" lengthAdjust="spacingAndGlyphs">Lakemba Wood</text>
<text transform="translate(1271.00,733.50) rotate(45)" x="3.3" y="1.9" textLength="15.8" lengthAdjust="spacingAndGlyphs">Fairf</text>
<text transform="translate(1293.00,733.50) rotate(45)" x="3.3" y="1.9" textLength="22.9" lengthAdjust="spacingAndGlyphs">Kingsfor</text>
<text x="1314.30" y="726.40" textLength="20.2" lengthAdjust="spacingAndGlyphs">Riverwo</text>
<text x="1327.80" y="712.90" textLength="28.2" lengthAdjust="spacingAndGlyphs">Hillside</text>
<text x="1340.80" y="699.40" textLength="29.2" lengthAdjust="spacingAndGlyphs">Parkview B</text>
<text x="1349.80" y="686.40" textLength="23.7" lengthAdjust="spacingAndGlyphs">Ashfield</text>
<text x="1349.30" y="667.90" textLength="16.7" lengthAdjust="spacingAndGlyphs">Glenmo</text>
<text x="1349.30" y="650.40" textLength="25.7" lengthAdjust="spacingAndGlyphs">Westbury</text>
<text x="1351.30" y="632.90" textLength="31.7" lengthAdjust="spacingAndGlyphs">Oakhurst Mi</text>
<text x="1341.30" y="619.40" textLength="22.7" lengthAdjust="spacingAndGlyphs">Stanmore</text>
<text transform="translate(1288.50,613.00) rotate(-45)" x="-3.3" y="1.9" text-anchor="end" textLength="15.8" lengthAdjust="spacingAndGlyphs">Lakem</text>
<text transform="translate(1280.00,648.50) rotate(-45)" x="-3.3" y="1.9" text-anchor="end" textLength="30.6" lengthAdjust="spacingAndGlyphs">Woodlands</text>
<text transform="translate(1315.00,648.50) rotate(-45)" x="-3.3" y="1.9" text-anchor="end" textLength="27.8" lengthAdjust="spacingAndGlyphs">Fairfield</text>
<text transform="translate(1231.50,662.00) rotate(-45)" x="-3.3" y="1.9" text-anchor="end" textLength="21.4" lengthAdjust="spacingAndGlyphs">Kingsfo</text>
<text x="1181.00" y="657.00" text-anchor="start" textLength="36.0" lengthAdjust="spacingAndGlyphs">Riverwood Hi</text>
<text x="1112.20" y="574.90" text-anchor="end" textLength="22.2" lengthAdjust="spacingAndGlyphs">Parkvie</text>
<text x="1101.70" y="565.90" text-anchor="end" textLength="11.7" lengthAdjust="spacingAndGlyphs">Broo</text>
<text x="1126.20" y="552.90" text-anchor="end" textLength="28.7" lengthAdjust="spacingAndGlyphs">Ashfield G</text>
<text x="1138.70" y="539.40" text-anchor="end" textLength="12.7" lengthAdjust="spacingAndGlyphs">West</text>
<text transform="translate(1160.00,537.50) rotate(45)" x="-3.3" y="1.9" text-anchor="end" textLength="16.5" lengthAdjust="spacingAndGlyphs">Oakhu</text>
<text x="1171.70" y="548.40" text-anchor="end" textLength="11.7" lengthAdjust="spacingAndGlyphs">Mill</text>
<text x="1107.70" y="592.90" text-anchor="end" textLength="30.7" lengthAdjust="spacingAndGlyphs">Stanmore L</text>
<text x="1086.00" y="599.00" text-anchor="start" textLength="20.0" lengthAdjust="spacingAndGlyphs">Woodlan</text>
<text x="1053.00" y="599.00" text-anchor="start" textLength="25.0" lengthAdjust="spacingAndGlyphs">Fairfiel</text>
<path d="M1167.3,754 L1122.8,798.5" stroke="#000" stroke-width="0.9" fill="none"/>
<path d="M66.60,22.00 L66.60,35.60" fill="none" stroke="#000" stroke-width="1.6" stroke-linejoin="round" stroke-linecap="round" />
<path d="M66.60,35.60 L66.60,168.50 L71.50,173.00 L146.25,173.00 L150.00,173.00 L155.40,168.75 L173.25,151.40 L351.00,151.40 L360.20,142.20 L360.20,128.00 L364.20,124.50 L377.00,136.00 L377.00,146.00 L382.00,151.20 L400.00,168.40 L400.00,386.00 L426.60,413.10 L426.60,528.75 L431.25,537.50 L578.75,537.50 L582.00,533.00" fill="none" stroke="#fed59c" stroke-width="3.2" stroke-linejoin="round" stroke-linecap="round" />
<path d="M382.20,164.30 L391.00,159.50" fill="none" stroke="#000" stroke-width="1.6" stroke-linejoin="round" stroke-linecap="round" />
<path d="M400.00,337.50 L410.00,337.50 L417.60,328.70" fill="none" stroke="#000" stroke-width="1.6" stroke-linejoin="round" stroke-linecap="round" />
<path d="M462.10,524.10 L462.10,537.50" fill="none" stroke="#000" stroke-width="1.6" stroke-linejoin="round" stroke-linecap="round" />
<path d="M578.00,537.50 L582.50,532.70 L599.50,532.70 L608.40,524.70 L608.40,446.90 L612.70,444.10 L684.80,444.10 L693.30,453.00 L693.30,522.80 L698.50,528.50 L808.70,528.50" fill="none" stroke="#fed59c" stroke-width="3.2" stroke-linejoin="round" stroke-linecap="round" />
<path d="M804.50,373.00 L804.50,538.00 L808.50,540.00 L822.50,552.00 L822.50,600.00 L844.50,622.00 L844.50,626.00 L839.50,631.00" fill="none" stroke="#ff0c78" stroke-width="3.0" stroke-linejoin="round" stroke-linecap="round" />
<path d="M808.50,373.00 L808.50,535.00 L826.50,551.00 L826.50,600.00 L850.00,623.50 L853.00,626.00 L1200.00,626.00" fill="none" stroke="#ffd900" stroke-width="3.0" stroke-linejoin="round" stroke-linecap="round" />
<path d="M808.70,528.50 L812.00,532.00 L831.00,551.00 L831.00,600.00 L851.00,620.00 L853.00,622.00 L1200.00,622.00" fill="none" stroke="#fed59c" stroke-width="3.2" stroke-linejoin="round" stroke-linecap="round" />
<path d="M462.10,537.50 L448.50,552.00 L448.50,648.00 L515.50,715.50 L515.50,937.50" fill="none" stroke="#00f812" stroke-width="3.0" stroke-linejoin="round" stroke-linecap="round" />
<path d="M502.00,937.50 L515.50,937.50" fill="none" stroke="#000" stroke-width="1.6" stroke-linejoin="round" stroke-linecap="round" />
<path d="M515.50,937.50 L804.00,937.50 L808.50,933.00 L808.50,751.00 L811.00,751.00" fill="none" stroke="#006a1a" stroke-width="3.4" stroke-linejoin="round" stroke-linecap="round" />
<path d="M839.50,631.00 L784.00,631.00 L764.00,651.00 L764.00,697.00 L769.00,702.00 L796.00,702.00 L800.00,706.00 L800.00,782.00 L796.00,786.00 L662.00,786.00 L657.50,791.00 L657.50,884.00 L684.00,911.30 L743.00,911.30 L755.30,924.00 L755.30,935.00" fill="none" stroke="#ff0c78" stroke-width="3.0" stroke-linejoin="round" stroke-linecap="round" />
<path d="M746.50,790.50 L799.00,790.50 L804.50,785.00 L804.50,670.00 L848.00,628.00 L852.00,631.00 L1196.00,631.00 L1236.00,591.00 L1236.00,587.00 L1241.00,582.00 L1236.00,577.00 L1236.00,520.00 L1250.00,506.00 L1321.00,506.00 L1334.00,519.00 L1334.00,587.00 L1325.00,596.00 L1252.00,596.00 L1244.00,590.00" fill="none" stroke="#00a8f2" stroke-width="3.0" stroke-linejoin="round" stroke-linecap="round" />
<path d="M808.50,736.00 L808.50,697.00 L811.00,693.50 L840.00,693.50 L857.50,711.00 L920.00,711.00 L928.50,702.00 L928.50,653.00 L947.00,635.50 L1196.00,635.50 L1241.00,590.00 L1240.00,520.00 L1246.00,514.50 L1254.00,514.50 L1257.00,511.00 L1320.00,511.00 L1329.00,520.00 L1329.00,586.00 L1323.00,591.00 L1276.00,591.00 L1272.00,587.00 L1252.00,587.00 L1244.00,580.00" fill="none" stroke="#ff7800" stroke-width="3.0" stroke-linejoin="round" stroke-linecap="round" />
<path d="M811.00,751.00 L868.00,751.00 L902.00,786.50 L977.00,786.50 L990.00,800.00 L1124.50,800.00 L1169.00,756.00 L1151.00,739.00 L1151.00,645.00 L1156.00,640.00 L1196.00,640.00 L1244.50,591.00 L1244.50,554.00 L1249.00,550.00 L1276.00,577.00 L1276.00,583.00 L1280.00,586.50 L1305.00,586.50 L1320.00,599.50 L1346.00,625.00 L1346.50,688.00 L1302.00,733.00 L1251.00,733.00 L1227.00,760.00 L1173.00,760.00 L1169.00,756.00" fill="none" stroke="#006a1a" stroke-width="3.6" stroke-linejoin="round" stroke-linecap="round" />
<path d="M1004.50,622.00 L1004.00,613.00 L1009.00,608.40 L1022.00,608.40 L1053.00,577.00 L1053.00,519.50 L1049.00,515.00 L969.00,515.00 L965.00,511.00 L965.00,497.00 L956.00,488.00 L942.00,488.00 L937.00,484.00 L937.00,462.00 L942.00,457.50 L995.00,457.50 L1000.00,452.00 L1000.00,311.00 L1057.70,253.00 L1138.00,253.00 L1142.00,257.00 L1142.00,298.00 L1133.00,306.50 L1121.00,306.50 L1116.00,311.50 L1232.00,427.00 L1226.50,431.00 L1226.50,582.00 L1218.00,589.50 L1218.00,594.00 L1195.00,617.00 L1186.00,617.00 L1182.00,613.50 L1169.00,613.50 L1117.00,561.00" fill="none" stroke="#ff0000" stroke-width="3.0" stroke-linejoin="round" stroke-linecap="round" />
<path d="M1022.00,608.40 L1028.00,612.00 L1032.00,611.00 L1039.00,604.50 L1108.00,604.50 L1111.00,601.00 L1111.00,566.00" fill="none" stroke="#ff0000" stroke-width="3.0" stroke-linejoin="round" stroke-linecap="round" />
<path d="M1197.00,626.50 L1231.50,592.00 L1231.50,431.00 L1226.50,426.50 L1093.00,293.00 L1093.00,253.00" fill="none" stroke="#ffd900" stroke-width="3.0" stroke-linejoin="round" stroke-linecap="round" />
<path d="M1195.00,622.00 L1223.00,593.00" fill="none" stroke="#fed59c" stroke-width="3.2" stroke-linejoin="round" stroke-linecap="round" />
<path d="M938.00,582.00 L1022.00,582.00 L1026.50,586.50 L1026.50,592.00 L1014.00,604.50 L964.50,604.50 L956.00,613.00 L956.00,643.00 L948.00,644.00 L933.50,658.50 L933.50,740.00 L938.00,746.00 L969.00,746.00 L973.50,741.00 L973.50,716.00 L982.00,707.00 L1030.00,706.50 L1035.50,701.00 L1035.50,653.00 L1052.00,637.00 L1053.00,622.00 L1058.00,617.50 L1112.00,617.50 L1115.50,614.00 L1115.50,567.00 L1141.00,538.00 L1166.00,538.00 L1220.00,592.00" fill="none" stroke="#aaaaaa" stroke-width="3.0" stroke-linejoin="round" stroke-linecap="round" />
<path d="M938.00,582.00 L955.50,564.00 L955.50,502.00 L951.00,497.50 L911.00,497.50" fill="none" stroke="#aaaaaa" stroke-width="3.0" stroke-linejoin="round" stroke-linecap="round" />
<path d="M808.50,692.00 L808.50,672.00 L812.00,667.00 L888.50,666.50 L897.00,675.50 L920.00,675.50 L924.00,670.00 L924.00,656.00 L945.50,634.00 L953.00,634.00" fill="none" stroke="#005396" stroke-width="3.0" stroke-linejoin="round" stroke-linecap="round" />
<path d="M953.00,617.00 L908.70,617.00 L906.00,613.00 L935.00,585.00 L941.00,580.00 L960.00,560.00 L960.00,498.00 L956.00,493.00 L910.00,493.00 L906.50,496.50 L906.50,547.00 L871.00,582.00 L853.50,599.50 L843.00,599.50 L855.00,612.00 L870.00,617.00 L910.00,617.00" fill="none" stroke="#005396" stroke-width="3.0" stroke-linejoin="round" stroke-linecap="round" />
<path d="M835.50,590.00 L835.50,595.00 L853.60,612.40 L866.70,616.00 L896.50,616.00 L931.50,586.00 L1014.00,586.00 L1018.00,590.00 L1018.00,600.00 L1022.00,606.00 L1026.00,609.00 L1108.00,609.00 L1107.00,600.00 L1107.00,567.00 L1115.00,555.00 L1120.00,555.00 L1139.00,537.00 L1142.00,542.50 L1168.00,542.50 L1172.00,538.00 L1181.00,546.50 L1213.00,546.50 L1223.00,536.50" fill="none" stroke="#00705e" stroke-width="3.0" stroke-linejoin="round" stroke-linecap="round" />
<path d="M1244.40,533.00 L1258.00,533.00 L1262.00,537.50 L1277.00,537.50 L1281.00,533.50 L1330.00,533.50" fill="none" stroke="#00705e" stroke-width="3.0" stroke-linejoin="round" stroke-linecap="round" />
<path d="M1235.50,445.00 L1235.50,476.00 L1244.50,485.00 L1244.50,506.00 L1249.00,511.00 L1255.00,511.00 L1284.00,540.00 L1284.00,550.00 L1297.00,563.50 L1321.00,563.50 L1329.00,568.50 L1320.00,573.00 L1288.00,573.00 L1272.00,589.00 L1255.00,591.00" fill="none" stroke="#00a693" stroke-width="3.0" stroke-linejoin="round" stroke-linecap="round" />
<path d="M1248.00,594.00 L1248.00,608.00 L1253.00,613.00 L1330.00,613.00 L1344.00,627.00 L1344.00,634.00 L1330.00,648.50 L1262.00,648.50 L1249.00,662.00 L1159.00,662.00 L1155.50,666.00 L1155.50,735.00 L1147.00,746.50 L1093.00,746.50 L1089.00,751.00 L988.00,751.00 L975.00,738.00" fill="none" stroke="#00a693" stroke-width="3.0" stroke-linejoin="round" stroke-linecap="round" />
<path d="M732.50,791.00 L746.00,791.00" fill="none" stroke="#000" stroke-width="1.6" stroke-linejoin="round" stroke-linecap="round" />
<g opacity="0.35"><text x="31.00" y="16.00" text-anchor="start" textLength="85.0" lengthAdjust="spacingAndGlyphs">Kingsford Riverwood Hillside</text>
<text x="63.30" y="37.50" text-anchor="end" textLength="18.9" lengthAdjust="spacingAndGlyphs">Parkvi</text>
<text x="63.30" y="46.37" text-anchor="end" textLength="23.9" lengthAdjust="spacingAndGlyphs">Brookval</text>
<text x="63.30" y="55.24" text-anchor="end" textLength="23.0" lengthAdjust="spacingAndGlyphs">Ashfield</text>
<text x="63.30" y="64.11" text-anchor="end" textLength="27.9" lengthAdjust="spacingAndGlyphs">Glenmore</text>
<text x="63.30" y="72.98" text-anchor="end" textLength="16.0" lengthAdjust="spacingAndGlyphs">Westb</text>
<text x="63.30" y="81.85" text-anchor="end" textLength="32.0" lengthAdjust="spacingAndGlyphs">Oakhurst Mi</text>
<text x="63.30" y="90.72" text-anchor="end" textLength="22.0" lengthAdjust="spacingAndGlyphs">Stanmor</text>
<text x="63.30" y="99.59" text-anchor="end" textLength="20.8" lengthAdjust="spacingAndGlyphs">Lakemba</text>
<text x="63.30" y="108.46" text-anchor="end" textLength="32.0" lengthAdjust="spacingAndGlyphs">Woodlands F</text>
<text x="63.30" y="117.33" text-anchor="end" textLength="23.5" lengthAdjust="spacingAndGlyphs">Kingsfor</text>
<text x="63.30" y="126.20" text-anchor="end" textLength="16.8" lengthAdjust="spacingAndGlyphs">Riverw</text>
<text x="63.30" y="135.07" text-anchor="end" textLength="17.0" lengthAdjust="spacingAndGlyphs">Hillsi</text>
<text x="63.30" y="143.94" text-anchor="end" textLength="25.8" lengthAdjust="spacingAndGlyphs">Parkview</text>
<text x="63.30" y="152.81" text-anchor="end" textLength="40.2" lengthAdjust="spacingAndGlyphs">Brookvale Ash</text>
<text x="63.30" y="161.68" text-anchor="end" textLength="33.9" lengthAdjust="spacingAndGlyphs">Glenmore We</text>
<text x="63.30" y="170.55" text-anchor="end" textLength="23.0" lengthAdjust="spacingAndGlyphs">Oakhurst</text>
<text transform="translate(75.40,173.00) rotate(-45)" x="-3.3" y="1.9" text-anchor="end" textLength="38.4" lengthAdjust="spacingAndGlyphs">Millbrook Sta</text>
<text transform="translate(84.25,173.00) rotate(-45)" x="-3.3" y="1.9" text-anchor="end" textLength="23.1" lengthAdjust="spacingAndGlyphs">Lakemba</text>
<text transform="translate(93.10,173.00) rotate(-45)" x="-3.3" y="1.9" text-anchor="end" textLength="26.3" lengthAdjust="spacingAndGlyphs">Woodlands</text>
<text transform="translate(101.95,173.00) rotate(-45)" x="-3.3" y="1.9" text-anchor="end" textLength="45.4" lengthAdjust="spacingAndGlyphs">Fairfield Kings</text>
<text transform="translate(110.80,173.00) rotate(-45)" x="-3.3" y="1.9" text-anchor="end" textLength="32.1" lengthAdjust="spacingAndGlyphs">Riverwood H</text>
<text transform="translate(119.65,173.00) rotate(-45)" x="-3.3" y="1.9" text-anchor="end" textLength="25.3" lengthAdjust="spacingAndGlyphs">Parkview</text>
<text transform="translate(128.50,173.00) rotate(-45)" x="-3.3" y="1.9" text-anchor="end" textLength="36.6" lengthAdjust="spacingAndGlyphs">Brookvale As</text>
<text transform="translate(137.35,173.00) rotate(-45)" x="-3.3" y="1.9" text-anchor="end" textLength="23.9" lengthAdjust="spacingAndGlyphs">Glenmore</text>
<text transform="translate(146.20,173.00) rotate(-45)" x="-3.3" y="1.9" text-anchor="end" textLength="28.4" lengthAdjust="spacingAndGlyphs">Westbury</text>
<text x="158.70" y="170.65" textLength="31.9" lengthAdjust="spacingAndGlyphs">Oakhurst Mi</text>
<text x="167.70" y="161.65" textLength="17.9" lengthAdjust="spacingAndGlyphs">Stanmo</text>
<text transform="translate(173.25,151.40) rotate(45)" x="-3.3" y="1.9" text-anchor="end" textLength="22.9" lengthAdjust="spacingAndGlyphs">Lakemba</text>
<text transform="translate(182.14,151.40) rotate(45)" x="-3.3" y="1.9" text-anchor="end" textLength="22.4" lengthAdjust="spacingAndGlyphs">Woodlan</text>
<text transform="translate(191.02,151.40) rotate(45)" x="-3.3" y="1.9" text-anchor="end" textLength="12.4" lengthAdjust="spacingAndGlyphs">Fair</text>
<text transform="translate(199.91,151.40) rotate(45)" x="-3.3" y="1.9" text-anchor="end" textLength="14.4" lengthAdjust="spacingAndGlyphs">Kings</text>
<text transform="translate(208.80,151.40) rotate(45)" x="-3.3" y="1.9" text-anchor="end" textLength="20.9" lengthAdjust="spacingAndGlyphs">Riverwo</text>
<text transform="translate(217.69,151.40) rotate(45)" x="-3.3" y="1.9" text-anchor="end" textLength="22.2" lengthAdjust="spacingAndGlyphs">Hillsid</text>
<text transform="translate(226.57,151.40) rotate(45)" x="-3.3" y="1.9" text-anchor="end" textLength="18.9" lengthAdjust="spacingAndGlyphs">Parkvi</text>
<text transform="translate(235.46,151.40) rotate(45)" x="-3.3" y="1.9" text-anchor="end" textLength="17.9" lengthAdjust="spacingAndGlyphs">Brookv</text>
<text transform="translate(244.35,151.40) rotate(45)" x="-3.3" y="1.9" text-anchor="end" textLength="30.5" lengthAdjust="spacingAndGlyphs">Ashfield G</text>
<text transform="translate(253.23,151.40) rotate(45)" x="-3.3" y="1.9" text-anchor="end" textLength="16.6" lengthAdjust="spacingAndGlyphs">Westbu</text>
<text transform="translate(262.12,151.40) rotate(45)" x="-3.3" y="1.9" text-anchor="end" textLength="30.8" lengthAdjust="spacingAndGlyphs">Oakhurst M</text>
<text transform="translate(271.01,151.40) rotate(45)" x="-3.3" y="1.9" text-anchor="end" textLength="24.5" lengthAdjust="spacingAndGlyphs">Stanmore</text>
<text transform="translate(279.89,151.40) rotate(45)" x="-3.3" y="1.9" text-anchor="end" textLength="14.5" lengthAdjust="spacingAndGlyphs">Lakem</text>
<text transform="translate(288.78,151.40) rotate(45)" x="-3.3" y="1.9" text-anchor="end" textLength="11.1" lengthAdjust="spacingAndGlyphs">Wood</text>
<text transform="translate(297.67,151.40) rotate(45)" x="-3.3" y="1.9" text-anchor="end" textLength="19.5" lengthAdjust="spacingAndGlyphs">Fairfie</text>
<text transform="translate(306.56,151.40) rotate(45)" x="-3.3" y="1.9" text-anchor="end" textLength="32.4" lengthAdjust="spacingAndGlyphs">Kingsford R</text>
<text transform="translate(315.44,151.40) rotate(45)" x="-3.3" y="1.9" text-anchor="end" textLength="18.6" lengthAdjust="spacingAndGlyphs">Hillsi</text>
<text transform="translate(324.33,151.40) rotate(45)" x="-3.3" y="1.9" text-anchor="end" textLength="29.9" lengthAdjust="spacingAndGlyphs">Parkview B</text>
<text transform="translate(333.22,151.40) rotate(45)" x="-3.3" y="1.9" text-anchor="end" textLength="12.5" lengthAdjust="spacingAndGlyphs">Ashf</text>
<text transform="translate(342.10,151.40) rotate(45)" x="-3.3" y="1.9" text-anchor="end" textLength="41.9" lengthAdjust="spacingAndGlyphs">Glenmore Westb</text>
<text transform="translate(350.99,151.40) rotate(45)" x="-3.3" y="1.9" text-anchor="end" textLength="15.1" lengthAdjust="spacingAndGlyphs">Oakhu</text>
<text transform="translate(360.20,142.20) rotate(45)" x="-3.3" y="1.9" text-anchor="end" textLength="40.8" lengthAdjust="spacingAndGlyphs">Millbrook Stan</text>
<text transform="translate(364.20,124.50) rotate(45)" x="-3.3" y="1.9" text-anchor="end" textLength="25.3" lengthAdjust="spacingAndGlyphs">Lakemba</text>
<text x="376.30" y="135.20" textLength="13.7" lengthAdjust="spacingAndGlyphs">Woodl</text>
<text x="385.30" y="153.10" textLength="21.7" lengthAdjust="spacingAndGlyphs">Fairfie</text>
<text x="394.30" y="161.40" textLength="57.7" lengthAdjust="spacingAndGlyphs">Kingsford Riverwood</text>
<text x="403.30" y="170.30" textLength="22.7" lengthAdjust="spacingAndGlyphs">Hillside</text>
<text x="202.00" y="166.00" text-anchor="start" textLength="178.0" lengthAdjust="spacingAndGlyphs">Parkview Brookvale Ashfield Glenmore Westbury Oakhurst Mill</text>
<text x="396.70" y="179.17" text-anchor="end" textLength="41.5" lengthAdjust="spacingAndGlyphs">Stanmore Lakem</text>
<text x="396.70" y="188.04" text-anchor="end" textLength="31.7" lengthAdjust="spacingAndGlyphs">Woodlands F</text>
<text x="396.70" y="196.91" text-anchor="end" textLength="22.6" lengthAdjust="spacingAndGlyphs">Kingsfor</text>
<text x="396.70" y="205.78" text-anchor="end" textLength="21.8" lengthAdjust="spacingAndGlyphs">Riverwo</text>
<text x="396.70" y="214.65" text-anchor="end" textLength="16.7" lengthAdjust="spacingAndGlyphs">Hillsi</text>
<text x="396.70" y="223.52" text-anchor="end" textLength="23.7" lengthAdjust="spacingAndGlyphs">Parkview</text>
<text x="396.70" y="232.39" text-anchor="end" textLength="26.5" lengthAdjust="spacingAndGlyphs">Brookvale</text>
<text x="396.70" y="241.26" text-anchor="end" textLength="33.7" lengthAdjust="spacingAndGlyphs">Ashfield Gl</text>
<text x="396.70" y="250.13" text-anchor="end" textLength="44.5" lengthAdjust="spacingAndGlyphs">Westbury Oakhur</text>
<text x="396.70" y="259.00" text-anchor="end" textLength="24.7" lengthAdjust="spacingAndGlyphs">Millbroo</text>
<text x="396.70" y="267.87" text-anchor="end" textLength="24.9" lengthAdjust="spacingAndGlyphs">Stanmore</text>
<text x="396.70" y="276.74" text-anchor="end" textLength="34.4" lengthAdjust="spacingAndGlyphs">Lakemba Woo</text>
<text x="396.70" y="285.61" text-anchor="end" textLength="22.9" lengthAdjust="spacingAndGlyphs">Fairfiel</text>
<text x="396.70" y="294.48" text-anchor="end" textLength="15.7" lengthAdjust="spacingAndGlyphs">Kings</text>
<text x="396.70" y="303.35" text-anchor="end" textLength="38.7" lengthAdjust="spacingAndGlyphs">Riverwood Hil</text>
<text x="396.70" y="312.22" text-anchor="end" textLength="17.9" lengthAdjust="spacingAndGlyphs">Parkvi</text>
<text x="396.70" y="321.09" text-anchor="end" textLength="10.6" lengthAdjust="spacingAndGlyphs">Broo</text>
<text x="396.70" y="329.96" text-anchor="end" textLength="19.0" lengthAdjust="spacingAndGlyphs">Ashfie</text>
<text x="396.70" y="339.40" text-anchor="end" textLength="39.7" lengthAdjust="spacingAndGlyphs">Glenmore West</text>
<text x="403.30" y="348.10" textLength="15.4" lengthAdjust="spacingAndGlyphs">Oakhu</text>
<text x="403.30" y="356.97" textLength="8.4" lengthAdjust="spacingAndGlyphs">Mil</text>
<text x="403.30" y="365.84" textLength="34.7" lengthAdjust="spacingAndGlyphs">Stanmore Lak</text>
<text x="403.30" y="374.71" textLength="25.5" lengthAdjust="spacingAndGlyphs">Woodlands</text>
<text x="403.30" y="383.58" textLength="50.4" lengthAdjust="spacingAndGlyphs">Fairfield Kingsfo</text>
<text x="424.40" y="330.60" text-anchor="start" textLength="95.0" lengthAdjust="spacingAndGlyphs">Riverwood Hillside Parkview Broo</text>
<text x="412.00" y="397.30" textLength="38.2" lengthAdjust="spacingAndGlyphs">Ashfield Glen</text>
<text x="420.90" y="406.20" textLength="30.9" lengthAdjust="spacingAndGlyphs">Westbury O</text>
<text x="429.90" y="415.00" textLength="26.9" lengthAdjust="spacingAndGlyphs">Millbrook</text>
<text x="429.90" y="423.80" textLength="33.9" lengthAdjust="spacingAndGlyphs">Stanmore La</text>
<text x="429.90" y="432.67" textLength="23.0" lengthAdjust="spacingAndGlyphs">Woodland</text>
<text x="429.90" y="441.54" textLength="26.9" lengthAdjust="spacingAndGlyphs">Fairfield</text>
<text x="429.90" y="450.41" textLength="23.8" lengthAdjust="spacingAndGlyphs">Kingsfor</text>
<text x="429.90" y="459.28" textLength="27.0" lengthAdjust="spacingAndGlyphs">Riverwood</text>
<text x="429.90" y="468.15" textLength="33.2" lengthAdjust="spacingAndGlyphs">Hillside Pa</text>
<text x="429.90" y="477.02" textLength="15.7" lengthAdjust="spacingAndGlyphs">Brook</text>
<text x="429.90" y="485.89" textLength="28.2" lengthAdjust="spacingAndGlyphs">Ashfield</text>
<text x="429.90" y="494.76" textLength="35.1" lengthAdjust="spacingAndGlyphs">Glenmore Wes</text>
<text x="429.90" y="503.63" textLength="35.1" lengthAdjust="spacingAndGlyphs">Oakhurst Mil</text>
<text x="429.90" y="512.50" textLength="38.8" lengthAdjust="spacingAndGlyphs">Stanmore Lake</text>
<text x="429.90" y="521.37" textLength="19.8" lengthAdjust="spacingAndGlyphs">Woodlan</text>
<text x="423.30" y="530.65" text-anchor="end" textLength="21.4" lengthAdjust="spacingAndGlyphs">Fairfie</text>
<text transform="translate(431.25,537.50) rotate(-45)" x="-3.3" y="1.9" text-anchor="end" textLength="13.5" lengthAdjust="spacingAndGlyphs">King</text>
<text transform="translate(440.00,537.50) rotate(-45)" x="-3.3" y="1.9" text-anchor="end" textLength="12.6" lengthAdjust="spacingAndGlyphs">Rive</text>
<text transform="translate(448.75,537.50) rotate(-45)" x="-3.3" y="1.9" text-anchor="end" textLength="36.5" lengthAdjust="spacingAndGlyphs">Hillside Par</text>
<text transform="translate(462.10,537.50) rotate(-45)" x="-3.3" y="1.9" text-anchor="end" textLength="63.3" lengthAdjust="spacingAndGlyphs">Brookvale Ashfield Gl</text>
<text transform="translate(475.40,537.50) rotate(-45)" x="-3.3" y="1.9" text-anchor="end" textLength="22.9" lengthAdjust="spacingAndGlyphs">Westbury</text>
<text transform="translate(484.40,537.50) rotate(-45)" x="-3.3" y="1.9" text-anchor="end" textLength="17.1" lengthAdjust="spacingAndGlyphs">Oakhur</text>
<text transform="translate(493.10,537.50) rotate(-45)" x="-3.3" y="1.9" text-anchor="end" textLength="25.0" lengthAdjust="spacingAndGlyphs">Millbroo</text>
<text transform="translate(502.10,537.50) rotate(-45)" x="-3.3" y="1.9" text-anchor="end" textLength="22.6" lengthAdjust="spacingAndGlyphs">Stanmore</text>
<text transform="translate(511.00,537.50) rotate(-45)" x="-3.3" y="1.9" text-anchor="end" textLength="26.4" lengthAdjust="spacingAndGlyphs">Lakemba W</text>
<text transform="translate(520.00,537.50) rotate(-45)" x="-3.3" y="1.9" text-anchor="end" textLength="15.2" lengthAdjust="spacingAndGlyphs">Fairf</text>
<text transform="translate(528.75,537.50) rotate(-45)" x="-3.3" y="1.9" text-anchor="end" textLength="17.9" lengthAdjust="spacingAndGlyphs">Kingsf</text>
<text transform="translate(537.50,537.50) rotate(-45)" x="-3.3" y="1.9" text-anchor="end" textLength="28.5" lengthAdjust="spacingAndGlyphs">Riverwood</text>
<text transform="translate(546.50,537.50) rotate(-45)" x="-3.3" y="1.9" text-anchor="end" textLength="14.7" lengthAdjust="spacingAndGlyphs">Hills</text>
<text transform="translate(555.25,537.50) rotate(-45)" x="-3.3" y="1.9" text-anchor="end" textLength="25.3" lengthAdjust="spacingAndGlyphs">Parkview</text>
<text transform="translate(564.10,537.50) rotate(-45)" x="-3.3" y="1.9" text-anchor="end" textLength="30.8" lengthAdjust="spacingAndGlyphs">Brookvale</text>
<text x="468.50" y="526.00" text-anchor="start" textLength="128.0" lengthAdjust="spacingAndGlyphs">Ashfield Glenmore Westbury Oakhurst Millbro</text>
<text x="605.10" y="450.65" text-anchor="end" textLength="14.9" lengthAdjust="spacingAndGlyphs">Stanm</text>
<text x="605.10" y="464.10" text-anchor="end" textLength="18.7" lengthAdjust="spacingAndGlyphs">Lakemb</text>
<text x="605.10" y="481.60" text-anchor="end" textLength="21.7" lengthAdjust="spacingAndGlyphs">Woodlan</text>
<text x="605.10" y="499.40" text-anchor="end" textLength="17.8" lengthAdjust="spacingAndGlyphs">Fairfi</text>
<text x="605.10" y="517.20" text-anchor="end" textLength="20.1" lengthAdjust="spacingAndGlyphs">Kingsfo</text>
<text transform="translate(635.30,444.10) rotate(-45)" x="-3.3" y="1.9" text-anchor="end" textLength="24.1" lengthAdjust="spacingAndGlyphs">Riverwoo</text>
<text transform="translate(648.70,444.10) rotate(-45)" x="-3.3" y="1.9" text-anchor="end" textLength="29.8" lengthAdjust="spacingAndGlyphs">Hillside P</text>
<text transform="translate(662.20,444.10) rotate(-45)" x="-3.3" y="1.9" text-anchor="end" textLength="17.1" lengthAdjust="spacingAndGlyphs">Brookv</text>
<text x="688.10" y="446.00" textLength="27.7" lengthAdjust="spacingAndGlyphs">Ashfield</text>
<text x="690.00" y="464.20" text-anchor="end" textLength="23.9" lengthAdjust="spacingAndGlyphs">Glenmore</text>
<text x="690.00" y="477.40" text-anchor="end" textLength="34.0" lengthAdjust="spacingAndGlyphs">Westbury Oa</text>
<text x="690.00" y="490.70" text-anchor="end" textLength="23.9" lengthAdjust="spacingAndGlyphs">Millbroo</text>
<text x="690.00" y="504.10" text-anchor="end" textLength="39.8" lengthAdjust="spacingAndGlyphs">Stanmore Lake</text>
<text x="690.00" y="521.60" text-anchor="end" textLength="18.7" lengthAdjust="spacingAndGlyphs">Woodla</text>
<text transform="translate(706.40,528.50) rotate(-45)" x="-3.3" y="1.9" text-anchor="end" textLength="23.1" lengthAdjust="spacingAndGlyphs">Fairfiel</text>
<text transform="translate(724.50,528.50) rotate(-45)" x="-3.3" y="1.9" text-anchor="end" textLength="27.1" lengthAdjust="spacingAndGlyphs">Kingsford</text>
<text transform="translate(737.75,528.50) rotate(-45)" x="-3.3" y="1.9" text-anchor="end" textLength="45.8" lengthAdjust="spacingAndGlyphs">Riverwood Hills</text>
<text transform="translate(751.00,528.50) rotate(-45)" x="-3.3" y="1.9" text-anchor="end" textLength="22.2" lengthAdjust="spacingAndGlyphs">Parkvie</text>
<text transform="translate(764.50,528.50) rotate(-45)" x="-3.3" y="1.9" text-anchor="end" textLength="27.1" lengthAdjust="spacingAndGlyphs">Brookvale</text>
<text transform="translate(777.75,528.50) rotate(-45)" x="-3.3" y="1.9" text-anchor="end" textLength="21.8" lengthAdjust="spacingAndGlyphs">Ashfiel</text>
<text transform="translate(791.00,528.50) rotate(-45)" x="-3.3" y="1.9" text-anchor="end" textLength="23.6" lengthAdjust="spacingAndGlyphs">Glenmore</text>
<text x="812.00" y="530.40" text-anchor="start" textLength="22.0" lengthAdjust="spacingAndGlyphs">Westbur</text>
<text x="805.20" y="384.10" text-anchor="end" textLength="32.2" lengthAdjust="spacingAndGlyphs">Oakhurst Mi</text>
<text x="805.20" y="392.90" text-anchor="end" textLength="21.7" lengthAdjust="spacingAndGlyphs">Stanmor</text>
<text x="805.20" y="401.65" text-anchor="end" textLength="17.7" lengthAdjust="spacingAndGlyphs">Lakemb</text>
<text x="805.20" y="410.50" text-anchor="end" textLength="19.2" lengthAdjust="spacingAndGlyphs">Woodla</text>
<text x="805.20" y="419.40" text-anchor="end" textLength="18.2" lengthAdjust="spacingAndGlyphs">Fairfi</text>
<text x="805.20" y="428.40" text-anchor="end" textLength="36.2" lengthAdjust="spacingAndGlyphs">Kingsford Ri</text>
<text x="805.20" y="441.65" text-anchor="end" textLength="22.2" lengthAdjust="spacingAndGlyphs">Hillsid</text>
<text x="805.20" y="455.40" text-anchor="end" textLength="22.2" lengthAdjust="spacingAndGlyphs">Parkvie</text>
<text x="805.20" y="468.40" text-anchor="end" textLength="30.2" lengthAdjust="spacingAndGlyphs">Brookvale</text>
<text x="805.20" y="481.65" text-anchor="end" textLength="26.2" lengthAdjust="spacingAndGlyphs">Ashfield</text>
<text x="805.20" y="490.40" text-anchor="end" textLength="23.2" lengthAdjust="spacingAndGlyphs">Glenmore</text>
<text x="805.20" y="499.20" text-anchor="end" textLength="20.2" lengthAdjust="spacingAndGlyphs">Westbur</text>
<text x="784.00" y="375.00" text-anchor="start" textLength="19.0" lengthAdjust="spacingAndGlyphs">Oakhur</text>
<text x="451.80" y="566.30" textLength="23.2" lengthAdjust="spacingAndGlyphs">Millbroo</text>
<text x="451.80" y="575.00" textLength="28.2" lengthAdjust="spacingAndGlyphs">Stanmore</text>
<text x="451.80" y="583.90" textLength="31.2" lengthAdjust="spacingAndGlyphs">Lakemba Wo</text>
<text x="445.20" y="592.90" text-anchor="end" textLength="24.2" lengthAdjust="spacingAndGlyphs">Fairfiel</text>
<text x="445.20" y="601.90" text-anchor="end" textLength="26.2" lengthAdjust="spacingAndGlyphs">Kingsford</text>
<text x="445.20" y="610.40" text-anchor="end" textLength="37.2" lengthAdjust="spacingAndGlyphs">Riverwood Hi</text>
<text x="445.20" y="619.40" text-anchor="end" textLength="34.2" lengthAdjust="spacingAndGlyphs">Parkview Br</text>
<text x="445.20" y="628.40" text-anchor="end" textLength="34.2" lengthAdjust="spacingAndGlyphs">Ashfield Gl</text>
<text x="445.20" y="637.40" text-anchor="end" textLength="62.2" lengthAdjust="spacingAndGlyphs">Westbury Oakhurst Mil</text>
<text x="445.20" y="646.40" text-anchor="end" textLength="30.2" lengthAdjust="spacingAndGlyphs">Stanmore L</text>
<text x="449.70" y="654.90" text-anchor="end" textLength="39.7" lengthAdjust="spacingAndGlyphs">Woodlands Fai</text>
<text x="458.70" y="663.90" text-anchor="end" textLength="26.7" lengthAdjust="spacingAndGlyphs">Kingsford</text>
<text x="467.70" y="672.90" text-anchor="end" textLength="23.7" lengthAdjust="spacingAndGlyphs">Riverwoo</text>
<text x="476.70" y="681.90" text-anchor="end" textLength="29.7" lengthAdjust="spacingAndGlyphs">Hillside P</text>
<text x="485.70" y="690.90" text-anchor="end" textLength="20.2" lengthAdjust="spacingAndGlyphs">Brookva</text>
<text x="494.70" y="699.90" text-anchor="end" textLength="36.7" lengthAdjust="spacingAndGlyphs">Ashfield Gle</text>
<text x="503.20" y="708.40" text-anchor="end" textLength="17.2" lengthAdjust="spacingAndGlyphs">Westbu</text>
<text x="512.20" y="717.40" text-anchor="end" textLength="12.2" lengthAdjust="spacingAndGlyphs">Oakh</text>
<text x="512.20" y="726.27" text-anchor="end" textLength="31.2" lengthAdjust="spacingAndGlyphs">Millbrook</text>
<text x="512.20" y="735.14" text-anchor="end" textLength="24.2" lengthAdjust="spacingAndGlyphs">Stanmore</text>
<text x="512.20" y="744.01" text-anchor="end" textLength="30.2" lengthAdjust="spacingAndGlyphs">Lakemba Wo</text>
<text x="512.20" y="752.88" text-anchor="end" textLength="34.2" lengthAdjust="spacingAndGlyphs">Fairfield K</text>
<text x="512.20" y="761.75" text-anchor="end" textLength="54.2" lengthAdjust="spacingAndGlyphs">Riverwood Hillside</text>
<text x="512.20" y="770.62" text-anchor="end" textLength="63.2" lengthAdjust="spacingAndGlyphs">Parkview Brookvale As</text>
<text x="512.20" y="779.49" text-anchor="end" textLength="31.2" lengthAdjust="spacingAndGlyphs">Glenmore W</text>
<text x="512.20" y="788.36" text-anchor="end" textLength="17.2" lengthAdjust="spacingAndGlyphs">Oakhur</text>
<text x="512.20" y="797.23" text-anchor="end" textLength="31.2" lengthAdjust="spacingAndGlyphs">Millbrook</text>
<text x="512.20" y="806.10" text-anchor="end" textLength="17.2" lengthAdjust="spacingAndGlyphs">Stanmo</text>
<text x="512.20" y="814.97" text-anchor="end" textLength="28.2" lengthAdjust="spacingAndGlyphs">Lakemba W</text>
<text x="512.20" y="823.84" text-anchor="end" textLength="57.2" lengthAdjust="spacingAndGlyphs">Fairfield Kingsford</text>
<text x="512.20" y="832.71" text-anchor="end" textLength="24.2" lengthAdjust="spacingAndGlyphs">Riverwoo</text>
<text x="512.20" y="841.58" text-anchor="end" textLength="16.2" lengthAdjust="spacingAndGlyphs">Hills</text>
<text x="512.20" y="850.45" text-anchor="end" textLength="29.2" lengthAdjust="spacingAndGlyphs">Parkview B</text>
<text x="512.20" y="859.32" text-anchor="end" textLength="19.2" lengthAdjust="spacingAndGlyphs">Ashfie</text>
<text x="512.20" y="868.19" text-anchor="end" textLength="26.2" lengthAdjust="spacingAndGlyphs">Glenmore</text>
<text x="512.20" y="877.06" text-anchor="end" textLength="31.2" lengthAdjust="spacingAndGlyphs">Westbury O</text>
<text x="512.20" y="885.93" text-anchor="end" textLength="35.2" lengthAdjust="spacingAndGlyphs">Millbrook St</text>
<text x="512.20" y="894.80" text-anchor="end" textLength="34.2" lengthAdjust="spacingAndGlyphs">Lakemba Woo</text>
<text x="512.20" y="903.67" text-anchor="end" textLength="21.2" lengthAdjust="spacingAndGlyphs">Fairfie</text>
<text x="512.20" y="912.54" text-anchor="end" textLength="19.2" lengthAdjust="spacingAndGlyphs">Kingsf</text>
<text x="512.20" y="921.41" text-anchor="end" textLength="10.2" lengthAdjust="spacingAndGlyphs">Riv</text>
<text x="496.00" y="939.50" text-anchor="end" textLength="75.0" lengthAdjust="spacingAndGlyphs">Hillside Parkview Brookva</text>
<text transform="translate(515.50,937.50) rotate(45)" x="3.3" y="1.9" textLength="22.9" lengthAdjust="spacingAndGlyphs">Ashfield</text>
<text transform="translate(524.37,937.50) rotate(45)" x="3.3" y="1.9" textLength="27.3" lengthAdjust="spacingAndGlyphs">Glenmore</text>
<text transform="translate(533.24,937.50) rotate(45)" x="3.3" y="1.9" textLength="19.0" lengthAdjust="spacingAndGlyphs">Westbu</text>
<text transform="translate(542.11,937.50) rotate(45)" x="3.3" y="1.9" textLength="17.8" lengthAdjust="spacingAndGlyphs">Oakhur</text>
<text transform="translate(550.98,937.50) rotate(45)" x="3.3" y="1.9" textLength="15.8" lengthAdjust="spacingAndGlyphs">Millb</text>
<text transform="translate(559.85,937.50) rotate(45)" x="3.3" y="1.9" textLength="16.7" lengthAdjust="spacingAndGlyphs">Stanmo</text>
<text transform="translate(568.72,937.50) rotate(45)" x="3.3" y="1.9" textLength="15.5" lengthAdjust="spacingAndGlyphs">Lakem</text>
<text transform="translate(577.59,937.50) rotate(45)" x="3.3" y="1.9" textLength="41.1" lengthAdjust="spacingAndGlyphs">Woodlands Fair</text>
<text transform="translate(586.46,937.50) rotate(45)" x="3.3" y="1.9" textLength="18.7" lengthAdjust="spacingAndGlyphs">Kingsf</text>
<text transform="translate(595.33,937.50) rotate(45)" x="3.3" y="1.9" textLength="17.4" lengthAdjust="spacingAndGlyphs">Riverw</text>
<text transform="translate(604.20,937.50) rotate(45)" x="3.3" y="1.9" textLength="24.7" lengthAdjust="spacingAndGlyphs">Hillside</text>
<text transform="translate(613.07,937.50) rotate(45)" x="3.3" y="1.9" textLength="15.0" lengthAdjust="spacingAndGlyphs">Parkv</text>
<text transform="translate(621.94,937.50) rotate(45)" x="3.3" y="1.9" textLength="29.3" lengthAdjust="spacingAndGlyphs">Brookvale</text>
<text transform="translate(630.81,937.50) rotate(45)" x="3.3" y="1.9" textLength="22.4" lengthAdjust="spacingAndGlyphs">Ashfiel</text>
<text transform="translate(639.68,937.50) rotate(45)" x="3.3" y="1.9" textLength="24.0" lengthAdjust="spacingAndGlyphs">Glenmore</text>
<text transform="translate(648.55,937.50) rotate(45)" x="3.3" y="1.9" textLength="20.0" lengthAdjust="spacingAndGlyphs">Westbur</text>
<text transform="translate(657.42,937.50) rotate(45)" x="3.3" y="1.9" textLength="14.8" lengthAdjust="spacingAndGlyphs">Oakhu</text>
<text transform="translate(666.29,937.50) rotate(45)" x="3.3" y="1.9" textLength="32.5" lengthAdjust="spacingAndGlyphs">Millbrook S</text>
<text transform="translate(675.16,937.50) rotate(45)" x="3.3" y="1.9" textLength="21.5" lengthAdjust="spacingAndGlyphs">Lakemba</text>
<text transform="translate(684.03,937.50) rotate(45)" x="3.3" y="1.9" textLength="23.4" lengthAdjust="spacingAndGlyphs">Woodland</text>
<text transform="translate(692.90,937.50) rotate(45)" x="3.3" y="1.9" textLength="21.9" lengthAdjust="spacingAndGlyphs">Fairfie</text>
<text transform="translate(701.77,937.50) rotate(45)" x="3.3" y="1.9" textLength="20.5" lengthAdjust="spacingAndGlyphs">Kingsfo</text>
<text transform="translate(710.64,937.50) rotate(45)" x="3.3" y="1.9" textLength="22.4" lengthAdjust="spacingAndGlyphs">Riverwo</text>
<text transform="translate(719.51,937.50) rotate(45)" x="3.3" y="1.9" textLength="20.0" lengthAdjust="spacingAndGlyphs">Hillsid</text>
<text transform="translate(728.38,937.50) rotate(45)" x="3.3" y="1.9" textLength="17.4" lengthAdjust="spacingAndGlyphs">Parkvi</text>
<text transform="translate(737.25,937.50) rotate(45)" x="3.3" y="1.9" textLength="19.7" lengthAdjust="spacingAndGlyphs">Brookva</text>
<text transform="translate(746.12,937.50) rotate(45)" x="3.3" y="1.9" textLength="13.5" lengthAdjust="spacingAndGlyphs">Ashf</text>
<text transform="translate(755.30,937.50) rotate(45)" x="3.3" y="1.9" textLength="16.4" lengthAdjust="spacingAndGlyphs">Glenm</text>
<text transform="translate(763.86,937.50) rotate(45)" x="3.3" y="1.9" textLength="20.2" lengthAdjust="spacingAndGlyphs">Westbur</text>
<text transform="translate(772.73,937.50) rotate(45)" x="3.3" y="1.9" textLength="20.4" lengthAdjust="spacingAndGlyphs">Oakhurs</text>
<text transform="translate(781.60,937.50) rotate(45)" x="3.3" y="1.9" textLength="44.5" lengthAdjust="spacingAndGlyphs">Millbrook Stanm</text>
<text transform="translate(790.47,937.50) rotate(45)" x="3.3" y="1.9" textLength="14.4" lengthAdjust="spacingAndGlyphs">Lakem</text>
<text transform="translate(799.34,937.50) rotate(45)" x="3.3" y="1.9" textLength="24.2" lengthAdjust="spacingAndGlyphs">Woodland</text>
<text x="811.80" y="935.30" textLength="14.4" lengthAdjust="spacingAndGlyphs">Fairf</text>
<text x="811.80" y="926.43" textLength="29.4" lengthAdjust="spacingAndGlyphs">Kingsford</text>
<text x="811.80" y="917.56" textLength="35.1" lengthAdjust="spacingAndGlyphs">Riverwood Hi</text>
<text x="811.80" y="908.69" textLength="21.3" lengthAdjust="spacingAndGlyphs">Parkvie</text>
<text x="811.80" y="899.82" textLength="31.9" lengthAdjust="spacingAndGlyphs">Brookvale A</text>
<text x="811.80" y="890.95" textLength="25.1" lengthAdjust="spacingAndGlyphs">Glenmore</text>
<text x="811.80" y="882.08" textLength="28.8" lengthAdjust="spacingAndGlyphs">Westbury O</text>
<text x="811.80" y="873.21" textLength="21.9" lengthAdjust="spacingAndGlyphs">Millbro</text>
<text x="811.80" y="864.34" textLength="31.3" lengthAdjust="spacingAndGlyphs">Stanmore L</text>
<text x="811.80" y="855.47" textLength="20.1" lengthAdjust="spacingAndGlyphs">Woodlan</text>
<text x="811.80" y="846.60" textLength="22.6" lengthAdjust="spacingAndGlyphs">Fairfiel</text>
<text x="811.80" y="837.73" textLength="11.9" lengthAdjust="spacingAndGlyphs">King</text>
<text x="811.80" y="828.86" textLength="30.1" lengthAdjust="spacingAndGlyphs">Riverwood</text>
<text x="811.80" y="819.99" textLength="26.9" lengthAdjust="spacingAndGlyphs">Hillside</text>
<text x="811.80" y="811.12" textLength="21.3" lengthAdjust="spacingAndGlyphs">Parkvie</text>
<text x="811.80" y="802.25" textLength="15.1" lengthAdjust="spacingAndGlyphs">Brook</text>
<text x="811.80" y="793.38" textLength="36.2" lengthAdjust="spacingAndGlyphs">Ashfield Gle</text>
<text x="825.30" y="543.90" textLength="41.7" lengthAdjust="spacingAndGlyphs">Westbury Oakhu</text>
<text x="827.70" y="552.60" text-anchor="end" textLength="23.7" lengthAdjust="spacingAndGlyphs">Millbroo</text>
<text x="827.70" y="561.40" text-anchor="end" textLength="24.7" lengthAdjust="spacingAndGlyphs">Stanmore</text>
<text x="827.70" y="570.40" text-anchor="end" textLength="21.7" lengthAdjust="spacingAndGlyphs">Lakemba</text>
<text x="827.70" y="579.40" text-anchor="end" textLength="22.2" lengthAdjust="spacingAndGlyphs">Woodlan</text>
<text x="827.70" y="588.40" text-anchor="end" textLength="31.2" lengthAdjust="spacingAndGlyphs">Fairfield</text>
<text x="827.70" y="600.90" text-anchor="end" textLength="22.2" lengthAdjust="spacingAndGlyphs">Kingsfo</text>
<text x="836.70" y="609.90" text-anchor="end" textLength="29.2" lengthAdjust="spacingAndGlyphs">Riverwood</text>
<text x="841.00" y="624.00" text-anchor="end" textLength="14.0" lengthAdjust="spacingAndGlyphs">Hills</text>
<text transform="translate(871.00,622.00) rotate(-45)" x="-3.3" y="1.9" text-anchor="end" textLength="37.7" lengthAdjust="spacingAndGlyphs">Parkview Broo</text>
<text transform="translate(884.50,622.00) rotate(-45)" x="-3.3" y="1.9" text-anchor="end" textLength="24.3" lengthAdjust="spacingAndGlyphs">Ashfield</text>
<text transform="translate(897.50,622.00) rotate(-45)" x="-3.3" y="1.9" text-anchor="end" textLength="18.6" lengthAdjust="spacingAndGlyphs">Glenmo</text>
<text transform="translate(911.00,622.00) rotate(-45)" x="-3.3" y="1.9" text-anchor="end" textLength="12.3" lengthAdjust="spacingAndGlyphs">West</text>
<text transform="translate(924.50,622.00) rotate(-45)" x="-3.3" y="1.9" text-anchor="end" textLength="15.8" lengthAdjust="spacingAndGlyphs">Oakhu</text>
<text transform="translate(937.50,622.00) rotate(-45)" x="-3.3" y="1.9" text-anchor="end" textLength="38.4" lengthAdjust="spacingAndGlyphs">Millbrook Sta</text>
<text transform="translate(973.50,622.00) rotate(-45)" x="-3.3" y="1.9" text-anchor="end" textLength="18.6" lengthAdjust="spacingAndGlyphs">Lakemb</text>
<text transform="translate(986.50,622.00) rotate(-45)" x="-3.3" y="1.9" text-anchor="end" textLength="22.9" lengthAdjust="spacingAndGlyphs">Woodland</text>
<text transform="translate(1004.50,622.00) rotate(-45)" x="-3.3" y="1.9" text-anchor="end" textLength="21.4" lengthAdjust="spacingAndGlyphs">Fairfie</text>
<text transform="translate(1022.00,622.00) rotate(-45)" x="-3.3" y="1.9" text-anchor="end" textLength="19.3" lengthAdjust="spacingAndGlyphs">Kingsf</text>
<text transform="translate(1035.50,622.00) rotate(-45)" x="-3.3" y="1.9" text-anchor="end" textLength="18.6" lengthAdjust="spacingAndGlyphs">Riverw</text>
<text transform="translate(1071.00,622.00) rotate(-45)" x="-3.3" y="1.9" text-anchor="end" textLength="25.0" lengthAdjust="spacingAndGlyphs">Hillside</text>
<text transform="translate(1084.50,622.00) rotate(-45)" x="-3.3" y="1.9" text-anchor="end" textLength="21.4" lengthAdjust="spacingAndGlyphs">Parkvie</text>
<text transform="translate(1097.50,622.00) rotate(-45)" x="-3.3" y="1.9" text-anchor="end" textLength="22.9" lengthAdjust="spacingAndGlyphs">Brookval</text>
<text transform="translate(1111.00,622.00) rotate(-45)" x="-3.3" y="1.9" text-anchor="end" textLength="20.7" lengthAdjust="spacingAndGlyphs">Ashfiel</text>
<text transform="translate(1128.50,622.00) rotate(-45)" x="-3.3" y="1.9" text-anchor="end" textLength="15.8" lengthAdjust="spacingAndGlyphs">Glenm</text>
<text transform="translate(1142.00,622.00) rotate(-45)" x="-3.3" y="1.9" text-anchor="end" textLength="19.3" lengthAdjust="spacingAndGlyphs">Westbu</text>
<text transform="translate(1160.00,622.00) rotate(-45)" x="-3.3" y="1.9" text-anchor="end" textLength="32.1" lengthAdjust="spacingAndGlyphs">Oakhurst Mi</text>
<text transform="translate(1177.50,622.00) rotate(-45)" x="-3.3" y="1.9" text-anchor="end" textLength="17.2" lengthAdjust="spacingAndGlyphs">Stanmo</text>
<text transform="translate(1195.00,622.00) rotate(-45)" x="-3.3" y="1.9" text-anchor="end" textLength="16.5" lengthAdjust="spacingAndGlyphs">Lakem</text>
<text transform="translate(1053.00,622.00) rotate(-45)" x="-3.3" y="1.9" text-anchor="end" textLength="16.5" lengthAdjust="spacingAndGlyphs">Woodl</text>
<text x="836.70" y="637.40" text-anchor="end" textLength="16.7" lengthAdjust="spacingAndGlyphs">Fairfi</text>
<text x="827.20" y="646.40" text-anchor="end" textLength="23.2" lengthAdjust="spacingAndGlyphs">Kingsfor</text>
<text x="818.70" y="654.90" text-anchor="end" textLength="21.7" lengthAdjust="spacingAndGlyphs">Riverwo</text>
<text x="809.70" y="663.90" text-anchor="end" textLength="19.7" lengthAdjust="spacingAndGlyphs">Hillsid</text>
<text x="799.70" y="672.40" text-anchor="end" textLength="27.2" lengthAdjust="spacingAndGlyphs">Parkview</text>
<text x="801.20" y="681.90" text-anchor="end" textLength="17.2" lengthAdjust="spacingAndGlyphs">Brookv</text>
<text x="801.20" y="690.90" text-anchor="end" textLength="17.2" lengthAdjust="spacingAndGlyphs">Ashfie</text>
<text x="801.20" y="699.40" text-anchor="end" textLength="20.2" lengthAdjust="spacingAndGlyphs">Glenmor</text>
<text x="801.20" y="712.90" text-anchor="end" textLength="25.2" lengthAdjust="spacingAndGlyphs">Westbury</text>
<text x="801.20" y="721.90" text-anchor="end" textLength="25.2" lengthAdjust="spacingAndGlyphs">Oakhurst</text>
<text x="801.20" y="730.40" text-anchor="end" textLength="30.2" lengthAdjust="spacingAndGlyphs">Millbrook</text>
<text x="801.20" y="738.90" text-anchor="end" textLength="20.2" lengthAdjust="spacingAndGlyphs">Stanmor</text>
<text x="801.20" y="747.90" text-anchor="end" textLength="22.2" lengthAdjust="spacingAndGlyphs">Lakemba</text>
<text x="801.20" y="756.90" text-anchor="end" textLength="15.2" lengthAdjust="spacingAndGlyphs">Woodl</text>
<text x="801.20" y="765.90" text-anchor="end" textLength="19.2" lengthAdjust="spacingAndGlyphs">Fairfi</text>
<text x="801.20" y="778.90" text-anchor="end" textLength="35.2" lengthAdjust="spacingAndGlyphs">Kingsford Ri</text>
<text transform="translate(746.50,791.00) rotate(-45)" x="-3.3" y="1.9" text-anchor="end" textLength="28.5" lengthAdjust="spacingAndGlyphs">Hillside P</text>
<text transform="translate(760.00,791.00) rotate(-45)" x="-3.3" y="1.9" text-anchor="end" textLength="34.9" lengthAdjust="spacingAndGlyphs">Brookvale As</text>
<text transform="translate(773.50,791.00) rotate(-45)" x="-3.3" y="1.9" text-anchor="end" textLength="32.8" lengthAdjust="spacingAndGlyphs">Glenmore We</text>
<text transform="translate(786.50,791.00) rotate(-45)" x="-3.3" y="1.9" text-anchor="end" textLength="34.2" lengthAdjust="spacingAndGlyphs">Oakhurst Mi</text>
<text x="728.00" y="793.00" text-anchor="end" textLength="38.0" lengthAdjust="spacingAndGlyphs">Stanmore Lake</text>
<text x="667.00" y="781.00" text-anchor="start" textLength="23.0" lengthAdjust="spacingAndGlyphs">Woodland</text>
<text x="654.20" y="801.40" text-anchor="end" textLength="32.2" lengthAdjust="spacingAndGlyphs">Fairfield K</text>
<text x="654.20" y="814.90" text-anchor="end" textLength="25.2" lengthAdjust="spacingAndGlyphs">Riverwoo</text>
<text x="654.20" y="827.90" text-anchor="end" textLength="18.2" lengthAdjust="spacingAndGlyphs">Hillsi</text>
<text x="654.20" y="841.40" text-anchor="end" textLength="34.2" lengthAdjust="spacingAndGlyphs">Parkview Br</text>
<text x="654.20" y="854.90" text-anchor="end" textLength="17.2" lengthAdjust="spacingAndGlyphs">Ashfie</text>
<text x="654.20" y="868.40" text-anchor="end" textLength="16.2" lengthAdjust="spacingAndGlyphs">Glenm</text>
<text x="654.20" y="881.90" text-anchor="end" textLength="21.2" lengthAdjust="spacingAndGlyphs">Westbur</text>
<text x="659.10" y="890.60" text-anchor="end" textLength="27.1" lengthAdjust="spacingAndGlyphs">Oakhurst</text>
<text x="667.70" y="899.30" text-anchor="end" textLength="33.1" lengthAdjust="spacingAndGlyphs">Millbrook S</text>
<text x="676.70" y="908.10" text-anchor="end" textLength="19.7" lengthAdjust="spacingAndGlyphs">Lakemba</text>
<text transform="translate(693.20,911.30) rotate(-45)" x="3.3" y="1.9" textLength="34.2" lengthAdjust="spacingAndGlyphs">Woodlands F</text>
<text transform="translate(706.70,911.30) rotate(-45)" x="3.3" y="1.9" textLength="14.4" lengthAdjust="spacingAndGlyphs">Kings</text>
<text transform="translate(719.90,911.30) rotate(-45)" x="3.3" y="1.9" textLength="34.6" lengthAdjust="spacingAndGlyphs">Riverwood Hi</text>
<text transform="translate(733.30,911.30) rotate(-45)" x="3.3" y="1.9" textLength="11.0" lengthAdjust="spacingAndGlyphs">Park</text>
<text transform="translate(746.30,915.50) rotate(-45)" x="3.3" y="1.9" textLength="29.1" lengthAdjust="spacingAndGlyphs">Brookvale</text>
<text transform="translate(755.30,924.30) rotate(-45)" x="3.3" y="1.9" textLength="26.0" lengthAdjust="spacingAndGlyphs">Ashfield</text>
<text x="853.00" y="662.00" text-anchor="start" textLength="33.0" lengthAdjust="spacingAndGlyphs">Glenmore We</text>
<text x="909.80" y="517.40" textLength="38.2" lengthAdjust="spacingAndGlyphs">Oakhurst Mill</text>
<text x="909.80" y="534.90" textLength="27.2" lengthAdjust="spacingAndGlyphs">Stanmore</text>
<text x="900.80" y="557.40" textLength="27.2" lengthAdjust="spacingAndGlyphs">Lakemba W</text>
<text x="887.80" y="570.40" textLength="15.7" lengthAdjust="spacingAndGlyphs">Fairf</text>
<text x="874.30" y="583.90" textLength="23.7" lengthAdjust="spacingAndGlyphs">Kingsfor</text>
<text x="860.80" y="597.40" textLength="37.2" lengthAdjust="spacingAndGlyphs">Riverwood Hi</text>
<text x="956.70" y="526.40" text-anchor="end" textLength="19.2" lengthAdjust="spacingAndGlyphs">Parkvi</text>
<text x="956.70" y="543.90" text-anchor="end" textLength="22.7" lengthAdjust="spacingAndGlyphs">Brookval</text>
<text x="963.30" y="561.90" textLength="18.2" lengthAdjust="spacingAndGlyphs">Ashfie</text>
<text x="949.80" y="575.40" textLength="31.7" lengthAdjust="spacingAndGlyphs">Glenmore We</text>
<text x="929.70" y="583.90" text-anchor="end" textLength="12.7" lengthAdjust="spacingAndGlyphs">Oakh</text>
<text transform="translate(911.00,493.00) rotate(45)" x="-3.3" y="1.9" text-anchor="end" textLength="24.3" lengthAdjust="spacingAndGlyphs">Millbroo</text>
<text transform="translate(924.50,493.00) rotate(45)" x="-3.3" y="1.9" text-anchor="end" textLength="22.9" lengthAdjust="spacingAndGlyphs">Stanmore</text>
<text transform="translate(942.00,493.00) rotate(45)" x="-3.3" y="1.9" text-anchor="end" textLength="29.2" lengthAdjust="spacingAndGlyphs">Lakemba Wo</text>
<text transform="translate(955.50,493.00) rotate(45)" x="-3.3" y="1.9" text-anchor="end" textLength="15.1" lengthAdjust="spacingAndGlyphs">Fairf</text>
<text x="902.00" y="453.00" text-anchor="start" textLength="87.0" lengthAdjust="spacingAndGlyphs">Kingsford Riverwood Hillside</text>
<text x="963.00" y="465.00" text-anchor="start" textLength="27.0" lengthAdjust="spacingAndGlyphs">Parkview</text>
<text x="998.80" y="459.40" textLength="21.2" lengthAdjust="spacingAndGlyphs">Brookva</text>
<text x="967.30" y="503.90" textLength="11.7" lengthAdjust="spacingAndGlyphs">Ashf</text>
<text transform="translate(968.50,515.00) rotate(45)" x="3.3" y="1.9" textLength="37.0" lengthAdjust="spacingAndGlyphs">Glenmore Wes</text>
<text transform="translate(977.50,515.00) rotate(45)" x="3.3" y="1.9" textLength="28.5" lengthAdjust="spacingAndGlyphs">Oakhurst M</text>
<text transform="translate(986.50,515.00) rotate(45)" x="3.3" y="1.9" textLength="34.2" lengthAdjust="spacingAndGlyphs">Stanmore La</text>
<text transform="translate(995.00,515.00) rotate(45)" x="3.3" y="1.9" textLength="22.2" lengthAdjust="spacingAndGlyphs">Woodlan</text>
<text transform="translate(1008.50,515.00) rotate(-45)" x="3.3" y="1.9" textLength="22.9" lengthAdjust="spacingAndGlyphs">Fairfiel</text>
<text transform="translate(1017.00,515.00) rotate(-45)" x="3.3" y="1.9" textLength="27.8" lengthAdjust="spacingAndGlyphs">Kingsford</text>
<text transform="translate(1026.00,515.00) rotate(-45)" x="3.3" y="1.9" textLength="15.1" lengthAdjust="spacingAndGlyphs">River</text>
<text transform="translate(1035.50,515.00) rotate(-45)" x="3.3" y="1.9" textLength="48.3" lengthAdjust="spacingAndGlyphs">Hillside Parkvie</text>
<text transform="translate(1044.50,515.00) rotate(-45)" x="3.3" y="1.9" textLength="34.2" lengthAdjust="spacingAndGlyphs">Brookvale A</text>
<text transform="translate(1053.00,520.00) rotate(-45)" x="3.3" y="1.9" textLength="17.9" lengthAdjust="spacingAndGlyphs">Glenmo</text>
<text x="1056.30" y="530.40" textLength="18.2" lengthAdjust="spacingAndGlyphs">Westbu</text>
<text x="1056.30" y="539.40" textLength="37.2" lengthAdjust="spacingAndGlyphs">Oakhurst Mil</text>
<text x="1056.30" y="548.40" textLength="29.2" lengthAdjust="spacingAndGlyphs">Stanmore L</text>
<text x="1056.30" y="556.90" textLength="30.2" lengthAdjust="spacingAndGlyphs">Woodlands</text>
<text x="1051.80" y="583.90" textLength="35.7" lengthAdjust="spacingAndGlyphs">Fairfield Ki</text>
<text x="1003.30" y="313.15" textLength="20.7" lengthAdjust="spacingAndGlyphs">Riverwo</text>
<text x="1003.30" y="330.65" textLength="22.7" lengthAdjust="spacingAndGlyphs">Hillside</text>
<text x="1003.30" y="348.15" textLength="28.2" lengthAdjust="spacingAndGlyphs">Parkview</text>
<text x="1003.30" y="366.15" textLength="18.7" lengthAdjust="spacingAndGlyphs">Brookv</text>
<text x="1003.30" y="383.90" textLength="24.7" lengthAdjust="spacingAndGlyphs">Ashfield</text>
<text x="1003.30" y="401.40" textLength="28.7" lengthAdjust="spacingAndGlyphs">Glenmore W</text>
<text x="1003.30" y="419.40" textLength="13.7" lengthAdjust="spacingAndGlyphs">Oakhu</text>
<text x="1003.30" y="441.15" textLength="25.7" lengthAdjust="spacingAndGlyphs">Millbrook</text>
<text x="1014.20" y="294.90" text-anchor="end" textLength="24.2" lengthAdjust="spacingAndGlyphs">Stanmore</text>
<text x="1036.70" y="272.60" text-anchor="end" textLength="27.7" lengthAdjust="spacingAndGlyphs">Lakemba W</text>
<text x="1054.40" y="254.90" text-anchor="end" textLength="23.4" lengthAdjust="spacingAndGlyphs">Fairfiel</text>
<text x="1089.70" y="259.90" text-anchor="end" textLength="17.7" lengthAdjust="spacingAndGlyphs">Kingsf</text>
<text x="1106.00" y="248.00" text-anchor="start" textLength="25.5" lengthAdjust="spacingAndGlyphs">Riverwoo</text>
<text x="1145.30" y="259.40" textLength="61.7" lengthAdjust="spacingAndGlyphs">Hillside Parkview Bro</text>
<text x="1145.30" y="272.90" textLength="37.7" lengthAdjust="spacingAndGlyphs">Ashfield Glen</text>
<text x="1145.30" y="286.40" textLength="37.7" lengthAdjust="spacingAndGlyphs">Westbury Oakh</text>
<text x="1145.30" y="299.90" textLength="29.7" lengthAdjust="spacingAndGlyphs">Millbrook</text>
<text x="1136.30" y="308.40" textLength="14.7" lengthAdjust="spacingAndGlyphs">Stanm</text>
<text x="1089.70" y="268.40" text-anchor="end" textLength="15.7" lengthAdjust="spacingAndGlyphs">Lakem</text>
<text x="1089.70" y="277.40" text-anchor="end" textLength="24.7" lengthAdjust="spacingAndGlyphs">Woodland</text>
<text x="1089.70" y="286.40" text-anchor="end" textLength="20.7" lengthAdjust="spacingAndGlyphs">Fairfie</text>
<text x="1089.70" y="295.40" text-anchor="end" textLength="23.2" lengthAdjust="spacingAndGlyphs">Kingsfor</text>
<text x="1099.20" y="303.90" text-anchor="end" textLength="16.2" lengthAdjust="spacingAndGlyphs">River</text>
<text x="1107.70" y="312.90" text-anchor="end" textLength="16.2" lengthAdjust="spacingAndGlyphs">Hills</text>
<text x="1116.70" y="321.90" text-anchor="end" textLength="13.7" lengthAdjust="spacingAndGlyphs">Parkv</text>
<text x="1125.70" y="330.40" text-anchor="end" textLength="18.7" lengthAdjust="spacingAndGlyphs">Brookv</text>
<text x="1134.20" y="339.40" text-anchor="end" textLength="19.2" lengthAdjust="spacingAndGlyphs">Ashfie</text>
<text x="1147.70" y="352.90" text-anchor="end" textLength="23.7" lengthAdjust="spacingAndGlyphs">Glenmore</text>
<text x="1161.20" y="366.40" text-anchor="end" textLength="18.2" lengthAdjust="spacingAndGlyphs">Westbu</text>
<text x="1170.20" y="374.90" text-anchor="end" textLength="19.2" lengthAdjust="spacingAndGlyphs">Oakhur</text>
<text x="1178.70" y="383.90" text-anchor="end" textLength="25.7" lengthAdjust="spacingAndGlyphs">Millbrook</text>
<text x="1187.70" y="392.90" text-anchor="end" textLength="22.7" lengthAdjust="spacingAndGlyphs">Stanmore</text>
<text x="1196.70" y="401.90" text-anchor="end" textLength="31.2" lengthAdjust="spacingAndGlyphs">Lakemba Wo</text>
<text x="1205.70" y="410.90" text-anchor="end" textLength="20.2" lengthAdjust="spacingAndGlyphs">Fairfie</text>
<text x="1214.20" y="419.40" text-anchor="end" textLength="35.2" lengthAdjust="spacingAndGlyphs">Kingsford Ri</text>
<text x="1223.20" y="428.40" text-anchor="end" textLength="29.2" lengthAdjust="spacingAndGlyphs">Hillside P</text>
<text x="1225.70" y="446.40" text-anchor="end" textLength="26.7" lengthAdjust="spacingAndGlyphs">Brookvale</text>
<text x="1227.70" y="459.40" text-anchor="end" textLength="16.7" lengthAdjust="spacingAndGlyphs">Ashfie</text>
<text x="1227.70" y="468.40" text-anchor="end" textLength="39.7" lengthAdjust="spacingAndGlyphs">Glenmore West</text>
<text x="1225.70" y="481.90" text-anchor="end" textLength="24.7" lengthAdjust="spacingAndGlyphs">Oakhurst</text>
<text x="1227.70" y="494.90" text-anchor="end" textLength="22.7" lengthAdjust="spacingAndGlyphs">Millbroo</text>
<text x="1227.70" y="508.40" text-anchor="end" textLength="26.7" lengthAdjust="spacingAndGlyphs">Stanmore</text>
<text x="1225.70" y="525.90" text-anchor="end" textLength="16.7" lengthAdjust="spacingAndGlyphs">Lakemb</text>
<text x="1225.70" y="556.90" text-anchor="end" textLength="18.2" lengthAdjust="spacingAndGlyphs">Woodla</text>
<text x="1217.70" y="592.40" text-anchor="end" textLength="9.7" lengthAdjust="spacingAndGlyphs">Fai</text>
<text x="1247.80" y="490.40" textLength="25.2" lengthAdjust="spacingAndGlyphs">Kingsfor</text>
<text x="1247.80" y="499.40" textLength="35.7" lengthAdjust="spacingAndGlyphs">Riverwood Hi</text>
<text x="1269.00" y="513.00" text-anchor="start" textLength="29.0" lengthAdjust="spacingAndGlyphs">Parkview B</text>
<text x="1323.30" y="507.90" textLength="28.7" lengthAdjust="spacingAndGlyphs">Ashfield G</text>
<text x="1274.30" y="530.40" textLength="9.7" lengthAdjust="spacingAndGlyphs">Wes</text>
<text x="1251.00" y="544.00" text-anchor="start" textLength="29.0" lengthAdjust="spacingAndGlyphs">Oakhurst M</text>
<text x="1287.80" y="553.40" textLength="26.7" lengthAdjust="spacingAndGlyphs">Stanmore</text>
<text x="1287.80" y="578.90" textLength="15.7" lengthAdjust="spacingAndGlyphs">Lakem</text>
<text x="1338.30" y="535.40" textLength="44.7" lengthAdjust="spacingAndGlyphs">Woodlands Fairf</text>
<text x="1337.30" y="570.40" textLength="25.7" lengthAdjust="spacingAndGlyphs">Kingsford</text>
<text x="1261.00" y="602.00" text-anchor="start" textLength="17.5" lengthAdjust="spacingAndGlyphs">Riverw</text>
<text x="1300.00" y="602.00" text-anchor="start" textLength="18.0" lengthAdjust="spacingAndGlyphs">Hillsi</text>
<text x="1209.70" y="605.90" text-anchor="end" textLength="26.7" lengthAdjust="spacingAndGlyphs">Parkview</text>
<text transform="translate(986.50,582.00) rotate(-45)" x="3.3" y="1.9" textLength="23.6" lengthAdjust="spacingAndGlyphs">Brookval</text>
<text transform="translate(1000.00,582.00) rotate(-45)" x="3.3" y="1.9" textLength="35.6" lengthAdjust="spacingAndGlyphs">Ashfield Gle</text>
<text transform="translate(1013.50,582.00) rotate(-45)" x="3.3" y="1.9" textLength="22.9" lengthAdjust="spacingAndGlyphs">Westbury</text>
<text transform="translate(1026.50,586.50) rotate(-45)" x="3.3" y="1.9" textLength="30.6" lengthAdjust="spacingAndGlyphs">Oakhurst M</text>
<text x="961.20" y="606.40" text-anchor="end" textLength="13.2" lengthAdjust="spacingAndGlyphs">Stan</text>
<text x="1012.70" y="601.40" text-anchor="end" textLength="43.7" lengthAdjust="spacingAndGlyphs">Lakemba Woodlan</text>
<text x="1037.00" y="614.00" text-anchor="start" textLength="29.0" lengthAdjust="spacingAndGlyphs">Fairfield</text>
<text x="1032.20" y="654.90" text-anchor="end" textLength="50.2" lengthAdjust="spacingAndGlyphs">Kingsford Riverwo</text>
<text x="1032.20" y="668.40" text-anchor="end" textLength="18.2" lengthAdjust="spacingAndGlyphs">Hillsi</text>
<text x="1032.20" y="681.90" text-anchor="end" textLength="29.2" lengthAdjust="spacingAndGlyphs">Parkview B</text>
<text x="1032.20" y="695.40" text-anchor="end" textLength="15.2" lengthAdjust="spacingAndGlyphs">Ashfi</text>
<text transform="translate(978.00,711.00) rotate(45)" x="-3.3" y="1.9" text-anchor="end" textLength="23.6" lengthAdjust="spacingAndGlyphs">Glenmore</text>
<text transform="translate(991.00,706.50) rotate(45)" x="-3.3" y="1.9" text-anchor="end" textLength="17.9" lengthAdjust="spacingAndGlyphs">Westbu</text>
<text transform="translate(1004.50,706.50) rotate(45)" x="-3.3" y="1.9" text-anchor="end" textLength="15.8" lengthAdjust="spacingAndGlyphs">Oakhu</text>
<text transform="translate(1018.00,706.50) rotate(-45)" x="-3.3" y="1.9" text-anchor="end" textLength="37.7" lengthAdjust="spacingAndGlyphs">Millbrook Sta</text>
<text transform="translate(1031.00,706.50) rotate(-45)" x="-3.3" y="1.9" text-anchor="end" textLength="39.1" lengthAdjust="spacingAndGlyphs">Lakemba Woodl</text>
<text x="970.20" y="725.90" text-anchor="end" textLength="27.2" lengthAdjust="spacingAndGlyphs">Fairfield</text>
<text x="967.70" y="739.40" text-anchor="end" textLength="21.7" lengthAdjust="spacingAndGlyphs">Kingsfo</text>
<text x="936.80" y="712.90" textLength="19.2" lengthAdjust="spacingAndGlyphs">Riverw</text>
<text x="930.20" y="725.90" text-anchor="end" textLength="19.2" lengthAdjust="spacingAndGlyphs">Hillsi</text>
<text x="930.20" y="739.40" text-anchor="end" textLength="27.2" lengthAdjust="spacingAndGlyphs">Parkview</text>
<text x="934.70" y="747.90" text-anchor="end" textLength="48.7" lengthAdjust="spacingAndGlyphs">Brookvale Ashfie</text>
<text transform="translate(955.50,746.00) rotate(-45)" x="-3.3" y="1.9" text-anchor="end" textLength="28.5" lengthAdjust="spacingAndGlyphs">Glenmore W</text>
<text transform="translate(968.50,746.00) rotate(-45)" x="-3.3" y="1.9" text-anchor="end" textLength="35.6" lengthAdjust="spacingAndGlyphs">Oakhurst Mil</text>
<text x="919.70" y="659.40" text-anchor="end" textLength="28.7" lengthAdjust="spacingAndGlyphs">Stanmore L</text>
<text x="920.70" y="668.40" text-anchor="end" textLength="8.7" lengthAdjust="spacingAndGlyphs">Woo</text>
<text x="921.70" y="703.90" text-anchor="end" textLength="12.7" lengthAdjust="spacingAndGlyphs">Fair</text>
<text transform="translate(835.00,693.50) rotate(-45)" x="-3.3" y="1.9" text-anchor="end" textLength="27.1" lengthAdjust="spacingAndGlyphs">Kingsford</text>
<text transform="translate(844.50,702.00) rotate(-45)" x="-3.3" y="1.9" text-anchor="end" textLength="21.4" lengthAdjust="spacingAndGlyphs">Riverwo</text>
<text transform="translate(857.50,711.00) rotate(-45)" x="-3.3" y="1.9" text-anchor="end" textLength="27.1" lengthAdjust="spacingAndGlyphs">Hillside</text>
<text transform="translate(875.50,711.00) rotate(-45)" x="-3.3" y="1.9" text-anchor="end" textLength="20.0" lengthAdjust="spacingAndGlyphs">Parkvie</text>
<text transform="translate(893.50,711.00) rotate(-45)" x="-3.3" y="1.9" text-anchor="end" textLength="25.7" lengthAdjust="spacingAndGlyphs">Brookvale</text>
<text transform="translate(911.50,711.00) rotate(-45)" x="-3.3" y="1.9" text-anchor="end" textLength="15.8" lengthAdjust="spacingAndGlyphs">Ashfi</text>
<text transform="translate(982.00,746.50) rotate(-45)" x="-3.3" y="1.9" text-anchor="end" textLength="22.2" lengthAdjust="spacingAndGlyphs">Glenmor</text>
<text transform="translate(995.50,751.00) rotate(-45)" x="-3.3" y="1.9" text-anchor="end" textLength="25.7" lengthAdjust="spacingAndGlyphs">Westbury</text>
<text transform="translate(1009.00,751.00) rotate(-45)" x="-3.3" y="1.9" text-anchor="end" textLength="23.6" lengthAdjust="spacingAndGlyphs">Oakhurst</text>
<text transform="translate(1022.00,751.00) rotate(-45)" x="-3.3" y="1.9" text-anchor="end" textLength="20.7" lengthAdjust="spacingAndGlyphs">Millbro</text>
<text transform="translate(1035.50,751.00) rotate(45)" x="-3.3" y="1.9" text-anchor="end" textLength="17.2" lengthAdjust="spacingAndGlyphs">Stanmo</text>
<text transform="translate(1049.00,751.00) rotate(45)" x="-3.3" y="1.9" text-anchor="end" textLength="17.9" lengthAdjust="spacingAndGlyphs">Lakemb</text>
<text transform="translate(1062.00,751.00) rotate(45)" x="-3.3" y="1.9" text-anchor="end" textLength="41.9" lengthAdjust="spacingAndGlyphs">Woodlands Fair</text>
<text transform="translate(1075.50,751.00) rotate(45)" x="-3.3" y="1.9" text-anchor="end" textLength="17.2" lengthAdjust="spacingAndGlyphs">Kingsf</text>
<text transform="translate(1089.00,751.00) rotate(45)" x="-3.3" y="1.9" text-anchor="end" textLength="34.9" lengthAdjust="spacingAndGlyphs">Riverwood Hi</text>
<text transform="translate(1097.50,746.50) rotate(45)" x="-3.3" y="1.9" text-anchor="end" textLength="22.9" lengthAdjust="spacingAndGlyphs">Parkview</text>
<text transform="translate(1111.00,746.50) rotate(45)" x="-3.3" y="1.9" text-anchor="end" textLength="32.1" lengthAdjust="spacingAndGlyphs">Brookvale A</text>
<text transform="translate(1124.50,746.50) rotate(45)" x="-3.3" y="1.9" text-anchor="end" textLength="25.0" lengthAdjust="spacingAndGlyphs">Glenmore</text>
<text transform="translate(1138.00,746.50) rotate(45)" x="-3.3" y="1.9" text-anchor="end" textLength="25.0" lengthAdjust="spacingAndGlyphs">Westbury</text>
<text transform="translate(840.00,751.00) rotate(-45)" x="-3.3" y="1.9" text-anchor="end" textLength="29.2" lengthAdjust="spacingAndGlyphs">Oakhurst M</text>
<text transform="translate(857.50,751.00) rotate(-45)" x="-3.3" y="1.9" text-anchor="end" textLength="24.3" lengthAdjust="spacingAndGlyphs">Stanmore</text>
<text transform="translate(875.50,759.50) rotate(-45)" x="-3.3" y="1.9" text-anchor="end" textLength="18.6" lengthAdjust="spacingAndGlyphs">Lakemb</text>
<text transform="translate(889.00,773.00) rotate(-45)" x="-3.3" y="1.9" text-anchor="end" textLength="20.7" lengthAdjust="spacingAndGlyphs">Woodlan</text>
<text transform="translate(902.00,786.50) rotate(-45)" x="-3.3" y="1.9" text-anchor="end" textLength="17.9" lengthAdjust="spacingAndGlyphs">Fairfi</text>
<text transform="translate(919.50,786.50) rotate(-45)" x="-3.3" y="1.9" text-anchor="end" textLength="17.9" lengthAdjust="spacingAndGlyphs">Kingsf</text>
<text transform="translate(937.50,786.50) rotate(-45)" x="-3.3" y="1.9" text-anchor="end" textLength="35.6" lengthAdjust="spacingAndGlyphs">Riverwood Hi</text>
<text transform="translate(955.50,786.50) rotate(-45)" x="-3.3" y="1.9" text-anchor="end" textLength="18.6" lengthAdjust="spacingAndGlyphs">Parkvi</text>
<text transform="translate(973.00,786.50) rotate(-45)" x="-3.3" y="1.9" text-anchor="end" textLength="23.6" lengthAdjust="spacingAndGlyphs">Brookval</text>
<text transform="translate(986.50,795.00) rotate(-45)" x="-3.3" y="1.9" text-anchor="end" textLength="22.2" lengthAdjust="spacingAndGlyphs">Ashfiel</text>
<text transform="translate(1004.50,800.00) rotate(-45)" x="-3.3" y="1.9" text-anchor="end" textLength="17.2" lengthAdjust="spacingAndGlyphs">Glenmo</text>
<text transform="translate(1022.00,800.00) rotate(-45)" x="-3.3" y="1.9" text-anchor="end" textLength="27.8" lengthAdjust="spacingAndGlyphs">Westbury</text>
<text transform="translate(1040.00,800.00) rotate(-45)" x="-3.3" y="1.9" text-anchor="end" textLength="23.6" lengthAdjust="spacingAndGlyphs">Oakhurst</text>
<text transform="translate(1057.50,800.00) rotate(-45)" x="-3.3" y="1.9" text-anchor="end" textLength="24.3" lengthAdjust="spacingAndGlyphs">Millbroo</text>
<text transform="translate(1075.50,800.00) rotate(-45)" x="-3.3" y="1.9" text-anchor="end" textLength="15.8" lengthAdjust="spacingAndGlyphs">Stanm</text>
<text transform="translate(1093.00,800.00) rotate(-45)" x="-3.3" y="1.9" text-anchor="end" textLength="29.2" lengthAdjust="spacingAndGlyphs">Lakemba Wo</text>
<text transform="translate(1111.00,800.00) rotate(-45)" x="-3.3" y="1.9" text-anchor="end" textLength="29.2" lengthAdjust="spacingAndGlyphs">Fairfield</text>
<text x="1127.80" y="801.90" textLength="13.7" lengthAdjust="spacingAndGlyphs">Kings</text>
<text x="1141.30" y="788.40" textLength="23.7" lengthAdjust="spacingAndGlyphs">Riverwoo</text>
<text x="1154.30" y="774.90" textLength="24.2" lengthAdjust="spacingAndGlyphs">Hillside</text>
<text x="1165.70" y="757.40" text-anchor="end" textLength="14.7" lengthAdjust="spacingAndGlyphs">Parkv</text>
<text x="1159.30" y="672.90" textLength="19.2" lengthAdjust="spacingAndGlyphs">Brookv</text>
<text x="1154.30" y="694.90" textLength="22.7" lengthAdjust="spacingAndGlyphs">Ashfield</text>
<text x="1154.30" y="712.90" textLength="19.7" lengthAdjust="spacingAndGlyphs">Glenmor</text>
<text x="1159.30" y="730.40" textLength="17.7" lengthAdjust="spacingAndGlyphs">Westbu</text>
<text transform="translate(1200.00,760.00) rotate(45)" x="3.3" y="1.9" textLength="25.0" lengthAdjust="spacingAndGlyphs">Oakhurst</text>
<text transform="translate(1235.50,751.00) rotate(45)" x="3.3" y="1.9" textLength="42.7" lengthAdjust="spacingAndGlyphs">Millbrook Stan</text>
<text transform="translate(1249.00,737.50) rotate(45)" x="3.3" y="1.9" textLength="36.3" lengthAdjust="spacingAndGlyphs">Lakemba Wood</text>
<text transform="translate(1271.00,733.50) rotate(45)" x="3.3" y="1.9" textLength="15.8" lengthAdjust="spacingAndGlyphs">Fairf</text>
<text transform="translate(1293.00,733.50) rotate(45)" x="3.3" y="1.9" textLength="22.9" lengthAdjust="spacingAndGlyphs">Kingsfor</text>
<text x="1314.30" y="726.40" textLength="20.2" lengthAdjust="spacingAndGlyphs">Riverwo</text>
<text x="1327.80" y="712.90" textLength="28.2" lengthAdjust="spacingAndGlyphs">Hillside</text>
<text x="1340.80" y="699.40" textLength="29.2" lengthAdjust="spacingAndGlyphs">Parkview B</text>
<text x="1349.80" y="686.40" textLength="23.7" lengthAdjust="spacingAndGlyphs">Ashfield</text>
<text x="1349.30" y="667.90" textLength="16.7" lengthAdjust="spacingAndGlyphs">Glenmo</text>
<text x="1349.30" y="650.40" textLength="25.7" lengthAdjust="spacingAndGlyphs">Westbury</text>
<text x="1351.30" y="632.90" textLength="31.7" lengthAdjust="spacingAndGlyphs">Oakhurst Mi</text>
<text x="1341.30" y="619.40" textLength="22.7" lengthAdjust="spacingAndGlyphs">Stanmore</text>
<text transform="translate(1288.50,613.00) rotate(-45)" x="-3.3" y="1.9" text-anchor="end" textLength="15.8" lengthAdjust="spacingAndGlyphs">Lakem</text>
<text transform="translate(1280.00,648.50) rotate(-45)" x="-3.3" y="1.9" text-anchor="end" textLength="30.6" lengthAdjust="spacingAndGlyphs">Woodlands</text>
<text transform="translate(1315.00,648.50) rotate(-45)" x="-3.3" y="1.9" text-anchor="end" textLength="27.8" lengthAdjust="spacingAndGlyphs">Fairfield</text>
<text transform="translate(1231.50,662.00) rotate(-45)" x="-3.3" y="1.9" text-anchor="end" textLength="21.4" lengthAdjust="spacingAndGlyphs">Kingsfo</text>
<text x="1181.00" y="657.00" text-anchor="start" textLength="36.0" lengthAdjust="spacingAndGlyphs">Riverwood Hi</text>
<text x="1112.20" y="574.90" text-anchor="end" textLength="22.2" lengthAdjust="spacingAndGlyphs">Parkvie</text>
<text x="1101.70" y="565.90" text-anchor="end" textLength="11.7" lengthAdjust="spacingAndGlyphs">Broo</text>
<text x="1126.20" y="552.90" text-anchor="end" textLength="28.7" lengthAdjust="spacingAndGlyphs">Ashfield G</text>
<text x="1138.70" y="539.40" text-anchor="end" textLength="12.7" lengthAdjust="spacingAndGlyphs">West</text>
<text transform="translate(1160.00,537.50) rotate(45)" x="-3.3" y="1.9" text-anchor="end" textLength="16.5" lengthAdjust="spacingAndGlyphs">Oakhu</text>
<text x="1171.70" y="548.40" text-anchor="end" textLength="11.7" lengthAdjust="spacingAndGlyphs">Mill</text>
<text x="1107.70" y="592.90" text-anchor="end" textLength="30.7" lengthAdjust="spacingAndGlyphs">Stanmore L</text>
<text x="1086.00" y="599.00" text-anchor="start" textLength="20.0" lengthAdjust="spacingAndGlyphs">Woodlan</text>
<text x="1053.00" y="599.00" text-anchor="start" textLength="25.0" lengthAdjust="spacingAndGlyphs">Fairfiel</text></g>
<rect x="64.10" y="19.50" width="5" height="5" class="s"/>
<circle cx="66.60" cy="35.60" r="2.3" class="s"/>
<circle cx="66.60" cy="44.47" r="2.3" class="s"/>
<circle cx="66.60" cy="53.34" r="2.3" class="s"/>
<circle cx="66.60" cy="62.21" r="2.3" class="s"/>
<circle cx="66.60" cy="71.08" r="2.3" class="s"/>
<circle cx="66.60" cy="79.95" r="2.3" class="s"/>
<circle cx="66.60" cy="88.82" r="2.3" class="s"/>
<circle cx="66.60" cy="97.69" r="2.3" class="s"/>
<circle cx="66.60" cy="106.56" r="2.3" class="s"/>
<circle cx="66.60" cy="115.43" r="2.3" class="s"/>
<circle cx="66.60" cy="124.30" r="2.3" class="s"/>
<circle cx="66.60" cy="133.17" r="2.3" class="s"/>
<circle cx="66.60" cy="142.04" r="2.3" class="s"/>
<circle cx="66.60" cy="150.91" r="2.3" class="s"/>
<circle cx="66.60" cy="159.78" r="2.3" class="s"/>
<circle cx="66.60" cy="168.65" r="2.3" class="s"/>
<circle cx="75.40" cy="173.00" r="2.3" class="s"/>
<circle cx="84.25" cy="173.00" r="2.3" class="s"/>
<circle cx="93.10" cy="173.00" r="2.3" class="s"/>
<circle cx="101.95" cy="173.00" r="2.3" class="s"/>
<circle cx="110.80" cy="173.00" r="2.3" class="s"/>
<circle cx="119.65" cy="173.00" r="2.3" class="s"/>
<circle cx="128.50" cy="173.00" r="2.3" class="s"/>
<circle cx="137.35" cy="173.00" r="2.3" class="s"/>
<circle cx="146.20" cy="173.00" r="2.3" class="s"/>
<circle cx="155.40" cy="168.75" r="2.3" class="s"/>
<circle cx="164.40" cy="159.75" r="2.3" class="s"/>
<circle cx="173.25" cy="151.40" r="2.3" class="s"/>
<circle cx="182.14" cy="151.40" r="2.3" class="s"/>
<circle cx="191.02" cy="151.40" r="2.3" class="s"/>
<circle cx="199.91" cy="151.40" r="2.3" class="s"/>
<circle cx="208.80" cy="151.40" r="2.3" class="s"/>
<circle cx="217.69" cy="151.40" r="2.3" class="s"/>
<circle cx="226.57" cy="151.40" r="2.3" class="s"/>
<circle cx="235.46" cy="151.40" r="2.3" class="s"/>
<circle cx="244.35" cy="151.40" r="2.3" class="s"/>
<circle cx="253.23" cy="151.40" r="2.3" class="s"/>
<circle cx="262.12" cy="151.40" r="2.3" class="s"/>
<circle cx="271.01" cy="151.40" r="2.3" class="s"/>
<circle cx="279.89" cy="151.40" r="2.3" class="s"/>
<circle cx="288.78" cy="151.40" r="2.3" class="s"/>
<circle cx="297.67" cy="151.40" r="2.3" class="s"/>
<circle cx="306.56" cy="151.40" r="2.3" class="s"/>
<circle cx="315.44" cy="151.40" r="2.3" class="s"/>
<circle cx="324.33" cy="151.40" r="2.3" class="s"/>
<circle cx="333.22" cy="151.40" r="2.3" class="s"/>
<circle cx="342.10" cy="151.40" r="2.3" class="s"/>
<circle cx="350.99" cy="151.40" r="2.3" class="s"/>
<circle cx="360.20" cy="142.20" r="2.3" class="s"/>
<rect x="361.90" y="122.20" width="4.6" height="4.6" class="s"/>
<circle cx="373.00" cy="133.30" r="2.3" class="s"/>
<circle cx="382.00" cy="151.20" r="2.3" class="s"/>
<circle cx="391.00" cy="159.50" r="2.3" class="s"/>
<circle cx="400.00" cy="168.40" r="2.3" class="s"/>
<rect x="379.70" y="161.80" width="5" height="5" class="s" transform="rotate(45 382.20 164.30)"/>
<circle cx="400.00" cy="177.27" r="2.3" class="s"/>
<circle cx="400.00" cy="186.14" r="2.3" class="s"/>
<circle cx="400.00" cy="195.01" r="2.3" class="s"/>
<circle cx="400.00" cy="203.88" r="2.3" class="s"/>
<circle cx="400.00" cy="212.75" r="2.3" class="s"/>
<circle cx="400.00" cy="221.62" r="2.3" class="s"/>
<circle cx="400.00" cy="230.49" r="2.3" class="s"/>
<circle cx="400.00" cy="239.36" r="2.3" class="s"/>
<circle cx="400.00" cy="248.23" r="2.3" class="s"/>
<circle cx="400.00" cy="257.10" r="2.3" class="s"/>
<circle cx="400.00" cy="265.97" r="2.3" class="s"/>
<circle cx="400.00" cy="274.84" r="2.3" class="s"/>
<circle cx="400.00" cy="283.71" r="2.3" class="s"/>
<circle cx="400.00" cy="292.58" r="2.3" class="s"/>
<circle cx="400.00" cy="301.45" r="2.3" class="s"/>
<circle cx="400.00" cy="310.32" r="2.3" class="s"/>
<circle cx="400.00" cy="319.19" r="2.3" class="s"/>
<circle cx="400.00" cy="328.06" r="2.3" class="s"/>
<circle cx="400.00" cy="337.50" r="2.3" class="s"/>
<circle cx="400.00" cy="346.20" r="2.3" class="s"/>
<circle cx="400.00" cy="355.07" r="2.3" class="s"/>
<circle cx="400.00" cy="363.94" r="2.3" class="s"/>
<circle cx="400.00" cy="372.81" r="2.3" class="s"/>
<circle cx="400.00" cy="381.68" r="2.3" class="s"/>
<rect x="414.85" y="325.95" width="5.5" height="5.5" class="s" transform="rotate(45 417.60 328.70)"/>
<circle cx="408.70" cy="395.40" r="2.3" class="s"/>
<circle cx="417.60" cy="404.30" r="2.3" class="s"/>
<circle cx="426.60" cy="413.10" r="2.3" class="s"/>
<circle cx="426.60" cy="421.90" r="2.3" class="s"/>
<circle cx="426.60" cy="430.77" r="2.3" class="s"/>
<circle cx="426.60" cy="439.64" r="2.3" class="s"/>
<circle cx="426.60" cy="448.51" r="2.3" class="s"/>
<circle cx="426.60" cy="457.38" r="2.3" class="s"/>
<circle cx="426.60" cy="466.25" r="2.3" class="s"/>
<circle cx="426.60" cy="475.12" r="2.3" class="s"/>
<circle cx="426.60" cy="483.99" r="2.3" class="s"/>
<circle cx="426.60" cy="492.86" r="2.3" class="s"/>
<circle cx="426.60" cy="501.73" r="2.3" class="s"/>
<circle cx="426.60" cy="510.60" r="2.3" class="s"/>
<circle cx="426.60" cy="519.47" r="2.3" class="s"/>
<circle cx="426.60" cy="528.75" r="2.3" class="s"/>
<circle cx="431.25" cy="537.50" r="2.3" class="s"/>
<circle cx="440.00" cy="537.50" r="2.3" class="s"/>
<circle cx="448.75" cy="537.50" r="2.3" class="s"/>
<circle cx="462.10" cy="537.50" r="2.3" class="s"/>
<circle cx="475.40" cy="537.50" r="2.3" class="s"/>
<circle cx="484.40" cy="537.50" r="2.3" class="s"/>
<circle cx="493.10" cy="537.50" r="2.3" class="s"/>
<circle cx="502.10" cy="537.50" r="2.3" class="s"/>
<circle cx="511.00" cy="537.50" r="2.3" class="s"/>
<circle cx="520.00" cy="537.50" r="2.3" class="s"/>
<circle cx="528.75" cy="537.50" r="2.3" class="s"/>
<circle cx="537.50" cy="537.50" r="2.3" class="s"/>
<circle cx="546.50" cy="537.50" r="2.3" class="s"/>
<circle cx="555.25" cy="537.50" r="2.3" class="s"/>
<circle cx="564.10" cy="537.50" r="2.3" class="s"/>
<rect x="459.60" y="521.60" width="5" height="5" class="s"/>
<circle cx="608.40" cy="448.75" r="2.3" class="s"/>
<circle cx="608.40" cy="462.20" r="2.3" class="s"/>
<circle cx="608.40" cy="479.70" r="2.3" class="s"/>
<circle cx="608.40" cy="497.50" r="2.3" class="s"/>
<circle cx="608.40" cy="515.30" r="2.3" class="s"/>
<rect x="633.00" y="441.80" width="4.6" height="4.6" class="s"/>
<circle cx="648.70" cy="444.10" r="2.3" class="s"/>
<rect x="659.90" y="441.80" width="4.6" height="4.6" class="s"/>
<rect x="682.50" y="441.80" width="4.6" height="4.6" class="s"/>
<circle cx="693.30" cy="462.30" r="2.3" class="s"/>
<rect x="691.00" y="473.20" width="4.6" height="4.6" class="s"/>
<circle cx="693.30" cy="488.80" r="2.3" class="s"/>
<circle cx="693.30" cy="502.20" r="2.3" class="s"/>
<circle cx="693.30" cy="519.70" r="2.3" class="s"/>
<circle cx="706.40" cy="528.50" r="2.3" class="s"/>
<circle cx="724.50" cy="528.50" r="2.3" class="s"/>
<circle cx="737.75" cy="528.50" r="2.3" class="s"/>
<circle cx="751.00" cy="528.50" r="2.3" class="s"/>
<circle cx="764.50" cy="528.50" r="2.3" class="s"/>
<circle cx="777.75" cy="528.50" r="2.3" class="s"/>
<circle cx="791.00" cy="528.50" r="2.3" class="s"/>
<circle cx="808.50" cy="382.20" r="2.3" class="s"/>
<circle cx="808.50" cy="391.00" r="2.3" class="s"/>
<circle cx="808.50" cy="399.75" r="2.3" class="s"/>
<circle cx="808.50" cy="408.60" r="2.3" class="s"/>
<circle cx="808.50" cy="417.50" r="2.3" class="s"/>
<circle cx="808.50" cy="426.50" r="2.3" class="s"/>
<circle cx="808.50" cy="439.75" r="2.3" class="s"/>
<circle cx="808.50" cy="453.50" r="2.3" class="s"/>
<circle cx="808.50" cy="466.50" r="2.3" class="s"/>
<circle cx="808.50" cy="479.75" r="2.3" class="s"/>
<circle cx="808.50" cy="488.50" r="2.3" class="s"/>
<circle cx="808.50" cy="497.30" r="2.3" class="s"/>
<rect x="802.00" y="370.70" width="9" height="4.6" rx="2.3" class="s" transform="rotate(0 806.50 373.00)"/>
<rect x="806.40" y="523.00" width="4.6" height="16" rx="2.3" class="s" transform="rotate(0 808.70 531.00)"/>
<circle cx="448.50" cy="564.40" r="2.3" class="s"/>
<circle cx="448.50" cy="573.10" r="2.3" class="s"/>
<circle cx="448.50" cy="582.00" r="2.3" class="s"/>
<circle cx="448.50" cy="591.00" r="2.3" class="s"/>
<circle cx="448.50" cy="600.00" r="2.3" class="s"/>
<circle cx="448.50" cy="608.50" r="2.3" class="s"/>
<circle cx="448.50" cy="617.50" r="2.3" class="s"/>
<circle cx="448.50" cy="626.50" r="2.3" class="s"/>
<circle cx="448.50" cy="635.50" r="2.3" class="s"/>
<circle cx="448.50" cy="644.50" r="2.3" class="s"/>
<circle cx="453.00" cy="653.00" r="2.3" class="s"/>
<circle cx="462.00" cy="662.00" r="2.3" class="s"/>
<circle cx="471.00" cy="671.00" r="2.3" class="s"/>
<circle cx="480.00" cy="680.00" r="2.3" class="s"/>
<circle cx="489.00" cy="689.00" r="2.3" class="s"/>
<circle cx="498.00" cy="698.00" r="2.3" class="s"/>
<circle cx="506.50" cy="706.50" r="2.3" class="s"/>
<rect x="513.20" y="713.20" width="4.6" height="4.6" class="s"/>
<rect x="513.20" y="722.07" width="4.6" height="4.6" class="s"/>
<rect x="513.20" y="730.94" width="4.6" height="4.6" class="s"/>
<rect x="513.20" y="739.81" width="4.6" height="4.6" class="s"/>
<circle cx="515.50" cy="750.98" r="2.3" class="s"/>
<circle cx="515.50" cy="759.85" r="2.3" class="s"/>
<circle cx="515.50" cy="768.72" r="2.3" class="s"/>
<rect x="513.20" y="775.29" width="4.6" height="4.6" class="s"/>
<rect x="513.20" y="784.16" width="4.6" height="4.6" class="s"/>
<rect x="513.20" y="793.03" width="4.6" height="4.6" class="s"/>
<rect x="513.20" y="801.90" width="4.6" height="4.6" class="s"/>
<rect x="513.20" y="810.77" width="4.6" height="4.6" class="s"/>
<circle cx="515.50" cy="821.94" r="2.3" class="s"/>
<circle cx="515.50" cy="830.81" r="2.3" class="s"/>
<circle cx="515.50" cy="839.68" r="2.3" class="s"/>
<circle cx="515.50" cy="848.55" r="2.3" class="s"/>
<circle cx="515.50" cy="857.42" r="2.3" class="s"/>
<rect x="513.20" y="863.99" width="4.6" height="4.6" class="s"/>
<rect x="513.20" y="872.86" width="4.6" height="4.6" class="s"/>
<rect x="513.20" y="881.73" width="4.6" height="4.6" class="s"/>
<rect x="513.20" y="890.60" width="4.6" height="4.6" class="s"/>
<circle cx="515.50" cy="901.77" r="2.3" class="s"/>
<circle cx="515.50" cy="910.64" r="2.3" class="s"/>
<circle cx="515.50" cy="919.51" r="2.3" class="s"/>
<rect x="499.50" y="935.00" width="5" height="5" class="s"/>
<circle cx="515.50" cy="937.50" r="2.3" class="s"/>
<circle cx="524.37" cy="937.50" r="2.3" class="s"/>
<circle cx="533.24" cy="937.50" r="2.3" class="s"/>
<circle cx="542.11" cy="937.50" r="2.3" class="s"/>
<circle cx="550.98" cy="937.50" r="2.3" class="s"/>
<circle cx="559.85" cy="937.50" r="2.3" class="s"/>
<circle cx="568.72" cy="937.50" r="2.3" class="s"/>
<circle cx="577.59" cy="937.50" r="2.3" class="s"/>
<circle cx="586.46" cy="937.50" r="2.3" class="s"/>
<circle cx="595.33" cy="937.50" r="2.3" class="s"/>
<circle cx="604.20" cy="937.50" r="2.3" class="s"/>
<circle cx="613.07" cy="937.50" r="2.3" class="s"/>
<circle cx="621.94" cy="937.50" r="2.3" class="s"/>
<circle cx="630.81" cy="937.50" r="2.3" class="s"/>
<circle cx="639.68" cy="937.50" r="2.3" class="s"/>
<circle cx="648.55" cy="937.50" r="2.3" class="s"/>
<circle cx="657.42" cy="937.50" r="2.3" class="s"/>
<circle cx="666.29" cy="937.50" r="2.3" class="s"/>
<circle cx="675.16" cy="937.50" r="2.3" class="s"/>
<circle cx="684.03" cy="937.50" r="2.3" class="s"/>
<circle cx="692.90" cy="937.50" r="2.3" class="s"/>
<circle cx="701.77" cy="937.50" r="2.3" class="s"/>
<circle cx="710.64" cy="937.50" r="2.3" class="s"/>
<circle cx="719.51" cy="937.50" r="2.3" class="s"/>
<circle cx="728.38" cy="937.50" r="2.3" class="s"/>
<circle cx="737.25" cy="937.50" r="2.3" class="s"/>
<circle cx="746.12" cy="937.50" r="2.3" class="s"/>
<rect x="753.00" y="931.00" width="4.6" height="9" rx="2.3" class="s" transform="rotate(0 755.30 935.50)"/>
<circle cx="763.86" cy="937.50" r="2.3" class="s"/>
<circle cx="772.73" cy="937.50" r="2.3" class="s"/>
<circle cx="781.60" cy="937.50" r="2.3" class="s"/>
<circle cx="790.47" cy="937.50" r="2.3" class="s"/>
<circle cx="799.34" cy="937.50" r="2.3" class="s"/>
<circle cx="808.50" cy="933.40" r="2.3" class="s"/>
<circle cx="808.50" cy="924.53" r="2.3" class="s"/>
<circle cx="808.50" cy="915.66" r="2.3" class="s"/>
<circle cx="808.50" cy="906.79" r="2.3" class="s"/>
<circle cx="808.50" cy="897.92" r="2.3" class="s"/>
<circle cx="808.50" cy="889.05" r="2.3" class="s"/>
<circle cx="808.50" cy="880.18" r="2.3" class="s"/>
<circle cx="808.50" cy="871.31" r="2.3" class="s"/>
<circle cx="808.50" cy="862.44" r="2.3" class="s"/>
<circle cx="808.50" cy="853.57" r="2.3" class="s"/>
<circle cx="808.50" cy="844.70" r="2.3" class="s"/>
<circle cx="808.50" cy="835.83" r="2.3" class="s"/>
<circle cx="808.50" cy="826.96" r="2.3" class="s"/>
<circle cx="808.50" cy="818.09" r="2.3" class="s"/>
<circle cx="808.50" cy="809.22" r="2.3" class="s"/>
<circle cx="808.50" cy="800.35" r="2.3" class="s"/>
<circle cx="808.50" cy="791.48" r="2.3" class="s"/>
<circle cx="822.00" cy="542.00" r="2.3" class="s"/>
<circle cx="831.00" cy="550.70" r="2.3" class="s"/>
<circle cx="831.00" cy="559.50" r="2.3" class="s"/>
<circle cx="831.00" cy="568.50" r="2.3" class="s"/>
<circle cx="831.00" cy="577.50" r="2.3" class="s"/>
<circle cx="831.00" cy="586.50" r="2.3" class="s"/>
<rect x="829.00" y="596.70" width="8" height="4.6" rx="2.3" class="s" transform="rotate(0 833.00 599.00)"/>
<rect x="838.00" y="605.70" width="8" height="4.6" rx="2.3" class="s" transform="rotate(0 842.00 608.00)"/>
<rect x="845.50" y="617.70" width="19" height="4.6" rx="2.3" class="s" transform="rotate(-45 855.00 620.00)"/>
<circle cx="871.00" cy="622.00" r="2.3" class="s"/>
<circle cx="884.50" cy="622.00" r="2.3" class="s"/>
<rect x="895.20" y="615.00" width="4.6" height="10" rx="2.3" class="s" transform="rotate(0 897.50 620.00)"/>
<rect x="908.70" y="615.00" width="4.6" height="10" rx="2.3" class="s" transform="rotate(0 911.00 620.00)"/>
<circle cx="924.50" cy="622.00" r="2.3" class="s"/>
<circle cx="937.50" cy="622.00" r="2.3" class="s"/>
<circle cx="973.50" cy="622.00" r="2.3" class="s"/>
<circle cx="986.50" cy="622.00" r="2.3" class="s"/>
<circle cx="1004.50" cy="622.00" r="2.3" class="s"/>
<circle cx="1022.00" cy="622.00" r="2.3" class="s"/>
<circle cx="1035.50" cy="622.00" r="2.3" class="s"/>
<circle cx="1071.00" cy="622.00" r="2.3" class="s"/>
<circle cx="1084.50" cy="622.00" r="2.3" class="s"/>
<circle cx="1097.50" cy="622.00" r="2.3" class="s"/>
<rect x="1108.70" y="615.00" width="4.6" height="10" rx="2.3" class="s" transform="rotate(0 1111.00 620.00)"/>
<circle cx="1128.50" cy="622.00" r="2.3" class="s"/>
<circle cx="1142.00" cy="622.00" r="2.3" class="s"/>
<circle cx="1160.00" cy="622.00" r="2.3" class="s"/>
<circle cx="1177.50" cy="622.00" r="2.3" class="s"/>
<circle cx="1195.00" cy="622.00" r="2.3" class="s"/>
<rect x="953.00" y="611.00" width="5" height="35" rx="2.5" class="s" transform="rotate(0 955.50 628.50)"/>
<rect x="1050.50" y="617.00" width="5" height="23" rx="2.5" class="s" transform="rotate(0 1053.00 628.50)"/>
<circle cx="840.00" cy="635.50" r="2.3" class="s"/>
<circle cx="830.50" cy="644.50" r="2.3" class="s"/>
<circle cx="822.00" cy="653.00" r="2.3" class="s"/>
<circle cx="813.00" cy="662.00" r="2.3" class="s"/>
<rect x="801.00" y="668.00" width="10" height="5" rx="2.5" class="s" transform="rotate(0 806.00 670.50)"/>
<circle cx="804.50" cy="680.00" r="2.3" class="s"/>
<circle cx="804.50" cy="689.00" r="2.3" class="s"/>
<rect x="802.50" y="695.00" width="11" height="5" rx="2.5" class="s" transform="rotate(0 808.00 697.50)"/>
<circle cx="804.50" cy="711.00" r="2.3" class="s"/>
<circle cx="804.50" cy="720.00" r="2.3" class="s"/>
<circle cx="804.50" cy="728.50" r="2.3" class="s"/>
<rect x="802.50" y="734.50" width="11" height="5" rx="2.5" class="s" transform="rotate(0 808.00 737.00)"/>
<rect x="802.20" y="743.70" width="4.6" height="4.6" class="s"/>
<rect x="802.50" y="752.50" width="11" height="5" rx="2.5" class="s" transform="rotate(0 808.00 755.00)"/>
<rect x="802.20" y="761.70" width="4.6" height="4.6" class="s"/>
<circle cx="804.50" cy="777.00" r="2.3" class="s"/>
<rect x="744.20" y="784.00" width="4.6" height="10" rx="2.3" class="s" transform="rotate(0 746.50 789.00)"/>
<circle cx="760.00" cy="791.00" r="2.3" class="s"/>
<circle cx="773.50" cy="791.00" r="2.3" class="s"/>
<circle cx="786.50" cy="791.00" r="2.3" class="s"/>
<rect x="730.00" y="788.50" width="5" height="5" class="s"/>
<rect x="673.20" y="784.20" width="4.6" height="4.6" class="s"/>
<circle cx="657.50" cy="799.50" r="2.3" class="s"/>
<circle cx="657.50" cy="813.00" r="2.3" class="s"/>
<circle cx="657.50" cy="826.00" r="2.3" class="s"/>
<circle cx="657.50" cy="839.50" r="2.3" class="s"/>
<circle cx="657.50" cy="853.00" r="2.3" class="s"/>
<circle cx="657.50" cy="866.50" r="2.3" class="s"/>
<circle cx="657.50" cy="880.00" r="2.3" class="s"/>
<circle cx="662.40" cy="888.70" r="2.3" class="s"/>
<circle cx="671.00" cy="897.40" r="2.3" class="s"/>
<circle cx="680.00" cy="906.20" r="2.3" class="s"/>
<circle cx="693.20" cy="911.30" r="2.3" class="s"/>
<circle cx="706.70" cy="911.30" r="2.3" class="s"/>
<circle cx="719.90" cy="911.30" r="2.3" class="s"/>
<circle cx="733.30" cy="911.30" r="2.3" class="s"/>
<circle cx="746.30" cy="915.50" r="2.3" class="s"/>
<rect x="753.00" y="922.00" width="4.6" height="4.6" class="s"/>
<circle cx="866.50" cy="666.50" r="2.3" class="s"/>
<rect x="904.20" y="513.20" width="4.6" height="4.6" class="s"/>
<rect x="904.20" y="530.70" width="4.6" height="4.6" class="s"/>
<circle cx="897.50" cy="555.50" r="2.3" class="s"/>
<circle cx="884.50" cy="568.50" r="2.3" class="s"/>
<circle cx="871.00" cy="582.00" r="2.3" class="s"/>
<circle cx="857.50" cy="595.50" r="2.3" class="s"/>
<circle cx="960.00" cy="524.50" r="2.3" class="s"/>
<circle cx="960.00" cy="542.00" r="2.3" class="s"/>
<circle cx="960.00" cy="560.00" r="2.3" class="s"/>
<circle cx="946.50" cy="573.50" r="2.3" class="s"/>
<rect x="932.00" y="579.50" width="12" height="5" rx="2.5" class="s" transform="rotate(0 938.00 582.00)"/>
<rect x="908.70" y="488.00" width="4.6" height="10" rx="2.3" class="s" transform="rotate(0 911.00 493.00)"/>
<circle cx="924.50" cy="493.00" r="2.3" class="s"/>
<rect x="939.70" y="486.00" width="4.6" height="10" rx="2.3" class="s" transform="rotate(0 942.00 491.00)"/>
<circle cx="955.50" cy="493.00" r="2.3" class="s"/>
<circle cx="942.00" cy="457.50" r="2.3" class="s"/>
<circle cx="973.00" cy="457.50" r="2.3" class="s"/>
<circle cx="995.50" cy="457.50" r="2.3" class="s"/>
<rect x="957.50" y="499.70" width="9" height="4.6" rx="2.3" class="s" transform="rotate(0 962.00 502.00)"/>
<circle cx="968.50" cy="515.00" r="2.3" class="s"/>
<circle cx="977.50" cy="515.00" r="2.3" class="s"/>
<circle cx="986.50" cy="515.00" r="2.3" class="s"/>
<circle cx="995.00" cy="515.00" r="2.3" class="s"/>
<circle cx="1008.50" cy="515.00" r="2.3" class="s"/>
<circle cx="1017.00" cy="515.00" r="2.3" class="s"/>
<circle cx="1026.00" cy="515.00" r="2.3" class="s"/>
<rect x="1033.20" y="512.70" width="4.6" height="4.6" class="s"/>
<rect x="1042.20" y="512.70" width="4.6" height="4.6" class="s"/>
<circle cx="1053.00" cy="520.00" r="2.3" class="s"/>
<circle cx="1053.00" cy="528.50" r="2.3" class="s"/>
<circle cx="1053.00" cy="537.50" r="2.3" class="s"/>
<circle cx="1053.00" cy="546.50" r="2.3" class="s"/>
<circle cx="1053.00" cy="555.00" r="2.3" class="s"/>
<circle cx="1048.50" cy="582.00" r="2.3" class="s"/>
<circle cx="1000.00" cy="311.25" r="2.3" class="s"/>
<circle cx="1000.00" cy="328.75" r="2.3" class="s"/>
<circle cx="1000.00" cy="346.25" r="2.3" class="s"/>
<circle cx="1000.00" cy="364.25" r="2.3" class="s"/>
<circle cx="1000.00" cy="382.00" r="2.3" class="s"/>
<circle cx="1000.00" cy="399.50" r="2.3" class="s"/>
<circle cx="1000.00" cy="417.50" r="2.3" class="s"/>
<circle cx="1000.00" cy="439.25" r="2.3" class="s"/>
<circle cx="1017.50" cy="293.00" r="2.3" class="s"/>
<circle cx="1040.00" cy="270.70" r="2.3" class="s"/>
<circle cx="1057.70" cy="253.00" r="2.3" class="s"/>
<rect x="1090.70" y="251.50" width="4.6" height="9" rx="2.3" class="s" transform="rotate(0 1093.00 256.00)"/>
<rect x="1113.20" y="250.70" width="4.6" height="4.6" class="s"/>
<circle cx="1142.00" cy="257.50" r="2.3" class="s"/>
<circle cx="1142.00" cy="271.00" r="2.3" class="s"/>
<circle cx="1142.00" cy="284.50" r="2.3" class="s"/>
<circle cx="1142.00" cy="298.00" r="2.3" class="s"/>
<circle cx="1133.00" cy="306.50" r="2.3" class="s"/>
<rect x="1090.70" y="264.20" width="4.6" height="4.6" class="s"/>
<rect x="1090.70" y="273.20" width="4.6" height="4.6" class="s"/>
<rect x="1090.70" y="282.20" width="4.6" height="4.6" class="s"/>
<rect x="1090.70" y="291.20" width="4.6" height="4.6" class="s"/>
<circle cx="1102.50" cy="302.00" r="2.3" class="s"/>
<circle cx="1111.00" cy="311.00" r="2.3" class="s"/>
<circle cx="1120.00" cy="320.00" r="2.3" class="s"/>
<circle cx="1129.00" cy="328.50" r="2.3" class="s"/>
<circle cx="1137.50" cy="337.50" r="2.3" class="s"/>
<circle cx="1151.00" cy="351.00" r="2.3" class="s"/>
<rect x="1162.20" y="362.20" width="4.6" height="4.6" class="s"/>
<circle cx="1173.50" cy="373.00" r="2.3" class="s"/>
<circle cx="1182.00" cy="382.00" r="2.3" class="s"/>
<circle cx="1191.00" cy="391.00" r="2.3" class="s"/>
<circle cx="1200.00" cy="400.00" r="2.3" class="s"/>
<circle cx="1209.00" cy="409.00" r="2.3" class="s"/>
<circle cx="1217.50" cy="417.50" r="2.3" class="s"/>
<circle cx="1226.50" cy="426.50" r="2.3" class="s"/>
<rect x="1229.00" y="442.20" width="8" height="4.6" rx="2.3" class="s" transform="rotate(0 1233.00 444.50)"/>
<circle cx="1231.00" cy="457.50" r="2.3" class="s"/>
<circle cx="1231.00" cy="466.50" r="2.3" class="s"/>
<rect x="1229.00" y="477.70" width="8" height="4.6" rx="2.3" class="s" transform="rotate(0 1233.00 480.00)"/>
<circle cx="1231.00" cy="493.00" r="2.3" class="s"/>
<circle cx="1231.00" cy="506.50" r="2.3" class="s"/>
<rect x="1229.00" y="521.70" width="12" height="4.6" rx="2.3" class="s" transform="rotate(0 1235.00 524.00)"/>
<rect x="1229.00" y="552.70" width="12" height="4.6" rx="2.3" class="s" transform="rotate(0 1235.00 555.00)"/>
<rect x="1221.00" y="588.00" width="34" height="5" rx="2.5" class="s" transform="rotate(0 1238.00 590.50)"/>
<circle cx="1244.50" cy="488.50" r="2.3" class="s"/>
<rect x="1242.20" y="495.20" width="4.6" height="4.6" class="s"/>
<circle cx="1280.00" cy="506.00" r="2.3" class="s"/>
<circle cx="1320.00" cy="506.00" r="2.3" class="s"/>
<circle cx="1271.00" cy="528.50" r="2.3" class="s"/>
<circle cx="1262.00" cy="537.50" r="2.3" class="s"/>
<circle cx="1284.50" cy="551.50" r="2.3" class="s"/>
<circle cx="1284.50" cy="577.00" r="2.3" class="s"/>
<rect x="1325.00" y="531.20" width="10" height="4.6" rx="2.3" class="s" transform="rotate(0 1330.00 533.50)"/>
<rect x="1324.00" y="566.20" width="10" height="4.6" rx="2.3" class="s" transform="rotate(0 1329.00 568.50)"/>
<rect x="1264.70" y="587.00" width="4.6" height="10" rx="2.3" class="s" transform="rotate(0 1267.00 592.00)"/>
<rect x="1304.20" y="584.00" width="4.6" height="12" rx="2.3" class="s" transform="rotate(0 1306.50 590.00)"/>
<circle cx="1244.5" cy="577" r="2.3" fill="#fff" stroke="#006a1a" stroke-width="1.5"/>
<circle cx="1320" cy="599.5" r="2.3" fill="#fff" stroke="#006a1a" stroke-width="1.5"/>
<circle cx="1222" cy="533" r="2.3" fill="#fff" stroke="#00705e" stroke-width="1.5"/>
<circle cx="1244.4" cy="533" r="2.3" fill="#fff" stroke="#00705e" stroke-width="1.5"/>
<circle cx="1213.00" cy="604.00" r="2.3" class="s"/>
<circle cx="986.50" cy="582.00" r="2.3" class="s"/>
<circle cx="1000.00" cy="582.00" r="2.3" class="s"/>
<circle cx="1013.50" cy="582.00" r="2.3" class="s"/>
<circle cx="1026.50" cy="586.50" r="2.3" class="s"/>
<rect x="962.20" y="602.20" width="4.6" height="4.6" class="s"/>
<rect x="1015.50" y="597.00" width="9" height="5" rx="2.5" class="s" transform="rotate(0 1020.00 599.50)"/>
<rect x="1027.50" y="608.70" width="9" height="4.6" rx="2.3" class="s" transform="rotate(-45 1032.00 611.00)"/>
<rect x="1033.20" y="650.70" width="4.6" height="4.6" class="s"/>
<rect x="1033.20" y="664.20" width="4.6" height="4.6" class="s"/>
<circle cx="1035.50" cy="680.00" r="2.3" class="s"/>
<rect x="1033.20" y="691.20" width="4.6" height="4.6" class="s"/>
<circle cx="978.00" cy="711.00" r="2.3" class="s"/>
<circle cx="991.00" cy="706.50" r="2.3" class="s"/>
<rect x="1002.20" y="704.20" width="4.6" height="4.6" class="s"/>
<circle cx="1018.00" cy="706.50" r="2.3" class="s"/>
<circle cx="1031.00" cy="706.50" r="2.3" class="s"/>
<rect x="971.20" y="721.70" width="4.6" height="4.6" class="s"/>
<rect x="970.50" y="735.00" width="9" height="5" rx="2.5" class="s" transform="rotate(0 975.00 737.50)"/>
<circle cx="933.50" cy="711.00" r="2.3" class="s"/>
<rect x="931.20" y="721.70" width="4.6" height="4.6" class="s"/>
<circle cx="933.50" cy="737.50" r="2.3" class="s"/>
<circle cx="938.00" cy="746.00" r="2.3" class="s"/>
<rect x="953.20" y="743.70" width="4.6" height="4.6" class="s"/>
<circle cx="968.50" cy="746.00" r="2.3" class="s"/>
<rect x="922.00" y="655.00" width="12" height="5" rx="2.5" class="s" transform="rotate(0 928.00 657.50)"/>
<rect x="923.00" y="664.00" width="12" height="5" rx="2.5" class="s" transform="rotate(0 929.00 666.50)"/>
<rect x="924.50" y="699.50" width="9" height="5" rx="2.5" class="s" transform="rotate(0 929.00 702.00)"/>
<circle cx="835.00" cy="693.50" r="2.3" class="s"/>
<circle cx="844.50" cy="702.00" r="2.3" class="s"/>
<circle cx="857.50" cy="711.00" r="2.3" class="s"/>
<circle cx="875.50" cy="711.00" r="2.3" class="s"/>
<circle cx="893.50" cy="711.00" r="2.3" class="s"/>
<circle cx="911.50" cy="711.00" r="2.3" class="s"/>
<circle cx="982.00" cy="746.50" r="2.3" class="s"/>
<circle cx="995.50" cy="751.00" r="2.3" class="s"/>
<circle cx="1009.00" cy="751.00" r="2.3" class="s"/>
<circle cx="1022.00" cy="751.00" r="2.3" class="s"/>
<circle cx="1035.50" cy="751.00" r="2.3" class="s"/>
<circle cx="1049.00" cy="751.00" r="2.3" class="s"/>
<circle cx="1062.00" cy="751.00" r="2.3" class="s"/>
<circle cx="1075.50" cy="751.00" r="2.3" class="s"/>
<circle cx="1089.00" cy="751.00" r="2.3" class="s"/>
<circle cx="1097.50" cy="746.50" r="2.3" class="s"/>
<circle cx="1111.00" cy="746.50" r="2.3" class="s"/>
<circle cx="1124.50" cy="746.50" r="2.3" class="s"/>
<circle cx="1138.00" cy="746.50" r="2.3" class="s"/>
<circle cx="840.00" cy="751.00" r="2.3" class="s"/>
<circle cx="857.50" cy="751.00" r="2.3" class="s"/>
<circle cx="875.50" cy="759.50" r="2.3" class="s"/>
<circle cx="889.00" cy="773.00" r="2.3" class="s"/>
<circle cx="902.00" cy="786.50" r="2.3" class="s"/>
<circle cx="919.50" cy="786.50" r="2.3" class="s"/>
<circle cx="937.50" cy="786.50" r="2.3" class="s"/>
<circle cx="955.50" cy="786.50" r="2.3" class="s"/>
<circle cx="973.00" cy="786.50" r="2.3" class="s"/>
<circle cx="986.50" cy="795.00" r="2.3" class="s"/>
<circle cx="1004.50" cy="800.00" r="2.3" class="s"/>
<circle cx="1022.00" cy="800.00" r="2.3" class="s"/>
<circle cx="1040.00" cy="800.00" r="2.3" class="s"/>
<circle cx="1057.50" cy="800.00" r="2.3" class="s"/>
<circle cx="1075.50" cy="800.00" r="2.3" class="s"/>
<circle cx="1093.00" cy="800.00" r="2.3" class="s"/>
<circle cx="1111.00" cy="800.00" r="2.3" class="s"/>
<circle cx="1124.50" cy="800.00" r="2.3" class="s"/>
<circle cx="1138.00" cy="786.50" r="2.3" class="s"/>
<circle cx="1151.00" cy="773.00" r="2.3" class="s"/>
<circle cx="1169.00" cy="755.50" r="2.3" class="s"/>
<rect x="1148.00" y="668.50" width="10" height="5" rx="2.5" class="s" transform="rotate(0 1153.00 671.00)"/>
<circle cx="1151.00" cy="693.00" r="2.3" class="s"/>
<circle cx="1151.00" cy="711.00" r="2.3" class="s"/>
<rect x="1148.00" y="726.00" width="10" height="5" rx="2.5" class="s" transform="rotate(0 1153.00 728.50)"/>
<circle cx="1200.00" cy="760.00" r="2.3" class="s"/>
<circle cx="1235.50" cy="751.00" r="2.3" class="s"/>
<circle cx="1249.00" cy="737.50" r="2.3" class="s"/>
<circle cx="1271.00" cy="733.50" r="2.3" class="s"/>
<circle cx="1293.00" cy="733.50" r="2.3" class="s"/>
<circle cx="1311.00" cy="724.50" r="2.3" class="s"/>
<circle cx="1324.50" cy="711.00" r="2.3" class="s"/>
<circle cx="1337.50" cy="697.50" r="2.3" class="s"/>
<circle cx="1346.50" cy="684.50" r="2.3" class="s"/>
<circle cx="1346.00" cy="666.00" r="2.3" class="s"/>
<circle cx="1346.00" cy="648.50" r="2.3" class="s"/>
<rect x="1339.50" y="628.50" width="10" height="5" rx="2.5" class="s" transform="rotate(0 1344.50 631.00)"/>
<rect x="1330.00" y="615.00" width="10" height="5" rx="2.5" class="s" transform="rotate(0 1335.00 617.50)"/>
<circle cx="1288.50" cy="613.00" r="2.3" class="s"/>
<circle cx="1280.00" cy="648.50" r="2.3" class="s"/>
<circle cx="1315.00" cy="648.50" r="2.3" class="s"/>
<circle cx="1231.50" cy="662.00" r="2.3" class="s"/>
<circle cx="1195.50" cy="662.00" r="2.3" class="s"/>
<rect x="1113.20" y="570.70" width="4.6" height="4.6" class="s"/>
<rect x="1105.00" y="561.50" width="12" height="5" rx="2.5" class="s" transform="rotate(0 1111.00 564.00)"/>
<circle cx="1129.50" cy="551.00" r="2.3" class="s"/>
<circle cx="1142.00" cy="537.50" r="2.3" class="s"/>
<circle cx="1160.00" cy="537.50" r="2.3" class="s"/>
<rect x="1175.00" y="544.00" width="10" height="5" rx="2.5" class="s" transform="rotate(0 1180.00 546.50)"/>
<circle cx="1111.00" cy="591.00" r="2.3" class="s"/>
<circle cx="1093.50" cy="604.50" r="2.3" class="s"/>
<circle cx="1062.50" cy="604.50" r="2.3" class="s"/>
</svg></body></html>
